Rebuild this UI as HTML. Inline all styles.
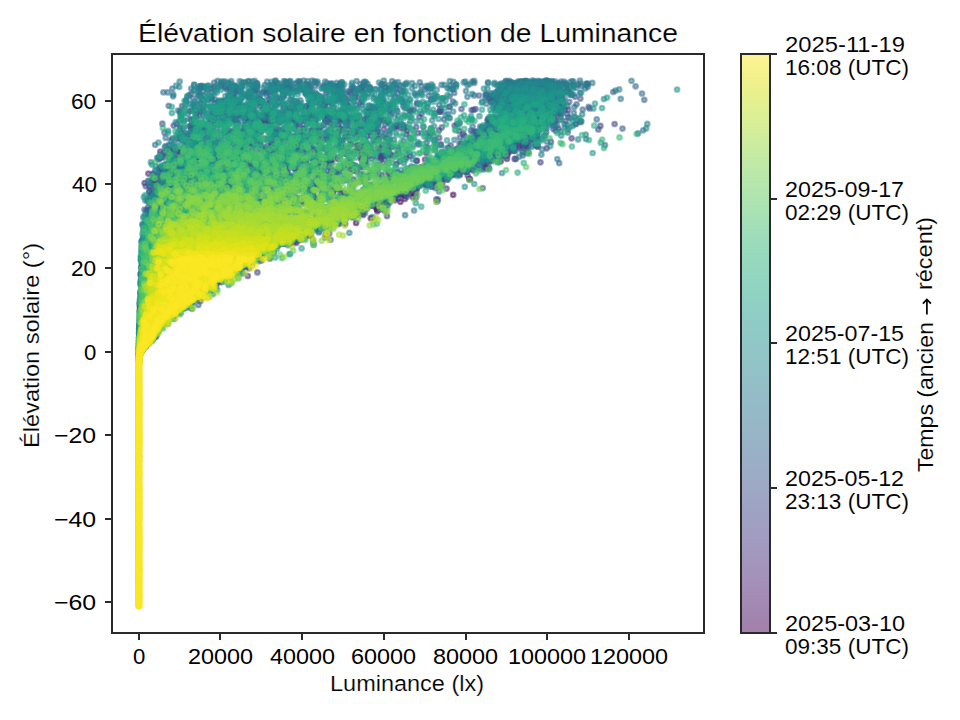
<!DOCTYPE html>
<html><head><meta charset="utf-8"><style>
html,body{margin:0;padding:0;background:#fff;width:960px;height:720px;overflow:hidden}
svg{display:block}
text{font-family:"Liberation Sans", sans-serif;fill:#000}
</style></head><body>
<svg width="960" height="720" viewBox="0 0 960 720">
<rect width="960" height="720" fill="#fff"/>
<defs><marker id="k0" markerUnits="userSpaceOnUse" markerWidth="1" markerHeight="1" overflow="visible"><circle r="2.33" fill="#450457" stroke="#450457" fill-opacity="0.5" stroke-opacity="0.5" stroke-width="2.083"/></marker><marker id="k1" markerUnits="userSpaceOnUse" markerWidth="1" markerHeight="1" overflow="visible"><circle r="2.33" fill="#460a5d" stroke="#460a5d" fill-opacity="0.5" stroke-opacity="0.5" stroke-width="2.083"/></marker><marker id="k2" markerUnits="userSpaceOnUse" markerWidth="1" markerHeight="1" overflow="visible"><circle r="2.33" fill="#471063" stroke="#471063" fill-opacity="0.5" stroke-opacity="0.5" stroke-width="2.083"/></marker><marker id="k3" markerUnits="userSpaceOnUse" markerWidth="1" markerHeight="1" overflow="visible"><circle r="2.33" fill="#481668" stroke="#481668" fill-opacity="0.5" stroke-opacity="0.5" stroke-width="2.083"/></marker><marker id="k4" markerUnits="userSpaceOnUse" markerWidth="1" markerHeight="1" overflow="visible"><circle r="2.33" fill="#481b6d" stroke="#481b6d" fill-opacity="0.5" stroke-opacity="0.5" stroke-width="2.083"/></marker><marker id="k5" markerUnits="userSpaceOnUse" markerWidth="1" markerHeight="1" overflow="visible"><circle r="2.33" fill="#482071" stroke="#482071" fill-opacity="0.5" stroke-opacity="0.5" stroke-width="2.083"/></marker><marker id="k6" markerUnits="userSpaceOnUse" markerWidth="1" markerHeight="1" overflow="visible"><circle r="2.33" fill="#482576" stroke="#482576" fill-opacity="0.5" stroke-opacity="0.5" stroke-width="2.083"/></marker><marker id="k7" markerUnits="userSpaceOnUse" markerWidth="1" markerHeight="1" overflow="visible"><circle r="2.33" fill="#472a7a" stroke="#472a7a" fill-opacity="0.5" stroke-opacity="0.5" stroke-width="2.083"/></marker><marker id="k8" markerUnits="userSpaceOnUse" markerWidth="1" markerHeight="1" overflow="visible"><circle r="2.33" fill="#472f7d" stroke="#472f7d" fill-opacity="0.5" stroke-opacity="0.5" stroke-width="2.083"/></marker><marker id="k9" markerUnits="userSpaceOnUse" markerWidth="1" markerHeight="1" overflow="visible"><circle r="2.33" fill="#463480" stroke="#463480" fill-opacity="0.5" stroke-opacity="0.5" stroke-width="2.083"/></marker><marker id="k10" markerUnits="userSpaceOnUse" markerWidth="1" markerHeight="1" overflow="visible"><circle r="2.33" fill="#443983" stroke="#443983" fill-opacity="0.5" stroke-opacity="0.5" stroke-width="2.083"/></marker><marker id="k11" markerUnits="userSpaceOnUse" markerWidth="1" markerHeight="1" overflow="visible"><circle r="2.33" fill="#433e85" stroke="#433e85" fill-opacity="0.5" stroke-opacity="0.5" stroke-width="2.083"/></marker><marker id="k12" markerUnits="userSpaceOnUse" markerWidth="1" markerHeight="1" overflow="visible"><circle r="2.33" fill="#414287" stroke="#414287" fill-opacity="0.5" stroke-opacity="0.5" stroke-width="2.083"/></marker><marker id="k13" markerUnits="userSpaceOnUse" markerWidth="1" markerHeight="1" overflow="visible"><circle r="2.33" fill="#3f4788" stroke="#3f4788" fill-opacity="0.5" stroke-opacity="0.5" stroke-width="2.083"/></marker><marker id="k14" markerUnits="userSpaceOnUse" markerWidth="1" markerHeight="1" overflow="visible"><circle r="2.33" fill="#3e4c8a" stroke="#3e4c8a" fill-opacity="0.5" stroke-opacity="0.5" stroke-width="2.083"/></marker><marker id="k15" markerUnits="userSpaceOnUse" markerWidth="1" markerHeight="1" overflow="visible"><circle r="2.33" fill="#3c508b" stroke="#3c508b" fill-opacity="0.5" stroke-opacity="0.5" stroke-width="2.083"/></marker><marker id="k16" markerUnits="userSpaceOnUse" markerWidth="1" markerHeight="1" overflow="visible"><circle r="2.33" fill="#3a548c" stroke="#3a548c" fill-opacity="0.5" stroke-opacity="0.5" stroke-width="2.083"/></marker><marker id="k17" markerUnits="userSpaceOnUse" markerWidth="1" markerHeight="1" overflow="visible"><circle r="2.33" fill="#38598c" stroke="#38598c" fill-opacity="0.5" stroke-opacity="0.5" stroke-width="2.083"/></marker><marker id="k18" markerUnits="userSpaceOnUse" markerWidth="1" markerHeight="1" overflow="visible"><circle r="2.33" fill="#365d8d" stroke="#365d8d" fill-opacity="0.5" stroke-opacity="0.5" stroke-width="2.083"/></marker><marker id="k19" markerUnits="userSpaceOnUse" markerWidth="1" markerHeight="1" overflow="visible"><circle r="2.33" fill="#34618d" stroke="#34618d" fill-opacity="0.5" stroke-opacity="0.5" stroke-width="2.083"/></marker><marker id="k20" markerUnits="userSpaceOnUse" markerWidth="1" markerHeight="1" overflow="visible"><circle r="2.33" fill="#32658e" stroke="#32658e" fill-opacity="0.5" stroke-opacity="0.5" stroke-width="2.083"/></marker><marker id="k21" markerUnits="userSpaceOnUse" markerWidth="1" markerHeight="1" overflow="visible"><circle r="2.33" fill="#30698e" stroke="#30698e" fill-opacity="0.5" stroke-opacity="0.5" stroke-width="2.083"/></marker><marker id="k22" markerUnits="userSpaceOnUse" markerWidth="1" markerHeight="1" overflow="visible"><circle r="2.33" fill="#2e6d8e" stroke="#2e6d8e" fill-opacity="0.5" stroke-opacity="0.5" stroke-width="2.083"/></marker><marker id="k23" markerUnits="userSpaceOnUse" markerWidth="1" markerHeight="1" overflow="visible"><circle r="2.33" fill="#2d718e" stroke="#2d718e" fill-opacity="0.5" stroke-opacity="0.5" stroke-width="2.083"/></marker><marker id="k24" markerUnits="userSpaceOnUse" markerWidth="1" markerHeight="1" overflow="visible"><circle r="2.33" fill="#2b748e" stroke="#2b748e" fill-opacity="0.5" stroke-opacity="0.5" stroke-width="2.083"/></marker><marker id="k25" markerUnits="userSpaceOnUse" markerWidth="1" markerHeight="1" overflow="visible"><circle r="2.33" fill="#2a788e" stroke="#2a788e" fill-opacity="0.5" stroke-opacity="0.5" stroke-width="2.083"/></marker><marker id="k26" markerUnits="userSpaceOnUse" markerWidth="1" markerHeight="1" overflow="visible"><circle r="2.33" fill="#287c8e" stroke="#287c8e" fill-opacity="0.5" stroke-opacity="0.5" stroke-width="2.083"/></marker><marker id="k27" markerUnits="userSpaceOnUse" markerWidth="1" markerHeight="1" overflow="visible"><circle r="2.33" fill="#27808e" stroke="#27808e" fill-opacity="0.5" stroke-opacity="0.5" stroke-width="2.083"/></marker><marker id="k28" markerUnits="userSpaceOnUse" markerWidth="1" markerHeight="1" overflow="visible"><circle r="2.33" fill="#25838e" stroke="#25838e" fill-opacity="0.5" stroke-opacity="0.5" stroke-width="2.083"/></marker><marker id="k29" markerUnits="userSpaceOnUse" markerWidth="1" markerHeight="1" overflow="visible"><circle r="2.33" fill="#24878e" stroke="#24878e" fill-opacity="0.5" stroke-opacity="0.5" stroke-width="2.083"/></marker><marker id="k30" markerUnits="userSpaceOnUse" markerWidth="1" markerHeight="1" overflow="visible"><circle r="2.33" fill="#228b8d" stroke="#228b8d" fill-opacity="0.5" stroke-opacity="0.5" stroke-width="2.083"/></marker><marker id="k31" markerUnits="userSpaceOnUse" markerWidth="1" markerHeight="1" overflow="visible"><circle r="2.33" fill="#218f8d" stroke="#218f8d" fill-opacity="0.5" stroke-opacity="0.5" stroke-width="2.083"/></marker><marker id="k32" markerUnits="userSpaceOnUse" markerWidth="1" markerHeight="1" overflow="visible"><circle r="2.33" fill="#20928c" stroke="#20928c" fill-opacity="0.5" stroke-opacity="0.5" stroke-width="2.083"/></marker><marker id="k33" markerUnits="userSpaceOnUse" markerWidth="1" markerHeight="1" overflow="visible"><circle r="2.33" fill="#1f968b" stroke="#1f968b" fill-opacity="0.5" stroke-opacity="0.5" stroke-width="2.083"/></marker><marker id="k34" markerUnits="userSpaceOnUse" markerWidth="1" markerHeight="1" overflow="visible"><circle r="2.33" fill="#1f9a8a" stroke="#1f9a8a" fill-opacity="0.5" stroke-opacity="0.5" stroke-width="2.083"/></marker><marker id="k35" markerUnits="userSpaceOnUse" markerWidth="1" markerHeight="1" overflow="visible"><circle r="2.33" fill="#1f9e89" stroke="#1f9e89" fill-opacity="0.5" stroke-opacity="0.5" stroke-width="2.083"/></marker><marker id="k36" markerUnits="userSpaceOnUse" markerWidth="1" markerHeight="1" overflow="visible"><circle r="2.33" fill="#1fa187" stroke="#1fa187" fill-opacity="0.5" stroke-opacity="0.5" stroke-width="2.083"/></marker><marker id="k37" markerUnits="userSpaceOnUse" markerWidth="1" markerHeight="1" overflow="visible"><circle r="2.33" fill="#21a585" stroke="#21a585" fill-opacity="0.5" stroke-opacity="0.5" stroke-width="2.083"/></marker><marker id="k38" markerUnits="userSpaceOnUse" markerWidth="1" markerHeight="1" overflow="visible"><circle r="2.33" fill="#23a983" stroke="#23a983" fill-opacity="0.5" stroke-opacity="0.5" stroke-width="2.083"/></marker><marker id="k39" markerUnits="userSpaceOnUse" markerWidth="1" markerHeight="1" overflow="visible"><circle r="2.33" fill="#26ad81" stroke="#26ad81" fill-opacity="0.5" stroke-opacity="0.5" stroke-width="2.083"/></marker><marker id="k40" markerUnits="userSpaceOnUse" markerWidth="1" markerHeight="1" overflow="visible"><circle r="2.33" fill="#2ab07f" stroke="#2ab07f" fill-opacity="0.5" stroke-opacity="0.5" stroke-width="2.083"/></marker><marker id="k41" markerUnits="userSpaceOnUse" markerWidth="1" markerHeight="1" overflow="visible"><circle r="2.33" fill="#2fb47c" stroke="#2fb47c" fill-opacity="0.5" stroke-opacity="0.5" stroke-width="2.083"/></marker><marker id="k42" markerUnits="userSpaceOnUse" markerWidth="1" markerHeight="1" overflow="visible"><circle r="2.33" fill="#35b779" stroke="#35b779" fill-opacity="0.5" stroke-opacity="0.5" stroke-width="2.083"/></marker><marker id="k43" markerUnits="userSpaceOnUse" markerWidth="1" markerHeight="1" overflow="visible"><circle r="2.33" fill="#3bbb75" stroke="#3bbb75" fill-opacity="0.5" stroke-opacity="0.5" stroke-width="2.083"/></marker><marker id="k44" markerUnits="userSpaceOnUse" markerWidth="1" markerHeight="1" overflow="visible"><circle r="2.33" fill="#42be71" stroke="#42be71" fill-opacity="0.5" stroke-opacity="0.5" stroke-width="2.083"/></marker><marker id="k45" markerUnits="userSpaceOnUse" markerWidth="1" markerHeight="1" overflow="visible"><circle r="2.33" fill="#4ac16d" stroke="#4ac16d" fill-opacity="0.5" stroke-opacity="0.5" stroke-width="2.083"/></marker><marker id="k46" markerUnits="userSpaceOnUse" markerWidth="1" markerHeight="1" overflow="visible"><circle r="2.33" fill="#52c569" stroke="#52c569" fill-opacity="0.5" stroke-opacity="0.5" stroke-width="2.083"/></marker><marker id="k47" markerUnits="userSpaceOnUse" markerWidth="1" markerHeight="1" overflow="visible"><circle r="2.33" fill="#5ac864" stroke="#5ac864" fill-opacity="0.5" stroke-opacity="0.5" stroke-width="2.083"/></marker><marker id="k48" markerUnits="userSpaceOnUse" markerWidth="1" markerHeight="1" overflow="visible"><circle r="2.33" fill="#63cb5f" stroke="#63cb5f" fill-opacity="0.5" stroke-opacity="0.5" stroke-width="2.083"/></marker><marker id="k49" markerUnits="userSpaceOnUse" markerWidth="1" markerHeight="1" overflow="visible"><circle r="2.33" fill="#6ccd5a" stroke="#6ccd5a" fill-opacity="0.5" stroke-opacity="0.5" stroke-width="2.083"/></marker><marker id="k50" markerUnits="userSpaceOnUse" markerWidth="1" markerHeight="1" overflow="visible"><circle r="2.33" fill="#75d054" stroke="#75d054" fill-opacity="0.5" stroke-opacity="0.5" stroke-width="2.083"/></marker><marker id="k51" markerUnits="userSpaceOnUse" markerWidth="1" markerHeight="1" overflow="visible"><circle r="2.33" fill="#7fd34e" stroke="#7fd34e" fill-opacity="0.5" stroke-opacity="0.5" stroke-width="2.083"/></marker><marker id="k52" markerUnits="userSpaceOnUse" markerWidth="1" markerHeight="1" overflow="visible"><circle r="2.33" fill="#89d548" stroke="#89d548" fill-opacity="0.5" stroke-opacity="0.5" stroke-width="2.083"/></marker><marker id="k53" markerUnits="userSpaceOnUse" markerWidth="1" markerHeight="1" overflow="visible"><circle r="2.33" fill="#93d741" stroke="#93d741" fill-opacity="0.5" stroke-opacity="0.5" stroke-width="2.083"/></marker><marker id="k54" markerUnits="userSpaceOnUse" markerWidth="1" markerHeight="1" overflow="visible"><circle r="2.33" fill="#9dd93b" stroke="#9dd93b" fill-opacity="0.5" stroke-opacity="0.5" stroke-width="2.083"/></marker><marker id="k55" markerUnits="userSpaceOnUse" markerWidth="1" markerHeight="1" overflow="visible"><circle r="2.33" fill="#a8db34" stroke="#a8db34" fill-opacity="0.5" stroke-opacity="0.5" stroke-width="2.083"/></marker><marker id="k56" markerUnits="userSpaceOnUse" markerWidth="1" markerHeight="1" overflow="visible"><circle r="2.33" fill="#b2dd2d" stroke="#b2dd2d" fill-opacity="0.5" stroke-opacity="0.5" stroke-width="2.083"/></marker><marker id="k57" markerUnits="userSpaceOnUse" markerWidth="1" markerHeight="1" overflow="visible"><circle r="2.33" fill="#bddf26" stroke="#bddf26" fill-opacity="0.5" stroke-opacity="0.5" stroke-width="2.083"/></marker><marker id="k58" markerUnits="userSpaceOnUse" markerWidth="1" markerHeight="1" overflow="visible"><circle r="2.33" fill="#c8e020" stroke="#c8e020" fill-opacity="0.5" stroke-opacity="0.5" stroke-width="2.083"/></marker><marker id="k59" markerUnits="userSpaceOnUse" markerWidth="1" markerHeight="1" overflow="visible"><circle r="2.33" fill="#d2e21b" stroke="#d2e21b" fill-opacity="0.5" stroke-opacity="0.5" stroke-width="2.083"/></marker><marker id="k60" markerUnits="userSpaceOnUse" markerWidth="1" markerHeight="1" overflow="visible"><circle r="2.33" fill="#dde318" stroke="#dde318" fill-opacity="0.5" stroke-opacity="0.5" stroke-width="2.083"/></marker><marker id="k61" markerUnits="userSpaceOnUse" markerWidth="1" markerHeight="1" overflow="visible"><circle r="2.33" fill="#e7e419" stroke="#e7e419" fill-opacity="0.5" stroke-opacity="0.5" stroke-width="2.083"/></marker><marker id="k62" markerUnits="userSpaceOnUse" markerWidth="1" markerHeight="1" overflow="visible"><circle r="2.33" fill="#f1e51d" stroke="#f1e51d" fill-opacity="0.5" stroke-opacity="0.5" stroke-width="2.083"/></marker><marker id="k63" markerUnits="userSpaceOnUse" markerWidth="1" markerHeight="1" overflow="visible"><circle r="2.33" fill="#fbe723" stroke="#fbe723" fill-opacity="0.5" stroke-opacity="0.5" stroke-width="2.083"/></marker></defs><g fill="none" stroke="none"><path d="M345.4 219l51-24-22 11.3-24.1 9.9-41.4 3.9-114.1 79 120-71.1-5.5-33-19.4-1.6 32.4-0.1 130.9 1.5-49.3 0.6 8.9 1.5-30.4 7.9-5.1 6.4-21 3.6-0.2 8.1-1.8-28.9-7-0.7-39.7-0.6 24.5 0.5 81.9 1.3-19.4 3.7-25.9 6.6-5.8 6.7-163.1 85.3 171-78.6-60.8-20.2-6.1-1.2-19.2-3.8-22 3.7 120.9 6.6-23.3 6.8" marker-start="url(#k0)" marker-mid="url(#k0)" marker-end="url(#k0)"/>
<path d="M160.3 197.6l-6.3-5.4 116.3-2.7 28.1 0.5 44.3 2.2-29.9 2.9 0.9 3.8-4.1 6.2-3.3 7.3 3.4 18.9 43.2-14.2 23.8-8.2 9.3-3.7 14.4-3.4-5.6-1.6-52.4-4.3 9.8-4.5 58.3-4.6 21.7-0.1-127.3 0 21.3 0.1-15.5 0.6-49.7 1-29.8 1.4 173.8 5-113.1 10.6-70.7 76.7 166.5-83.6-135.5-5.5-97.2-8 1.3 0 157.4 0.8-55.5 0.4 53.2 2.8-28.5 1.9 79.2 16.7-3.1 4.1-71.3-9.8 28.6-3.5-21.5-1.6 101.3-2.9-164.8-6.8 190.6-2.9-51.3 1-231.5 157.8 0-10.4 0.1-3.4" marker-start="url(#k1)" marker-mid="url(#k1)" marker-end="url(#k1)"/>
<path d="M280.9 202l-131.5-15.7 7.2-3.9 2.8-0.7-8.3 0.8 9.2 0.5 92.1 78.9 125.9-59.6-214.7-18.5 64.3-0.8 207.1-2.6-257.5 0.5 20.7 0.5 78.8 2 68.2 40.4-83.9 36.7-111.6-63.6 252.8-3.5-67.8-13.6 107.5 3.9-14.5 1-201 2.4 86.6 4.2-5.6 1.6 15.7 34.8-183.8 97.1 0.7-17 264.5-108.8-151.9-1.9-91.5-9.9 70.6-6.8 237.3-1.5-178.3-1.1-93.8-1.1 85.3 1 5.2 10.6-23.4 10.3 26 4-20.7 55.6-130.5 198 15.3-119" marker-start="url(#k2)" marker-mid="url(#k2)" marker-end="url(#k2)"/>
<path d="M243.2 266.7l94.4-67.4 49-19.7 4.2-1.7 11.5-2.8-3.5 0-16.8 0.1-32.8 20.1-1.5 3.9 15.3 15.7-45.4 13-60.7 29.1-9.2 9.4 115.7-76.3 56.1-4.8 38.5-11.9-187 0.1-18.1 26.4 85.9 24-139.3 72.7 87.6-84.7 92.5-2.4-93.6-28.7 155.8-1.3-53.2-5.6 2.3-2-91.8 7.8-55.6 2.7 73.6 29.9 1.9 15.9-18.1 11.4-10.9 3-44.3 21.6-104.6 87.8 148.6-108.4 100.6-47.1 10.1-4.1 9.7-1.9 4.5-1.9 36.9-14.9 14.8-2.1 0.7-0.9 5.9-0.4-19.1 4.6-81.7 12.4-40.6 36.9-190.6 128" marker-start="url(#k3)" marker-mid="url(#k3)" marker-end="url(#k3)"/>
<path d="M206.1 290.3l56.9-35.9 48.1-18.3 175-67.6-30.6 3.9 14.5 7-72.8 14.2-147.2 68.9 43.7-60.2 7.1-2.4-116.7-10.8 113.5-1.9 126.1-5.4-169.5-6 7.5-8.9-63.3 0 84.8 2.3 26.7 1.6 50.6 3.2-32.1 1.2-12.5 1.3 51.9 1.4-14.3 1.6-1.2 6.8-14.3 1.9-5.1 4.1-24.9 4.3 8 2.2 5 7.2-128.2 94.7 128-73.5-173.4-26.5 4.2-6.9 6.4-2.2-2.2-4.1-1.4-5.6 4.9-13.2 329.4-0.8-261.1-1.3 83.2-0.5 117.2-0.9-261.1 0.4 2.3 5.7-7.4 1.2-8.5 1.2 3.6 1.3 4.7 1.5-8.4 1.5-1 3.3-7.6 1.7 18.7 1.9 124.1 19.8 28.1 9.7 103.2-30.5 6.7-18.4-28.1 6.7 62.6 2.8-27.8 6.6 4.8 1.9-287.5 8.2 113.8 60.6-67.7 46.4-56.4 61.9 0.6-34.9" marker-start="url(#k4)" marker-mid="url(#k4)" marker-end="url(#k4)"/>
<path d="M303.2 199.9l85.3-15.6-194.5-2 95.8-3.7 77.1-1.7-14.8-11.5-155.4 11.3 111.2 7.3-150.6 148-14.6-91.3 0.4-3.1 230.2-34.2-202.2-16.6 122.1-8-92.9-3.6 155.2-9.6-105.4-4.4 78.9-0.7-47.1-0.2-48.8 2.7-9.1 3.7 23.9 3.9-99.5 3 17.8 9.1 110.2 15.7 66.1 21.4-81 7.2 71.2-55 18.4-3.1-10.3-1.3 37.2-2.5 122.8-3.8-2.4-2.5 8.7 0.2-20.4 1.7-90.3 3.4-34 2.3-140.3 1.3-36.4 1.4 26.8 117.9 87.6-101.2-106.8-18.5-24.4-9.7 275.7-0.4 46 0.2-233.2 7.6-79.6 5.8 46.1 1.6 87.3 23.4 73.6 2.6-109.8 5.2-59.6 80.8" marker-start="url(#k5)" marker-mid="url(#k5)" marker-end="url(#k5)"/>
<path d="M216.6 186.5l104.4-8.7-67.4-1.9 83-3.8 2.5-1.7-27.7-1.7 14.2-4.4-28.9-1.3 69-1.2-35.1-1.1-32.5-1 107.8-1.7-22.6-2.3-1.3-0.2 9.4 0.1-30.5 2.7-78.5 12.7 17 1.8-40.2 1.9-61.4 8.1 120.2 2.2-164.9 17.3 234.4 2.9 4.2-8 7.6-2.6-25-7.3 88.5-20.2-175.2-1.5 60.5-2.9 154.1-7 4.5-1.4-5.2 0.6 4.7 0.5-20.9 4.2 6.4 1.2-3 1.2-60.6 4.3 3.5 13-29.8 11.5-61.5 5.1-168.8 120.8 124.8-73.8-143.4-61.8 7.4-4.4 14.9-4-15.4-1.9 124.7-8.3 0.3-1.4 52.1-2.5-122.1-1.1 15.2-1 88.1-1.7-124.6-2.4-13.9 0.2 17.1 4.5 16.5 1 104.1 6.8 17.2 9 33.9 2-21.2 4.3-104.9 2.3 144.3 14.8-48.4 2.6-58.6 20-139 54.7 0.1 30.8 150.3-63.9 11.5-3.2 35-15.7 41.2-36 46.3-27.1 26.9-8.4 2.2 0.3-11.6 1.6 41.7 10.5 0.8 3.4-43.5 9.8-300.9 107.1-0.7 20.6 0.2 6.9" marker-start="url(#k6)" marker-mid="url(#k6)" marker-end="url(#k6)"/>
<path d="M382.4 200.8l-146.9-13.3-56-18 15.2-5.5-35.8-4.7 0.3-1.4 6.4-2.5 16.8-3-13-2.8 290.3-0.4-289.7 1.6-9.7 0.7 8.8 2.6 6.1 3.6 43 2.8 36.1 1.6-80.1 1.6 15.1 1.8 98.4 5.7-132.6 8.7 0.9 9.7 106.6 6.9 183.9-7.9 29.3-27.8 31.7-5.8 2-3.3-4.3-4 14.2 0.3-257 3.6-79.1 1 319.1 2.3-15 5.8-237.7 9.2 134.8 40.7-25.9 2.9-174.8 94.9 103.6-64.6 15.5-40.3 30.7-13.8-63-21.3 48.1-5.8-3.5-1.7-57.9-3.3 41.5-4.2 59.2-1.2-106.5-2.1 11.1-0.9 100.8-2.5-48.6 2.6 72.7 1.9-90.2 1.1 99.1 2.5-46.4 6.2-4.3 3.6-76.1 1.9-1.1 10.9 2.2 4.8-108.6 24.3-12.1 2.9-8.6 57.8 0.3 17 18.1 43.6 61.8-48.4-77.4-53.1 159.6-27.1 104.7-5.6-59.3-24.6 16.3-2.1-87.9-3.9 86.9-1.9 45.7-5 16-3-63.2-2.5 15.1-1.1 159.5-3.3-227-1.7 213.1 3.3-350.3 3 96.8 2.6-35.3 6.2 25 1.8 16.3 3.8-21.3 6.3-86 17.1 46.7 94.7" marker-start="url(#k7)" marker-mid="url(#k7)" marker-end="url(#k7)"/>
<path d="M325.5 234.5l-159.4-45.1 61.6-2.7-4-2.6-27.6-9.9 215.6-6.7 103.7-22.7-5.4 2.4 36.7 1.1-33.1 2.3-18.7 1.4-1.8 4.6-3.6 3.5-44.9 17.2 2.5 2.4-131.6 24.6-7.1 15.1-166.6 22.4 1.1 3.3 35.7 66.2 21.8-10.4 39.2-31-55.9-81.9-3-2.7 221.3-10.2 3-2.4-80.5-8.8-5.6-2 42.9-2-21-12.4-42.7-1.1 178.8-2.6 1.3-0.7 48.7-0.6-297.3-0.3 152.7 2.7-23.2 0.9 32.8 1-23.7 1.2 19.4 1.2-30.8 1.4 21.8 1.4-17.3 1.6-126.4 5.1 95.4 3.9-72.5 6.4 65.4 2.3-164.4 12.3 22.2 5.4 83.6 11.3-106.6 3.4 128.4-8.8-8.4-5.6 12.6-2.7 16.5-2.7-22.2-5.2-25.1-5-26.1-2.4 51.3-4.6-64.5-2.2 107.9-9.8 199.1-1.7-261.8-1.6 81.4-2.9-74.8-1.3 67.9-2.3-129.2-1 8.1-0.9 38.6-1.4-13.2-0.6 95-0.9 101.3 4.3-83.6 1 31.1 5.2-61.3 6.8-21.3 3.9 38.3 4.2 27.1 6.9 4.7 2.4-45.4 5.1 0.7 10.7 9.8 2.8-100.3 11.7-59.1 0.2 96.3-8.9 138.1-2.9-185.1-16.3-39.6-2.5 57.5-7.2 0.8-4.5 81.2-2.1 184-2-186.3-2-56.1-3.7 17.8-1.7-27.1-1.6 8.9-2.9 14.5-2.5-26.2-1.1 58.8-1 22.8-0.9-106.4-0.8-24.9-0.7 26.1-0.5-5.6-0.8 33-0.2 74 0-141.6 3.5 20.9 0.9 6 1.1 98.2 3.8-43.2 1.5 17.4 1.6 9.3 1.6-37.1 3.6-71.3 1.9 29.1 2-0.5 2.1 69.4 6.7-4.7 7.3-27.8 2.6 4.8 5.3 47.6 2.7-69.3 2.8 153.4 8.6-150.8 77.9-108.6 58.5-0.4 20.2" marker-start="url(#k8)" marker-mid="url(#k8)" marker-end="url(#k8)"/>
<path d="M307.6 235.7l73.3-37.8 42.6-16.9 74.1-19.4 37.4-16.1-1.7-6.3-6.4-0.7-138.1 1.2-12.3 0.9 149.9 4.5-7.3 1.3-27 6.6-75.2 7.9 45.9 9.1-154.4 64.6-41.4 16.6-21.3 13.6-68.5 48.2 40.9-31.1 30.7-13.7 8.6-10.3 38.5-16.9-32.1-16.4 189.8-52.8 14.6-2.4 13.3-9.3 9.7-8 12.4-3.5 27.3-9.3-50.8-0.8 56.6-2.5-13.8 2.3 2.2 6.8-116.3 23.7 18.9 15.7-287.4 141.3 327.4-150.2-43.2-7.6 49.3-4.8-12.2-19.3 13.6-8.4 57.7-1.3 11.6 1.9-74.1 2.6 48.6 3.6-55.1 3 32.8 11-81.3 11.3-79.4 33.2-42.7 41.8-99.5 57.6 112.9-65-90-52.8 10.6-2.8 285.9-30.4 23.8-11.8-249.6-4.9 238.7 2.2-239.5 0.8-114.3 3 267 20.9-52.6 40.4-76.9 35.1-122.9 71.9" marker-start="url(#k9)" marker-mid="url(#k9)" marker-end="url(#k9)"/>
<path d="M153.9 211.1l35.8-3.2 54.6-21.2-52.5-23.9 51.1-4.7 102.4-4.4-67.2-2.1 27.1-3.9-14.1-1.8 11-3.3 14.9-3 254.6-1.3-226.1-1.3-67.9-1.1-39.3-1 48.5-3.6 51.5 0.3 20 1-11.2 0.7 30.2 1.7-128.2 9.3-23.3 3.5-47.9 3.9 123 4.3 63.1 2.2-192.8 14.8 101.1 51.1 36.8-38.7 119-37.2 71.1-16.4-14.6-1.2 0.6-0.7 8.4-0.2-218.4 6.1-81.5 1.2 153.6 79.6-187.7-49 8.6-2.6 37-5 88.4-15.1-38-1.8-49.5-3.4 139.2-3-12.5-2.5 97.5-1.2-135.8-4.7 106 0-29.7 0.2-4.9 0.3-62.3 0.5 102.9 5.1 53.1 9.1-194.4 3.8 106.4 4.1 12.7 4.4-2.3 2.3-28.2 12.7-39.3 13.9 14.3 3-20.4 3-59.4 3 34.6 6.1-127.5 136.6 40.4-37.5-41.8-75.3 173-16.2 53-9.5 94.6-31.6-87.2-7.6-30.4-13.2 28.5-7.2-12.6-11.4 10 2.3-41.9 16.8-31.3 2.1 191.9 2.1-81 16.8 38.2 2.7-199.3 32.2 53 25.9" marker-start="url(#k10)" marker-mid="url(#k10)" marker-end="url(#k10)"/>
<path d="M255.4 259.7l22.1-13.7 27.1-10.2 37.9-16.7 82.5-34.5-93.1-22.2 45.3-5-101.9-2.4 9.7-2.3 24.1-2.3 42.2-6.3-29.4-3.8 55.2-1.7-152.1-1.7 270.2-3-20.1-2.5 21.9-0.8 40.1 1.2-50.3 1.3-192.5 2.9-54.9 1.5-43 3.5 74.8 3.8 216 13.5-6.7 10.3-255.6 14.1-28.6 5.9-35 6.1 33 12.6-21.9 108.6 263.4-132.6 91.6-36.4 5.4-7.9-73.6-7.8 99.4-2.4-44-4.7-176 0.6 144.9 10 43.1 3.3-7.7 1.8 17 3.9-42.3 8.7-132 53.9 25.4 9.8-190.6 81.8-38.7 34-15.5-43.4-0.8-3.4-0.4-3.5 94.1-111 227.7-22.8 54.1-8.3-174.8-8.3-139.7-4.7-28.7-0.9 18.4-0.8 115.4-1.2 245.1-0.9-62.9 0.1 0.5 1.6-261.1 9.1 18.8 7 73.4 6.2-24.5 2.2-23.4 2.3 15.1 2.4-68.4 2.5 32.8 2.5-81.7 19.1 24.5 5.9 2.9 25-55.6 54.6 16.1-37.5 86.6-47.7-24-5.8 28.9-5.6 64.6-5.4-77.6-14.7-9.1-2.2 88.1-11.4-34.7-3 217.9-1.4 12.1-5.7-18.8-1-145.5-0.4 39.5 0.1-115.5 0.5 8.1 0.5 44.4 2.2-78.6 1 74.7 1.1-42.5 2.5 111.6 1.4-57.9 1.5 3.7 1.7-32.4 1.7-17.3 3.7-32.5 6.3 32 2.2-19.7 23.2 66.4 2.8-75.3 11.9 2.7 9.2 45 6.4-23 3.2" marker-start="url(#k11)" marker-mid="url(#k11)" marker-end="url(#k11)"/>
<path d="M261.7 201.5l36.6-3.2-32.2-12.5-2.9-6 67.7-3-46.3-2.9-29.1-2.9 41.7-11 26.1-2.6-35.3-7.5 91.1-2.4-72.1-2.3 11.5-10.2 34.2-1.7 12.1-3.3 235.6-4.1-342.7-3.8 36.8-1.6 71.9-0.4-93 0.6-20.8 1.1-59.2 2.6 2.2 1.1 80.2 4 78.3 1.5-111 1.6-31.2 1.8 65.9 3.7-110.6 26.3 1.3 2.7 2.3 2.9 59.1 14.7-90.3 144.4 47.5-115.6 0.4-25.7 2.8-15.1 320.8-28.7-21.8-8.4-298-6.9 53.9-1.5-54.6-1.3 18-2.4 54.2-2.7-71.4-0.7 100.7-0.9 32.9-0.3-73.6-0.2-41.1 0.1 50.6 1.1-11.9 0.6 19 0.8-7.6 0.9-47.7 9.3 66.8 7.5 37.6 11.3-52.8 2.5 4.9 2.6-11.6 2.6 54.6 8.1-50.1 2.9 31 8.7 35.7 12.2 72.3 3.1-26.2 9.6-207.8 119.2 74.4-122.5-33.1-9.5 65.8-26.8-44.2-2.7 35-2.7 61.6-2.6-81.7-5.1-42.3-2.5 25.5-4.6-47.4-4.4 12.8-2.1 17.5-1.9-7.9-5.4 45.3-3 85.7-1.4-19.7-1.3 25.9-3.8-0.9-0.7-74.5-0.9 84.8-0.1-4.9 0.9 115 4.3-2.7 1.3-2.5 1.3-31.1 1.5-19.5 1.5 35.1 1.7-6.7 1.7 30.8 1.9-24 4-5.2 2.1-15.7 4.5-27.6 9.8-10.1 2.6-77.9 2.7 237.8 2.7-189.2 2.8-75.4 11.6 17.4 61.6-124.7-49.6 16.4-21.2 79.1-2.8 258.5-18.5-251.6-2.3 146.7-10.8-74.9-3.6 5.7-6.2-38.2-1.3 69.4-1.1-15.6-1-35.2-2.4 90.5-0.5-151.1-0.7 104.3 0.2-38 0.4-56 1.9-1.4 0.9 12 1-24.9 2.4 131.1 4.4-76.5 1.6 88.1 1.8 20.7 1.9 95.8 4-182.3 9 42 2.4 15.3 5.1-77.2 16.6 5.1 11.9-81.6 6.2 7 3.2-109.2 32.8" marker-start="url(#k12)" marker-mid="url(#k12)" marker-end="url(#k12)"/>
<path d="M165.1 323l42.6-33.9 31.6-104.6 231.7-18.1 24.7-11.1-97.7-2.7 36.9-2.5 13.4-2.6-12.1-2.4-9.7-2.4-137.3-8.8-40.2-9 16.9-4.1-1.6-1.2-17.3-1 0.1-0.9 14.2-2-39-0.4 21.5-0.4-11 0 72 0.4 13.5 0.3 49.1 0.6-93.1 0.6 233.1 11.2 11.9 9.8-9.8 11.9 18.7 2.6-163.2 2.6 18.1 8.3-65.4 2.8-22.4 2.9 65.7 44.2-207.2 10.1 54.3 65.2-67.8 20.2 75.4-118.9 19.2-3.1 7.3-6.3-29-12 2.6-5.8-31.7-8.3 62.8-2.7 53.2-10-86.4-2.3-26.4-4.4-9.1-2.1 35-5.7 19.6-6.2 48.3-1.3 8-1.1-63-2 13.2-2 23.8-0.4 50.8-0.2 12.2 0.2 12.7 0.4-75.8 0.5-23.4 0.7 54.5 13-68.8 1.9 34.8 2-40.6 2.1-18.6 4.4 37 2.3 1.1 2.4-35.3 2.5 40.4 2.5-18.1 7.9 18.3 2.8 0.3 2.8-10.9 2.9 2 5.8 62.1 6-0.7 6.2-118.7 19.2-16.5 3.3-20.9 75.1 34.2 34.1-36 22.7 0.5-13.1 1.8-51.1 32.9-74.9 0-12.9 28.8-6.2 24.1-3.1-12-6-43.9-5.9 40.6-2.9-21-2.8 30.2-13.3 92.5-9.5 284.6-6.3-200.3-3.7-13.3-6.2-59.4-1.3-1.6-2.2-55.9-0.9-55.2-2.7 38.9-0.1 82.9 0.1-25.5 0.3 112.7 0.9-89.7 0.7 222.1 2.7-224.9 2.4 236.5 1.4 49 3.1-266 5.4-87.3 2 11.5 2.1-24.8 4.4-52.1 7.2-24.3 7.8 24.4 5.5 20 8.6-2.6 6-35.5 6.1-18.1 9.4 11 3.2-31.6 151.8-0.4 12.6 118.6-83.7-109.7-61.7 36-10-28.4-3.3 43.7-16 22.8-18.2 88.6-11.2-41.2-2.7-41.4-5.1 31.2-4.9-11.1-2.4 4.7-14 308-5.8-307.5-2.2 53.2-2.4-109-0.9-8.1-0.3-9.3-0.1 50.7 2-34.7 0.8 18.4 4.4 51.2 2.9 19 7.1-41.3 2 58.2 4.3 235 2.2-327.2 7.2 4.8 2.6 22.4 2.6-51.1 2.7-22.3 5.5 64.2 8.6-49.1 3-2.5 3 12.5 6.1-19.9 6.3-2.4 6.3 4.5 3.3-17.3 9.8 6.1 3.3-12.9 3.3 42.9 3.4" marker-start="url(#k13)" marker-mid="url(#k13)" marker-end="url(#k13)"/>
<path d="M267 254.2l7.6-7-18.1-44.2 181.4-3.3-212.8-13-63.1-15.6 58.3-11.8-25.4-2.8 173.9-10.8 95.6-9.9-284.1-2.2 116.4-8.3 32.6-10.5-88.4-1.1 15.3-0.9 215.4-2.8-61 0.4-37.8 1.6-33.2 0.8-52.8 2 29.2 8.8 44.9 1.8 33.3 1.9-63.4 2 40.1 6.6-131.5 4.8-27.8 5 44.3 5.3 35.9 5.5 79.8 30.3-146.4 36.4 59.9-24.4 38.1-6.6 118.6-12.8-155.3-6.2-0.4-3 27-3.1-8.8-5.9-89.1-5.7 38.1-10.9 6.4-2.6-10.4-2.4 87.9-7.1-49.6-2.2 45-4.1-4-3.8 110.6-10.8-29.8-0.8-38.8-1.2 90.9-0.6 14.1 0 89.4 0.7-196.9 2.9-59.5 1.1 3.1 7 18.5 1.8-43.3 5.8 24.3 2.1-122.4 4.5 60.5 4.8-63.5 2.5 145.5 7.9-109.1 8.4 42.5 2.8-66.5 3 1.9 3 69.9 3 39.9 3.1-35.1 3 54.7 3.2-30.4 3.1-60.6 9.7 4.9 6.5-79.8 6.7-12.2 3.3 133.7-11 28.3-3.3 103.7-6.5-136.9-6.4 25.3-3.2-50-6.2 22.1-6.1 179.2-17.3 25.8-21.8 23-4 50.1-11.7-44.1-3.6 78 0.7-33.4 0.6 12.1 0.7-127 1.7 119.8 2.3-9.2 4.2-7.4 5.3-63.4 13-64.6 24.2-184.1 15.1 133.1 12.7-213.2 33.3 5 6.8 139.4-11.3 72-13.5 47.7-13.2 15.6-9.6 20.2-6.4 28.6-12.2-100-2.9-12.8-2.9 187.8-36.2-185.6-7.6 27.2-1.2-87.6-4.7-8-0.2-72.4 0 70 0.2 114.5 2.8-72.8 2-66.6 2.5-9.5 1.4 34.2 8.8 41.1 4.2-11.9 2.2-12.7 2.3-13.8 2.4 20.5 2.5 27.2 2.5 14.6 5.2-99.8 5.5 6.4 2.8-47.6 2.9 31.7 8.8-88.1 15.5 32.9 3.2 216.5 13.1-126 44.1" marker-start="url(#k14)" marker-mid="url(#k14)" marker-end="url(#k14)"/>
<path d="M329.3 233.4l107-34-113.5-6.6 15.2-3.3-22.7-3.2 49.1-6.4 26.1-6.4-29.5-6.1 38.7-6.1-33.8-5.9 32.3-8.4-24-17.6 42.2-2.2-38.5-2.2-82-2 19-3.8 32.2-1.8-135.5-1.7 62.4-1.5 285-2.7-48.1-5.7-134.5 1.7-108.4 4.1-43.7 1.3 105.9 4.7-25.2 1.8 38.1 1.9 52.3 4-81.3 4.4 0.1 2.3-109 2.4 99.2 2.4-27.3 2.5-62.2 10.8 243.1 20.7-11.3 6.2-61.7 6.4-154.4 6.5-66.9 30.1-24.9 136.1 0.6-21.9 0.6-19.5 12.1-92.4 5-23.7 56.8-19.6 74.5-3.2-9.2-3.1 5.7-3.2-14.7-3-17-3.1-69.6-6 60.2-5.8-50.1-2.8 277-8.1 25.3-5.2-232.4-11.5 316.5-2.1-213.1-5.5-22.5-1.7 216.6-6.6-3.4-3.8-364.4 0.5 357.9 1.7-36.5 0.8 20.2 1-30.6 1.1-251.1 1.2 90.4 1.3-70.3 1.5 23.3 3.2 17.6 1.8-42.8 1.9 84.9 1.9 28.9 2.1-23.6 2.2-57.2 2.2 62.9 7.2 20.7 7.8 141.1 2.7-268.8 2.8 93.9 2.8 11.1 2.9-104.1 8.9-31.1 6.2 39.3 3.1-0.5 3.1-25.8 3.2-51.4 3.2 56.8 13.1-5.2 10-84.4 22.6 61.5-37.1-36.7-13-0.7-6.4-1.9-6.2 48.7-12 1.2-2.9 95.6-2.8 10.8-2.8-10.9-5.4 51.5-7.6 63.8-4.7-38.4-2.2-78.2-4.2 16.2-2 27.3-1.9-24.1-1.8-18-1.6 79.1-5.6-98.1-2 196.4-1.5-171.7-0.9-117.5-0.4 12.2 0.1 48.9 1.3-32.9 1.6-31.5 0.9-8.1 3.7 18.2 3 278.1 18.6-193.2 30.5-59.6 3 19.1 19.1-67.4 3.2 173.8 16.6-231.6 147.4 5.8-7.2-5.5-48.8 74.4-13.6-67.2-75.6 13.1-16.7-8.9-3.3 83.5-13-16.1-3.1 288.2-24 18.4-13.3-30.4-7.2-280.4-6.5 19-3.9-21.9-7.8-30.8-2.3 110.5-1.7 85.7-1.3-67.3-0.8 48.9 0.9 43.5 3.1 24 1.1 46.3 2.6-33.5 1.5-59.3 1.5-89.6 1.7 34 1.8-132 3.9 7 11.3 34.9 2.5-5.9 2.5 76.4 2.7 245.4 2.6-352.9 5.6-20.2 11.6 1.1 9.2-18.9 3.2 76.2 12.8 61.5 23.3-27.9 17 32.2 13.8-161.4 54.9 0.4 3.4-1.3 10 0 3.3" marker-start="url(#k15)" marker-mid="url(#k15)" marker-end="url(#k15)"/>
<path d="M161.6 325.3l32.6-115.6-30.1-20.1-18.3-3.3 9.7-9.8 26.4-15.6-24.7-3 62.1-3 25.5-3-79.2-5.7 313.8-5.6 9.8-10.3-260-11.3-25.9-3.8-3.6-3.5 105.2-1.6-44.3-4 37.9-1.1 264.5-3.8-56.1 1.5 48 6.2 3.7 1.5-1.4 3.3-61.3 3.7-209.7 4.1-123.8 2.2 47.3 2.2 19.3 4.8-47.5 2.5-4.6 5.2 3.3 11.1-16 2.9 16 5.9-15.4 6.1 11 6.3 61.7 12.8 139.7 3.3 29.8 9.9-81.9 40.9 21.7-21.8 13-6.8 80.1-30 5.2-3.2 5.6-30.5 25.6-8.2 24.8-7.7 12.1-4.7-10.5-15.5-4.5-4.1 65.5-1.1-72.9-2.5 1.8-0.5 59.6 24-9.9 2.4 3.9 4.9-50.2 2.6-36.1 2.6 2.5 14.1-3.4 18.3-38.8 12.9 6.6 3.2-23.3 6.6-34 13.5-227.2 143.8-0.1-76.2 174.7-44.9 26.1-6.9-150.3-10.2-11.9-3.4-5.1-3.4 261.5-3.4-59.8-3.4-164-19.8-14.3-3.3 132-6.4 155-6.2-6-3.1 2.9-3-147-8.9 14.8-2.9 32-8.2 107.2-2.7 43.9-7.5-89.9-6.8-33.3-2.1 24.4-3.9-18-9.1-63.3-2.9-28.5 1-14.8 3.3 241.9 2.9-4.6 7-268.2 2.1 2 2.1-30.9 9.3-3.3 2.5 117.2 7.9-85.4 17.3-41.7 18.8-54.6 3.3 60.6 13.1 47.4 3.3 40 3.4-34.8 13.6-155.1 97.8 81.5-30.2 205.4-95.7-153.9-3.3 184.5-6.5-33-6.4 37.7-3.1 25-6.2 10.7-6.1 28.7-17 26-17 13.6-4.2 13.2-15.7-304.4-0.2 5.4 0.3-21.4 0.4 30.1 0.6-59.1 0.7 114.2 3-52.3 1.3 13.8 1.4 61.7 3.1-55.7 5.5 224.3 8.6 18.6 7.4-53.9 5.2-202.3 8.3 9 5.8-3.4 3 23 3 43.5 3-57.3 6.2 42.7 6.4 5 3.2-43.1 3.2 41.8 3.3-23.5 3.3 79.8 3.3-12 3.3-146.2 10.1 122.6 3.3-58.2 24-92.3 48.2-10.9 3.4-3.6 3.4" marker-start="url(#k16)" marker-mid="url(#k16)" marker-end="url(#k16)"/>
<path d="M319.2 213.7l89.5-23.7-22.3-6.6-209.4-19.3 103.4-9.3 200.5-14.6 22.1-10.7 57.2-9.7-72.3-21.7-238.8-0.4-16.1-0.4 270.8 5.2-285.4 7.5 112.5 3.8 73.9 2-23.8 4.4-3.3 2.3-65.6 7.3 66.2 10.8-193 14.6 245.2 9.3-240.2 137.6 5.1-3.3-11.6-102.7-3.2-13.4 48.4-3.3-10.6-9.7 220.7-12.6-217.8-11.9 69.2-5.7 197.7-2.8-305-8 19-2.5-25.4-2.5 38-2.4-25.2-2.3 7.1-2.2 94.6-11.2-35.5-2.9-16-2.4 109.3-1.8 227.5 5.8-14.7 1.5-13 1.6 9.8 5.5-14.6 6.4 32.1 4.7-59.4 2.5-215.2 2.5 75.9 2.6 7.2 2.7 106.6 2.7 25.8 5.7-189.1 8.8-141.2 9.1 48.6 3.2-25.4 12.8-1.7 3.2 24.2 3.3 74.9 37.2-151.6 3.5 26.7 84.3 5.8-3.3 93.8-61.3 13.4-41.3 98.1-3.4 20.8-13.4-118.9-6.6 15.5-9.7 14.6-3.2-81.6-3.2 11.2-3.1-58.1-3.1-15.9-3.1 59.2-6-31.5-5.8 264.4-2.9 17.9-5.5-20.3-2.6 10.9-2.6 16.1-2.6-10.2-4.8 4.5-2.3 21.8-10.2 20.8-1.7 18.2-3.2 16.3-1.4-90.2-6.3 13.2 0.1 69 2.1-66.5 1.9 38.8 10.5 19.4 10.7-67.9 7.4-4.8 34.8-12.5 6.4-72.3 23-117.8 51.4-44.8 30.9-50.9 33.5 156.1-89.4 55.7-23.9 44.6-16.7 7.7-3.3 18.6-3.2 8-3.3 43.2-9.5-29.6-6.1 51.4-6.1-26.7-2.9 13.8-8.5-221.3-10.6-30.9-2.5 20.9-2.4 5.6-2.3-31.7-2.2 99.5-4.2-23.8-2 39.2-8.1 48.9-1.2-90.6-1.2 231-3.9 3.4 2.1-85.4 1.9 60 5.4-240.9 7.2 13.5 2-55.7 6.7-70.2 2.4 284.2 13.1 32.6 5.7-42.6 2.9-18.7 5.9-3 6.1-17.1 6.2-23.7 9.6-237.3 47.1 45.6 65.2" marker-start="url(#k17)" marker-mid="url(#k17)" marker-end="url(#k17)"/>
<path d="M146.4 344.7l150.5-105.8-129.9-27.6 114.4-6.8 168.2-30.2 2.9-19.1 36-3.1-11.6-20.2 27.7-2.7-24.4-2.6 56.5-7.5-1.4-6.7 24.9-5.9-6.2-3.4-47.9-2.9 3-2.4 61.3-3.9-187.8 7.8-95.8 6.8 225 6.2-23 4.6-15.8 12.7-0.6 14.3-30.4 6 80.8 3.1-85.7 3.1-53 25.9-28.5 10.1-113.4 78.9-102.4 30.2 1.4 6.5-0.9-17.1 1.8-16.8-0.6-3.4 31.8-41.3 12.3-24.1 60.8-13.7-18.3-6.7 83.8-6.7-8-3.3 18.4-3.2 5.5-3.3-50.3-12.8 69.3-3.1-124.5-3.1 28.2-9 68.3-2.9-71.4-5.6 6.9-2.8 11.5-5.3-46.6-2.6 95.6-2.5-3.1-4.7 18.2-2.3-34.1-2.1-73.7-2.1-19.5-1.9-33.9-1.9 114.9-1.8 43.3-1.6 10.5-2.9 18.1-2.5-92.7-3.6 73.5-0.3-78.3-0.2 139.8 0.5-46.3 0.4-153.7 1.4 27 5.7 21.1 5-14.9 1.8 13.3 4.1-15.1 2.1-3.6 7 10.9 7.7 67.1 2.7 55.7 2.8 34.4 5.6-39.8 27.7 106.6 3.2-11.4 6.5-163.1 6.7 10.1 6.7-137 20.4 26.2 3.4 8.8 84.8 202.3-102.5 58.1-23.4-105.2-12.9-56.5-6.3-19.9-6.1-25.7-3 72.5-3 6.5-2.9 2.7-2.8 200.3-25.2 59.5-4.1-39.6-5.2-113.9-3 14.4-2.4-29.3-3.7-70.2-0.3 219.4-0.2-188.6 4.2-23 1.1 43.8 2.7 51.2 1.6-105 3.4 214.4 1.9-183.8 4 148.7 9.2 27.6 2.5-48.8 19.3 9.3 9-218.2 12.5 80.8 6.5-104.4 3.2-9.6 6.6 18.6 10-26 3.4 58.3 34.3-122.8 81.3-29.2 15.7 61-45.9 92.8-92.6 103.7-3.4-172.5-9.9 10.6-9.7 28-9.5-0.6-3.1-10.6-3 212-22.8 23.7-5 39.7-9.3-22.1-4-25.4-6.9 52.3-5.8-46.3-1.3-107.7-0.9-15.9 0 179.4 0.9 15.1 0.6-19.1 3.8-301.5 5.9 250.2 1.7 4.3 1.9-319.2 4.1 89.5 4.4-78.9 9.9-25.3 2.6-15.5 5.5 88.2 5.7 43.9 18.1-4.3 3.2 24.1 6.4-133.4 23.1 35.9 3.4 37.9 61.8-4.5 10.3-9.3 3.4-3.4 3.4-23.9 10.2-17.3 23.2" marker-start="url(#k18)" marker-mid="url(#k18)" marker-end="url(#k18)"/>
<path d="M142 271.3l284.2-89.2-107.7-3.3-33.3-3.3 31.5-3.3 194.6-22.3-10-6.1 14.7-3 20.7-2.9-178.5-13.8 152-9.9-235.3-2.3-41.3-10 113.5-1.6-37.3-8.8 47.6 0.6-52.6 0.7 189.7 3.1-281.4 11.6 81.1 2.1 21.1 4.4 40.9 2.4-98.2 2.4 97.3 7.7-83 2.7 214.1 11.4-170.6 9.1-69.1 3.1-33.6 6.2 11.8 6.5 215.1 13.1-20.6 3.3-131.5 20.3-20.2 20.6-31.8 51.4 15.8-61.9 27.1-3.4 127.3-13.7-167.8-3.4 36.9-3.4-62-3.4 57.9-6.6-22.8-3.4 7.6-6.5 41.8-6.5-65.3-27.5-23.2-5.6 26.6-8 67.3-9.6 18.3-2.2-15.2-2.1 55.6-2-112.1-1.9 12.5-1.8 235.8-6 14.1-5-108.2 0.5-118.8 1.3-15 3.1 107.8 11.6-79.4 2.1 46.7 4.4-112 4.8 61 2.5-38.7 2.6 367 5.4-254.9 2.8-86 11.6 14.8 6 43 9.4 81.8 9.7-255.9 6.5 8.4 3.4 6.3 3.3 220 10.1-26.1 10.2-16.7 6.8-215.2 141.9 200.5-131.5 55.8-27.4 38.6-13.5-36.5-3.3 85.7-25.7 22.4-35.9-5.6-4.5 1.4-9.5 55.8-4.3-38.4-1.2 17.3-2.7 14.4-0.7-275.7-0.9 222.5 0 49.7 0.4-34.4 0.5 18.6 22.6 2.3 2.3-11.4 24.4 4.4 2.9-86 18.7-23.8 23.1-20.4 6.7-16.6 6.8-60.5 27.5-30.2 13.8-18.3 14 45.1-38-161.9-6.8 236.8-13.7 6.6-3.4 56.9-16.8 75.9-49-144.5-5.3-170.5-2.6 40.9-2.4 8.9-6.9 239.5-11.2 36-7.3-44.6-0.5 8.7-0.5-4.5 0.1-1.4 0.3 12 1.1-0.5 1.6-26.9 2.2 16.2 1.3 18.2 3 123.8 1.7-151.4 7.7 35.1 6.9-40.3 5 53.2 5.2-52.2 11.2 16.3 3-20 12.1-31.3 3.2 32.4 3.1-192 3.2 36 3.3-13.1 3.2 13.8 3.3-23.5 3.3-15.6 16.7 81.4 10.3-12.4 3.4-42.3 24.1 0.7 3.5" marker-start="url(#k19)" marker-mid="url(#k19)" marker-end="url(#k19)"/>
<path d="M160.4 224.9l96-13.8 39.3-6.8-27.5-6.9-31.5-3.4-45.9-13.5 25-3.4 9.2-6.6 42.3-3.3 24.4-3.3-69.9-6.4 279.2-12.5-16.5-6.1 29.3-19.5 3.3-2.6-243.2-9.3 7.7-2.2 15.7-2-88.9-3.7 26.4-1.8 111.1-4.3-33.9-2.3-45.8-0.9 40.3-0.8 278.7-1.1-371.3-0.3-11.1-0.1 50.8 0.7 22 0.6-81.8 0.8 43.5 0.8 261.2 3.5 15.2 1.5-74.6 8.9 10.6 2.1-9.2 2.2 7.3 4.7-71.3 10.2-38.6 11.2 18.6 3 47.2 3-121.3 3 9.5 3.1-5.2 6.2 29.8 3.2-72.4 3.2 315.1 3.2-238.4 3.3-54.6 3.2-35.8 3.3 105.1 13.4-176.5 13.6 17.7 3.4 5.1 3.5-22.6 13.8-15.7 127.8 45.9-130.7-4-10.4-3.5-17.1 40.7-3.4 192.8-3.3-244.1-3.4 9.6-10 1.1-3.3-3.6-3.2-16.3-6.5 302.2-12.5-247.9-23 6.8-5.2 1.9-7.2-29.8-2.2 129.2-2.2-9.5-2-5.2-1.9 118.8-5.2 25.7-2.8-28.7-3.2 26.6-1.4-24.9-0.5-42-0.4-15.4-0.1-82.4-0.1-6 0.2 0.1 0.3 18.4 1 56.7 0.7-116.7 1.9-28.1 1.2-22.7 2.7-1.9 1.6 5.9 1.7-7.1 1.8 39.3 3.9 30.2 2.1 56.8 4.5 38.4 7.3 6.7 5.3 195.8 5.5-29.9 2.9-33.8 5.8 22.9 3-10 3 0 3.1-21.5 6.2 10.4 6.4-326.9 13.1 19.6 3.3-22.4 3.3 274.9 6.8-267.8 3.4-6.8 6.8-6.4 10.2-11.1 3.5 29.5 20.7-30.9 35.2-2-6.9 76.5-65.4-22.2-23.5-24.5-6.6 30.8-6.4-17.7-3.2 32.1-3.2 18.1-3.1 62.6-9.2 17.5-5.8-61.7-2.9 287.5-10.9-158.7-9.8-62-2.2-8.2-2.2 175.6-9.1-220.5-2.8 94.7-2.3 35.2-1-42.8-0.8 36.1-0.6-27.2-0.5-27.3-0.3-52.2-0.2-7.9-0.1 63.4 0.2-107.6 1.3 68 0.7-65.5 0.9 22 1 8.6 1.2 62.4 1.3-19.8 1.4-28.2 3.3 30.7 7.8 25.2 2.2-14.6 2.3-41.5 2.4 238.4 5-19.3 2.6-132.3 2.6 13.1 2.8-50.1 11.5-9.6 2.9-35.5 6.2 41.9 3.1-39 3.1-53.1 6.4-23.1 3.2-26.3 3.3 19.4 6.6 143.1 6.6 19.4 3.4-202.9 34.2 78.5 51.5-100.6 46.2 0 3.1 173.8-72.2-98.1-48.3 41.9-3.4 19.9-6.8-10.6-3.4-7.3-10-64.4-3.3 29.3-16.3-13.6-3.1-26.8-3.1 75.9-3.1-18.1-9.1 13.7-5.8-18.3-5.6 7.4-2.7-36.1-2.6 49.9-2.6 30.9-7.2 266.2-2.2-152.8-4.3-71.3-1.9 13.3-1.9-30.8-1.7 3.3-1.6 16.1-2.8 1.1-2.4-44.8-1.7 63.2-0.7-16.2-0.5-101.5-0.5 55 0 25.3 0.1 54.1 1.3-74.2 3.8-26.1 1.3-40.8 3 54.5 1.7 29.8 1.8-58.7 1.9-15.3 2 343.9 6.6-290.7 2.4-69.6 5 65.1 2.6 101.1 2.7-50.7 2.7-113.3 8.6 18.9 15.1-39.2 6.4-25 3.2 49.3 3.2-61.1 6.5 33.1 6.7-23.2 6.7 305.4 6.7-263.8 6.8-75.7 31 1 3.5 27.2 87" marker-start="url(#k20)" marker-mid="url(#k20)" marker-end="url(#k20)"/>
<path d="M215.8 285.2l-73-16.8 0.4-37.8 10.3-10.3-10-3.5 44.4-27.5 38-6.8-38.9-6.7-0.6-26 6.7-6.3 1.1-3-8.5-3 46-5.9-28.3-5.7 31.8-8.2-54.9-5 34.4-4.8 8.3-2.3-22.2-2.1 116.4-2.1 30.7-10 27.3-2.4-32.8-0.9-32.2-0.8 26.8-0.7-135-0.8 121-0.2-78.4-0.1-9.7 0.2 18 0.2-52.5 0.5 103.5 2.2-76.8 1 28.5 1.2-5.7 1.3 392.1 1.4-409.1 1.6 9.2 1.6 12.7 1.8 87.9 4-92 6.6-32.3 4.8 30.7 5.2-18.9 2.7 6.3 2.7 18.1 2.8-68.2 5.7-17.6 12.1 21.1 6.3 55.6 3.2 239.9 3.2-253.7 9.7 31.3 3.4-58.3 3.3 21.7 13.4 26.5 3.4-111 159.3 7.4-147.5 22.5-6.9 0.7-6.8 71.3-3.4-56-3.4-4.4-6.7 120.9-29.3-48.4-6.1 74.9-3-59.5-3-79.8-5.8 348.4-5.7-269.7-7.9 18.1-2.5-50.2-2.4 273.1-8.9 50.5-2-87.6-3.6-282.9-1.6-27.8-1.5 74.2-1.4-65.2-2.3 224.3-1-164.9-0.8 311.2-1.2-42.2-0.5 11.5 0 32.5 1.3-8 2.7-13.6 2.4-19.9 6.5 58.6 10.6-24.3 2.3-49.3 13.1 17.1 2.8 62.4 2.8-41.9 2.9-1.9 12.1-193.6 12.7-18.7 9.8-126.4 13.3-6.1 3.4 14.8 3.4-6.8 3.4-11.5 3.4-15.6 3.4-4.4 3.4 21.9 6.9 7.3 3.5 141 13.8-48.6 18.9 20.9-3.4-112.1-31.1-21.5-3.4 19.2-3.5 56.9-3.4 35.1-6.8 1-3.5-71.5-10.1 52.8-3.4 16.3-9.9-13.1-3.3 50.1-3.3-38.3-9.6 203.9-12.3 16.7-3-6.2-3 4-2.8 39.6-8.4 13.2-2.6-196.3-7.6 26-2.3 16-2.3 27.2-2.2-78.6-9.3 25.1-1.5 176.4-2.6 95.5-3-98.5-0.6 18.8-0.9-213.8-0.2-34.2-0.1 258.4 0.4-344.4 0.4 3.2 1.3 284 3.1 30.5 9.7-217.4 2 6.3 4.4-3.8 2.3 5.4 2.3 62 2.5-95.9 2.6 11.2 2.6-72 2.7 41.8 2.7-88.1 2.8 28.5 11.7-26.2 3.1 3.3 3 15.7 3.2 84.9 3.1-38.1 9.6-69.7 23.3 16.2 6.8-27.8 123.5 119.8-76.7 81.8-34.6 4.7-17.1 41-3.4 29.9-26.4 4.3-3.2-122.7-12.5 26.3-3.1 185.9-8.8 10.2-2.9-25.4-2.7 15.6-5.4 4.6-2.6 3.3-9.6 9.4-6.3-68.6-1.9-125.5-6.3-9.6-2.4 67.6-1.8 130.9-0.7-165.1-1.1-54.1 0 41.7 0.3 59.7 0.5-41.2 0.5 21 0.8-87.2 0.8 46.9 2.2 232.1 2.8-55.1 6.9-63.7 4.2 65.9 9.3-10.1 2.6-12.5 2.6 7.3 8.2-10.2 2.9-13.8 5.9-111.2 3-68.3 12.4-1.5 6.4 8.6 3.2 16.8 3.3 92.7 3.3 25.2 3.3-52 13.4-124.2 6.8-57.1 20.6 122.5 6.9-45.4 6.9" marker-start="url(#k21)" marker-mid="url(#k21)" marker-end="url(#k21)"/>
<path d="M371.9 205.6l-0.4-3.5 32.6-13.7 25.2-6.7 60.8-26.5 0.3-3.3-25.1-3.1 23.7-9.4 12.6-22.9 43.6-2.6 0-2.5-46.5-9.3 1.8-2.1 23.8-12.7 42.3-2.5-3.1-0.9 24.2-0.3-74.9 0.1 29.5 1.3-33.6 1.6-143.8 2.2 24.2 1.3 177.3 1.4-15.9 1.6-6.9 11.7 30.7 2.3-39.8 4.9 14.7 2.5 19.2 2.6-46.7 17-5.7 6.1-44.8 6.2 37.2 3.1-19.7 6.4 2.4 3.3-186.3 9.8 0.3 3.4-22.2 3.3 53.9 6.8-21.2 6.7 6 3.5-15.5 6.8 58.9 13.8-226.1 141.6 147.2-111.5 80.5-34.5-53.6-3.5-55.8-3.4-46.9-10.3 80.5-10.2 154.3-3.4-245.4-6.7 116.1-3.3-133-6.6 33.9-6.5 32.7-3.2-39.1-3.2 14.8-18.4-21.7-2.9 14.9-2.8-10.9-10.8-11.8-5 8.3-2.4 17.2-2.3-3-2.2-15.3-2.1 30.7-5.7-65.7-1.6 57.3-4.3-20.6-1.1 60.3-1.8-70.7-0.7 85-1 38.1-0.2-60.1 0 73.7 0.3 247 1-17.9 1.6-288.7 1-60.2 1.1 314.3 2.8-12.1 3.2-21.6 7.9-42.4 4.5-126.8 2.4-40.1 2.4 314.4 7.9-360.6 11.3 7.5 3-10.9 3 20.3 3-59.1 3.1 43.9 3.1-27.1 9.6 248.2 9.8-162 3.3-18.2 6.7 9.7 3.4-0.3 3.3-128 27.4-11.9 6.9-7.2 61.6 0.3 3.3-0.7 19.7 48.5 6.4-8.5 5.8 150-73.3-185.4-10.3 290.1-41.4 16.4-16.8 25-3.4-11.6-3.3 14.8-6.5-220.6-12.8 17.5-3.2 58.6-6.1-53.2-3 124.3-5.9-9.2-2.8-116.7-5.6 262.1-5.3-319.6-9.7-37.2-2.2 29.3-2.1 280-2 16-3.7 15.9-1.6 88.4-1.6-91.7-2.7 34.9-1.1-56.4-1 36.8-0.9-6.9-1.6 14.1 2.6 17.9 2.1 2.7 1.3-11.6 3-230 5.4 51.7 2-15.1 2.1-13.5 4.6 38.8 2.4-78.1 2.4-1.2 5.2 62.7 2.7-132.8 2.7-24.3 2.8 429.7 5.8-456.8 6 26.6 3-29.9 12.6 82.6 3.2-26.3 3.2-32 3.3 60.9 3.3-76.2 6.7 148 27.1-173.4 10.3-11.2 3.5-6.2 3.4 141.5 24.2-34.8 17.1-116.7 74.5 67.6-41.3 32.4-20 2.8-3.4 23.7-44.5-57.7-7 112.9-17.2 40.7-20.4-26-3.4 52.3-3.4-44.9-3.3 9.5-3.3 134-6.6-196.5-3.2-16.2-3.2 21.9-3.2 69.3-3.2 176.7-6.2-234.6-3 201-8.9 67-2.9-39-2.8-19.7-5.4-171.9-5.2-48.8-2.5-73-2.4 47.4-4.5-1.3-2.1 72.2-2 27.5-3.7-13.3-1.7-71.7-1.6 67.7-1.4-26.9-1.3 3.7-1.1-18.2-1-4.1-0.9-18.7-1.3 49.7-0.4 26.8-0.2-149.4 0 36.4 1.9 6.9 0.9-3.3 1 34.6 2.4 52.5 4.7-22.1 3.7-50.9 6.4 299.1 2.3-26.8 7.4-243.9 10.8-24.8 2.9 45.5 2.9-44.7 3 60.7 3-80.7 3 15 3.1 337.3 3.2-325.4 3.1-23.2 9.7 183.1 3.2-232 20.1-23.6 10.2 28.2 3.4-40.3 6.9-2.2 3.4 21 13.8-35.1 10.4-3.9 3.4" marker-start="url(#k22)" marker-mid="url(#k22)" marker-end="url(#k22)"/>
<path d="M172.1 315.9l266.2-134.8-167.4-10.1-34-6.6 25.2-3.3 49.2-6.5 200.6-9.6 17.1-3.1-22.5-3.1 0.3-43.7 74.5-9-57.9-1 26.6-2.6-7.8-0.2 50.1 0.6-12.1 0.6-63.5 5 5.5 1.4-25 1.6 33.7 1.6-32.9 5.8 48.6 4.3-206.6 7.2-99.9 5.1 3.3 2.7 229.2 8.4 63.6 8.9-33.7 3.1 22.5 3.1-79.8 12.7-50.7 19.8-56.6 27.2 67.2 13.8-189 64.9 17.9-6.5 25.1-20.3 47.3-20.6 112.1-51.6 18.7-3.4 13.6-3.4 7.9-26.2-174.8-9.4 13.5-6.1 62.2-5.9 221.6-5.7-10.4-2.7-30.7-2.7 33.7-2.7-13.1-7.4-9.9-4.6-8.8-9.5-160.9-6.6 131.4-2.1 40-0.4-4.2-0.4-13.8 0.3-26.7 0.4-8.4 2.1 47.3 3.4 2.1 12.5 6.2 2.2-16.3 7.2 2.1 2.6-0.3 2.6-5.1 2.7-47.6 8.4-168.9 5.9-10.5 3 205.6 15.6-25.5 3.2 16.9 3.3-68.1 19.9-28.8 10.2-54.6 24-197.5 6.9 83.3 51.4 25.5-37.1 16.9-13.8 16-3.5-9.8-3.4 10.3-3.5-6.1-3.4-46.5-3.5 1.2-3.4-27.7-10.3 5.9-6.8 2.9-6.7-2.9-3.4 24.2-3.3-36.2-6.6-52.6-6.6 32.7-6.4-38.3-3.2 31.8-3.1-8.6-3.1 69.2-14.9-68-2.8 270.3-2.7-193.4-2.7 33.3-5.2 61.5-2.5 4.7-2.4-23.5-2.4-84-6.4 339.2-9.8-137.7-1.1 6.2-1.1 18.1-1.6 13.8-0.6-22.8-0.7 7.1 0-18.9 0.2-33.7 0.4-13 0.6-120.7 2.5-71.6 1.2 65.9 1.2 25.7 4.7-21.8 3.7 16.1 4.1-38.1 2.2 24.2 2.3-39.8 2.4 77.6 2.5-42.9 5.2 70.5 2.6-7.8 2.8 2.3 5.7-109.5 2.9-16.6 3-54.6 6 24.5 3.1-15 3.1 17.4 3.2 5.4 6.4-35.4 13.1-7.4 3.4 11.8 3.3-2.9 6.7 8.5 6.8-5.5 6.9-0.1 3.4-7.3 27.6-4.3 6.9-10 113.8 16.1-20.7 119.3-82 98.8-55.1-169.8-13.6 264.7-13.3 6.8-9.7 18.6-6.4 9.9-3.1 25.8-6.2-52.1-6 46.8-2.9-40-8.5 41.3-2.7-18.1-2.7-13.3-2.5 15-7.3-8.7-6.4 61.4-5.5-337.6-1.6 94.1-2.7 193.8-1.2-9-2.7 16.7-1.3 35.1 0-43.2 0.6-9.9 0.5-147.6 1.5 214 1-4.4 1.2-32.1 5.9-1.2 1.8 17.7 3.9-33.8 2.1-20.6 9.4 24.6 2.5-307.6 16.7-20.8 2.9-25.3 9.2 298.1 3.1 30.6 3.2-47 9.6-16.2 3.3-32.4 3.3 15.7 6.6 25.6 3.4-286.3 17 24.9 6.8-3.6 3.5 16.8 13.7 88.1 27.6-22.1 10.3" marker-start="url(#k23)" marker-mid="url(#k23)" marker-end="url(#k23)"/>
<path d="M178.4 215.3l23.3-20.7 62.3-6.8 36-13.6 9.2-3.3-21.6-6.7-43.8-3.3 26.1-3.3 234.3-9.7-232.6-6.3 11.4-6.1-35.9-3.1 7-3-7.2-2.9 1.4-2.9-14.5-2.8 35.5-10.7 50.5-7.3-108.8-4.4 41-2-3.7-2-42.2-1.8 77.7-1.7-53.9-1.6-11.4-2.8 123.3-4.5 50.4-0.8-92.3 0.3 285.9 2.4-365.8 2.1-21.3 2.7 0.5 6.9 174.5 2-161.5 2.1 56.2 4.6-6.1 4.8 128.1 5.2-33.5 5.4-98.6 5.7 18.1 2.9-31.6 3-38 6 39.8 3.1-57.7 6.3-15.3 9.6 27 13.3-0.8 3.3-18 10.2 3.5 17.1 228.8 10.3-191.2 6.9-81.2 87.5-1.5 15.7 0.1-4.9 85.8-35.5-84.8-6.7 211.6-78.8-182.2-6.9-2.5-3.4-20.2-3.4 38.5-6.8 29.4-23.1-24.3-18.7 309.3-17.1-286-2.7 69.2-5.1 201.4-9.1-249.1-5.9 40-4.8-3.3-1.3 4.2-3.2 21.6-0.7 221.3-0.8-310.8 4.1 47.3 1.3-65.5 1.4 16.5 1.5 290 3.5-5.7 1.9-9.7 6.3 4.2 2.3 27.1 7.4 22.4 2.6-2.9 5.4-5.4 2.9-42.8 11.7 6.4 6.1-35.3 9.5-26.7 16.4-257.6 13.4 33.3 3.4 0.8 6.8-23.3 3.4 51.2 10.3-52.3 6.9 9.2 3.5 45.9 58.2-94.6 32.8 39 4.7-38.5-22.6 76.1-92.1-2.1-3.4 196-6.9 13.6-3.4-18.5-6.7 102-29.5-135.2-3.2-16.8-9.2 197.5-5.9-12.9-5.7-6.3-2.8-312.9-17.5 36.8-2.2-86.6-2 321.9-3.8 29.7-3.4 1.5-2.8 3.9-3.2-19.4-0.7 13.1-0.6-17.9-0.5 19-0.3-307.2-0.1 80.7 0.2 265.6 0.4-24.8 3 6.6 2.4 1 1.4-18 3.2-37.7 1.8 9.9 1.9 7.4 6.3 23 4.7 15.4 2.4-20.7 13.4 4.1 5.8-6.6 3-94.7 6-110.6 6.2-39.5 3.2 220.2 3.2-278 71 76 17.2-157.8 122.8 207.3-162.2 79.9-30.6 38.9-3.3 26.6-13.1 8-12.6-3.7-12.1 14.3-13.9 19.8-2.6-2.5-4.9-2.5-4.6 32.2-2.2-55.6-5.9-249.2-1.7 255.5-3.1 17.3-2.6-4.6-2.7-11.4-1.5 12.9 0.2 16.7 0.9-3 0.6 2.9 1.8-269.1 1.2 231.9 4.1 0 1.7 7.6 1.8 5.8 1.9-13.1 4.1 34.2 4.5-10 2.4 6.4 7.6 5.8 11.1-43.5 5.8-20.7 6.1 13.2 3.1 35.8 12.7-189.3 3.2-20.5 3.3 1.7 6.6 136.8 3.3 7.2 3.4-202.4 10.1 160.7 3.4-84.4 37.9-18.6 6.9-59.9 27.4" marker-start="url(#k24)" marker-mid="url(#k24)" marker-end="url(#k24)"/>
<path d="M251.1 261.3l-27.5 16.8-8.5 3.3-1.5 3.3-73.6 43.3 24.5-126.3 1.5-3.4 273-6.9-228.1-3.4 3.7-6.8-11.4-3.4 80.1-10.1-64.4-3.3 281.5-13.1 6.1-6.4-227.7-12.4 43.3-5.9-39.7-5.8 34.5-2.7-117.9-2.8 75.3-2.6 251-2.6-1.8-5-12.3-2.3 0.7-2.3-218.8-11.4-14-1.5 6.8-4.6-18.7-1.4 8.4-0.9 36.5 0 2.8 1 51.1 0.7 1.7 1.8 99.9 1.1-20.1 2.7 5.7 1.5 12.8 1.6 19.4 3.7-18 2-74 4.3-0.4 2.3-12.3 2.4 15.5 2.4-6.3 2.6-66.5 2.6 48.3 5.4 117.7 5.7 10.4 5.8 138.4 3-127.7 6.2-3 3.1-38 3.2-254.5 6.4 32.5 3.2-77.9 19.9 17.6 3.4 243 3.4-252.7 6.8-23.9 10.3 236 3.5-241.3 10.3 3.9 3.5 146.7 20.7-108.6 66.8 65.2-78-39.4-24.2 26.6-3.4-29.1-3.4 213.1-13.7-28.7-3.4 87.5-29.7-1.7-6.4-226.4-9.2 11-3-10.7-2.9 54.1-2.9-7.5-2.9 26.7-2.8-23-2.7 251-7.8-321.9-4.8 54.5-2.3-7.9-8.1-9.1-1.7 9.4-1.6-50.2-1.5-33-1.4 99-1.2-76.3-3.4 328.3-0.5-248.2-0.5 327.9 0.2-341.1 0.4 27.1 0.5 228.5 1.4-273.4 2.1-2.3 4.2 56.5 1.6-14.2 3.7-64.6 2 372.7 2.1-326 2.1-56.4 4.7 143.7 2.5-90.2 5.1 87.4 5.4-2.6 2.8 45.3 11.8 11.8 3-54.6 3.1 8.6 3.1-13.3 3.2-8.7 3.2-124.1 6.4 33.2 6.6-86.9 13.3-23.7 3.4 24.5 6.8 28.9 6.9 26.3 3.4-105 158.9 45.2-48 9-6.4 90.2-56.7 36.4-17.3 53.8-24.1 58.3-40.7 115.3-19.3-18.1-3.2-18-3 26.2-6.1-30.8-2.9 19.5-5.8-22.1-2.8 5.2-2.7 16.7-2.7 22.5-2.6-1.5-2.5-24.2-2.5 21.1-4.6 15.7-4.3-6.1-1.9-211.8-3.7 21.3-4.5 25.8-1.2 198.5-1.1-21.8-0.9-43.9-0.8 50.8-1.1-26.1-0.3-12.5-0.2 14.2 0.2 1 0.8 2 1.5-13.5 4.7-19.1 3.1 21.9 1.8 7.7 5.9-26.1 6.9 55.1 13-31.7 2.8 19.4 2.8-42.3 5.9-50.4 9.1 42.6 6.3-48.6 6.4 23.4 3.3-15.2 9.8-16.8 3.4-32 10.1-3.6 3.3-10.5 3.5-221.3 6.8-7.1 3.4 177.4 17.3-61.9 24.1-21.6 6.9-26.4 17-3.5 3.4-16 10.1-81.2 68.8 119.3-164.8-66.3-10.1 276-10 24.8-3.2 4.1-15.9-307.5-3.1 52.6-3.1 264.7-19.9 41.9-2.6-3.6-5-10.4-2.3-8.7-2.3-137.2-2.2-44.7-2.1 198.9-2-22.4-5.2-12.7-1.5 17.9-1.4-25.8-2.3-185.1-2.4 31.4-0.5 117.6-0.3-90.4-0.2 162.6 0-1.9 0.5 1.3 0.5-19.4 0.6 23.7 0.8-18.6 4.7-192.7 1.5-41.4 1.6-96.7 3.7 120.3 1.9-122.3 4.3 24.1 4.7 11.2 2.4 33.2 2.6 16.7 2.6-57.9 2.6 289.6 5.6-14.8 2.8 18.4 5.9 66.8 9.1-111.6 3.1-262 16.1 31.3 6.6 0 10-51.8 10.2-15 3.4 13.2 3.4 2.5 13.8 163.2 3.5-194.6 20.7" marker-start="url(#k25)" marker-mid="url(#k25)" marker-end="url(#k25)"/>
<path d="M282.9 243.5l-90.4 60-53.1 33.8 150.7-83.4 113.9-65.4 8.8-3.4 15.5-3.4 48-33.1-35.4-3.2 24.8-3.2 15.4-3.1 34.9-15-283.7-5.6 287.3-10.6 19.2-4.8 12.2-2.3-7.5-2.2 3.1-2.1 26.9-2-10.7-1.8-4.2-3.4 17.7-1.5-25.5-1.4-18.5-1.3-17.3-1.1 3.3-0.9 28.9-0.8 26.3-0.7-26.8-0.5-8.7-0.3 42-0.2-48.1 0.2 20.2 0.8 5.8 1.4-6.3 2-22.7 1.3-5.9 6.2 14.2 6-41.9 2.2 21.8 4.6 23.6 5-19.3 5.2-2.9 5.6 128.8 2.8-130 8.9-73.9 41.9-69.4 27.3-47.7 24.2-84.3 41-4.3 6.7 110-74.9-183.9-3.4-14.6-3.5 4.1-6.8 8.6-6.8 50.8-6.7 256.8-6.7-258.4-3.3 90.6-9.8-63.9-3.2 9.7-9.5 50.3-3.1-86.4-3-17.6-3 69.7-3 24.3-8.6 208-8 0.6-2.5 51.1-2.5-16.8-2.4-247-8.5-42.5-3.7 61.7-1.6 109.2-6.2-190.5-1.5 284.4-0.8-274.8 0.2-51.5 0.5 335.3 1.4 72 2-345.6 1.3 16 1.3-58.1 1.5 17.3 3.4 198.9 1.9-156.8 4-39.1 2.2-19 7.1 39.9 5.1-32.1 16.9 311.4 6-314.6 9.4-1 3.1 8.4 6.5-38.1 3.3 40.4 6.6-42.1 3.3-6.1 3.3-13.9 3.4 36.8 3.4-16.8 3.4-6.5 3.4 5.5 6.8 26.9 13.8-7.3 3.4-3.4 3.5-11.1 100.5-37.6 30.7 0-5.8 0-5.9-0.1-3 0.9-12.2 2.6-45.4-1.6-3.3 1.3-6.8-1.2-3.4 1.1-3.4-1-3.4 0.1-3.4 0.4-6.9 2-6.9 2.6-6.9 14.2-3.4 28.8-3.5 1.4-13.8-21.3-6.9 7.6-6.9 104.6-10.2 26.3-6.8-64.5-6.7 25.8-6.6 10-3.3 18.8-3.3 50.9-3.2 22.2-3.3-5-3.1 23.6-6.3-41.9-3.1-89.6-3 109.7-3.1-54.5-11.5-59.6-2.7 79.7-2.7 121.5-10-60.2-6.6 39.9-2-20.3-1.8-158-9.7-10.9-0.8 2.5-1.2 35.8-0.3-29.2-0.2 52.9 0.4-18 0.5-2.9 0.6 40.2 0.8 37.8 2 37.9 1.2-114 2.8-17.5 1.7-40 1.7-57.8 1.9 11.5 13.3 6.5 2.5 75.9 5.2 10.7 2.8 79.5 2.7 43.9 2.9 2.1 2.9 9 2.9 155.4 3-244.3 15.6 31.7 3.2 186.2 3.2-75.5 16.6-33.5 6.7-244.5 17.1-34.6 10.3 39 3.4-17.4 10.4-33.9 41.2 1.2 3.4 1.1 6.7-1.8 10 0.8 26 33.5 7.3 63.5-45.6 5.9-3.4 12.3-6.8-102.2-20.5 109.1-17.3-60.6-20.7 66.6-6.8-16.7-3.5-30.8-6.8 118.3-6.8 13.8-6.7 6.9-3.3-78-3.3 186.8-6.6 0.6-15.9-213-12.1-15.3-2.9 289.5-5.7-11-2.7-2.5-5.3-17.5-2.5-178.8-9.4-40.2-4.1 6.7-1.9 19.9-1.7 27-3.2-42.3-1.4 36.1-1.3 0.7-1.1-56-1 280.4-2-29.1-0.5 1.1 0.1 13.9 0.3-2.3 1.1-3.5 0.7-20.2 2 15.7 2.6 17.6 1.5-232.8 3.3 121.5 3.9 5.2 2 3.5 2.2-98.4 4.6 23.6 2.4-45.4 5.1 33.4 2.7-94.3 2.7 273.5 8.5-9.1 9-16.7 9.3-18.1 6.4 8.9 3.3-24.7 3.2-34.9 13.3-1.1 3.4-19.1 3.3-15.1 13.7-248.8 6.8" marker-start="url(#k26)" marker-mid="url(#k26)" marker-end="url(#k26)"/>
<path d="M304 236.3l-17.9 6.9-70.8 37.2-39.9 32.3-15.5-102.7-4.9-6.9 21.4-3.4-23.9-3.5 40.2-3.4 214.4-3.4-217.1-17 21.1-3.3 3.1-3.4-21.8-3.3 364.9-3.3-372.8-3.2 357.7-6.5-321.3-6.3-22.8-3.2 96.7-3.1-99.6-20.3-7.2-2.7 38.9-5.1-21.9-2.5 46-2.4-56.8-2.3 17.6-4.3 28.2-5.6-41-1.7-19.8-2.9 49.5-4.2 15-0.7 5.3-0.9 26.1-0.2-35.3 0.1 45.5 0.3 29.2 0.5-72.9 0.6-42.2 3.9 56.9 1.4 113.9 1.5 183.1 9.2-294.1 2.1 19.4 2.3-45 4.8 16.1 5.1-38.3 2.6-27.4 5.5 47 11.7-37 6.1 81.8 3.1-35.4 3.1-46.9 6.4 18.4 3.2 57.2 3.3-91.3 3.3-12.9 16.7 16.9 3.4-16 3.4-9.9 6.8-3.3 6.9 201.2 17.2-203.6 3.5 199.2 13.8-206.9 37.5-1.8 3.4 33.2 45.2 124.4-81 73.7-34.5 75.8-24-131.1-3.4 19-3.3-30.2-3.4 166.6-6.6-98.6-6.6 94.7-3.2 27.8-3.2 22.2-9.5 15.1-3.1-6.9-3 8.1-3.1 32.8-5.8-25.2-2.9-9.4-2.8-79.6-8-71.5-7.4 176.8-2.3-36.4-4.3 30.8-2 6.6-1.9-26.2-3.5-149.6-2.9 42.7-1.3 119.3-3.6 0.9-0.5-96.7-0.6-85.1 0.4 205.4 0.4-10.9 1.4-0.6 0.9 60.6 5.1-283.2 7.1 216.3 2-31 2.2 11.6 7-0.2 2.5 14.5 2.6-4.1 11 18.2 11.8-331.8 3.1 292.4 12.6-41.5 3.2-262.5 9.9-27.9 3.3 33 6.7-3.6 13.6-26.6 3.4-35.5 10.3 21.9 6.9 102.9 34.5-66.3 37.2-24.6 22.9-51.3-1.4 0.6-3.2 1-3.3-1-3.2 1.6-9.9 177-54.4-154.5-24.2 3.7-3.4 0.6-6.9 333.1-20.3-335.4-3.4 27.1-3.3 62.2-3.3-49.5-3.3 239.1-3.3-241.2-6.5 89.5-3.2-49.3-6.2 7.9-3.1-11-6.1 112.4-8.7-118.5-5.6 346.9-2.6-357.4-7.7-29.4-2.4 302.8-2.3 12.8-4.3 7.9-3.9 28.7-3.4-326.7-7.2 177.2-1.2 120.6-0.6 9.6 0.4 17.6 1-17.9 2.7 8.1 2.5 8.8 4.8-1.4 1.8-201.1 4 40.8 2.2-14.5 12.1 8.1 2.6-69 2.7 243.4 2.8-208.4 8.6-62.6 3-10.2 3-2.7 3.1 39.5 3.1-25.9 3.1-68 6.4 78.6 3.2-87.1 9.9 15.5 16.8-46.8 23.9 6.1 3.5 72.1 3.4-61.3 7-50.9 119.9 0.2-2.9 0.3-5.9-0.2-3.1 0.1-6.1 0.7-3.1 189-93.1 11.1-7-100.6-20.6-23.5-3.5 8.5-6.8-43-3.4 88.3-6.8 16-3.4-105.8-6.6 47.6-3.3 13.5-3.3 277.8-3.3-351.9-6.5 7.5-3.2 7.9-6.2 12.2-3.1 390.9-3.1-390.4-3-15.1-2.9 4.1-8.6 28.6-2.8 35-2.7-37.4-5.1 320.3-7.2 22.2-2.2-212.2-11-19.2-1.4 71.9-2.4-9.3-1-95.4-2.1-17.3-0.3-18.8-0.3-27 0 5.6 2.1 5.3 3.2 11.3 4.3-48.2 1.7 67.6 3.8-5.6 4.2-43 2.2 137.7 12.5 4.7 2.7 49.2 2.8-87.1 11.6 14.5 3-66.7 3.1-62.6 9.4-2.1 3.2-30 6.4 47.2 3.3-5.5 6.6-25.4 3.4 21.5 3.3-24.4 3.4" marker-start="url(#k27)" marker-mid="url(#k27)" marker-end="url(#k27)"/>
<path d="M410.4 184.6l-205.4 3.4-19.6 3.4-14.7 6.9 32.6 3.4-25.4 10.4-26.9 10.3 11.7 6.9-13.1 17.3-3.7 3.4-7 104.2 22.2-129.2 3.3-3.5 213.3-34.4 23.3-13.5-122.9-6.7-98.9-3.3 34.6-3.3 38.2-3.3-51.8-6.5 24.1-6.3-9.9-9.3 313.1-8.8-14.9-8.5-219.3-5.3-29.9-5 47.3-4.7-58.8-4.3-7.8-3.9 16.8-1.8 29.4-3.2 19.9-2.7 226.1-1.1-15.4-2.6 20.1-0.5-3.9-0.4-0.3-0.3-241.7 2.2 44 0.8 1.7 1.1 206.2 3.9-126 1.6-124.2 9.6-64 2.3-54.9 7.2 384 2.5-318.3 2.7-5.8 5.5 15.5 11.5 23.6 6.1-28.2 9.4 220.2 3.2 0.1 6.5-293.1 6.6 260.7 13.4-65.3 23.9-6.7 6.9-68 27.6-14 6.9-140.8 107.8-1.8-38.8 2.1-19.2 0.1-9.9 2.1-16.7 3.2-13.6 2.9-3.4-5.4-27.6 18.9-6.9-6-3.4-2.2-3.5 7.1-3.4 25.3-3.5-24.3-3.4 33-6.9 46.7-3.4 7.7-13.5-8.8-3.4 16.6-3.3 15.2-3.3 44.3-3.3-8-3.3 2.4-9.6 225.5-6.3-279.8-3.1 68.8-6 106.7-5.9-56.3-11.1-54.3-5.2-28.1-2.4 94.4-2.4-46.7-8.7-0.7-1.9 42.7-3.4 51.7-1.6-25-1.4 44.3-1.3-41-1.1 29.4-1 25.1-0.9 18.4-0.7-24.3-0.9 86.7 0.1-155 0.4-63.3 0.6-25.8 0.7 45.4 0.9-147.8 10 110.4 1.9-41.7 4.2 96.8 4.5-97.5 4.9 18 2.6 47.3 5.3-24.2 2.8 44.9 5.7-87.4 8.9-59 6.1 42.8 3.2-6.6 6.3 18.3 3.2-34.8 3.3 211.2 13.2-251.5 3.4 33 3.3-49.3 6.8 54.3 3.4-41.7 6.9-34.4 144.9-12.6-8.9-0.2-6 178.9-92.5-109.3-10.3 170.2-34.4-226.3-10.2 34.7-3.4-5.7-3.3 5.3-3.3 91.1-3.4-50.8-6.5 24.6-3.3 98.6-18.8 26.3-5.9-31.2-5.8-20.7-2.8-74.8-2.8 88-2.6 167.3-10.1-263.6-10.5 91.4-3.5 96.9-2.9-130.6-1.3-29.1-1.2 73.1-1.8-116.9-0.7 68.4-0.6 46-0.6 37.2 0-27 0.3-66.4 0.4 73.5 5.6 8.2 8.4 64.2 2.1-25.7 2.1-35.9 4.5-13 2.4 55.8 2.5-14.3 5.2-16.8 2.7 34 2.7-25.3 2.8 5.7 8.8 17.1 12.3-113.3 6.3 174.3 9.8-245.1 9.9 1.7 3.4 2.9 13.5-24.4 20.6 25.2 13.8 82.8 3.4 88.1-34.4 21.2-23.7 4.4-6.6 65.8-3.2-39.4-6.5 23.7-3.2 8.7-9.4 1.5-6 35.8-3-44.2-2.9 12.4-2.8 56.2-5.6-34.1-7.8-22.3-2.5 2.1-2.4 46.7-2.3-40.5-2.2 16.6-2.1 6.5-7.4 33.5-3 0.7-3.4-44.3-1.6-0.1-0.5 12.6-0.4-34.2-0.2 9.4-0.1 7.7 0.3 5.3 2.5 8.4 3.5-22.2 1.4-31.1 3.3 22.7 1.8 13.7 10.5 13.2 7.4-42.2 2.7 85.5 11.1-53.1 2.9 28 6-28.8 3-34.1 6.2-4.9 6.4" marker-start="url(#k28)" marker-mid="url(#k28)" marker-end="url(#k28)"/>
<path d="M478.9 155l-1.3 3.2-4.1 3.3-92.9 37.1-43.3 20.7-43 17.3-44.1 27.3-111.3 91 14.5-17.1 38.4-37.2 17.6-13.1 47.9-33.6 36.1-17.2 22.5-10.3 101.3-41.3 7.6-16.8 48.1-3.3 10.5-6.6-3.2-6.4-3.5-3.2 101.4-9.4-56.2-3 22-8.9-25.9-5.6 5-5.5-14.9-2.6 40.3-5-18-4.7-10.3-2.2-12-2.1 4.4-7.4-11.8-1.5 32.4-1.5 12.6-1.3 27.7-1.1-45.8-1.9 3.5-0.7 11.7-1.2-15.7 0.3 1 2.5 29.3 1-5.6 1.1-2.9 4.3 12.1 1.7-27.6 1.7 25.7 1.9-42.3 2.1 20.8 2.1-18.5 2.2 19.9 4.7-1.6 2.4 12.6 2.6-8.6 2.6-34.9 2.7 9.9 5.5-282.5 5.8 285.2 2.9-16.6 3-36.3 9.3 30.8 3.1-26 6.4-25 3.3-44.2 19.9-188.2 6.8 192.8 3.4-21.6 10.2-34 17.3-96.5 41.3-47.2 30.2-15.9 13.1 86.4-77.3-16-17.2 146.2-17.2-151.5-6.8 187.1-10.1 36.5-3.3-16.6-16.3 3.6-9.5 72.2-12.1-22.5-8.5 16.5-5.4 16.6-2.7-8.7-2.5-1.8-2.5-16.1-2.4 2.1-4.5 15.7-2.1 19.9-2-10.9-1.9-10-3.5 4.9-2.9-20.5-1.3-23.4-5 31.1-0.1-10.5 0.1-27.2 0.6 2.9 1.3-291.7 0.8 36.3 1 37.2 1.2-8.9 1.2 38.1 1.5 108.3 4.9 112.3 1.9-119.2 2-36.8 6.6 6.7 2.4-15.3 2.5-16.5 5.1-34.7 2.7 38.8 8.4 181.5 5.8-313 3 293.3 3.1-27 3.1-273.5 6.2-23.7 3.2-19.7 9.7-2.2 3.3 37.2 6.7 4.5 10 61.1 10.2 45.2 10.3-41.4 3.5 33.9 27.6-52.1 20.6-30.4 23.7-10 10.6-1.3-6.6 50.4-27-73.8-34.4 166.5-13.8-182.8-24 0.9-6.7 5.9-3.4 308.1-3.3-16.9-13.1 20.1-6.4-18.8-6.2 8.2-3.1 5.7-9 158.5-2.9-157.7-2.9 21.8-2.8-308.6-2.7 287.2-2.7 41.6-5.2-6.7-4.8 12.2-2.3-174.1-6.3 32.1-3.7 140.9-1.7-16.7-4.3 19.5-2.1 9.8-0.9-15.4-1.3-127.1-0.6 131.4-0.1-7.3 0.6-22.5 0.6 39.4 0.7 13.1 0.8-26.2 1-45.4 1.1 63.4 2.7-21.7 1.5-3.4 5.4 2.7 2 5.7 2.1 6 4.4-15.4 2.4-19.9 13 11.8 8.5-62.3 9 24.4 12.5-210.1 9.7 81.9 3.3 98 10-27.7 3.4-4.8 3.3-32.3 13.7 43.7-16.1 39.3-19.9 1.1-12.8-106.9-12.2 10.7-3 201-5.7-140.5-5.6-37.6-2.7 14.8-2.6 129.8-2.5-147.7-4.8-69.2-2.3 15.8-4.4 265.8-2-241.2-5.3 68.8-1.6 18.1-2.7-18-2.2-25.6-2.8 25.5-0.1 24.5 0.1 94.9 0.6 3.2 0.5 18 0.7-27.9 10.5-1.3 1.9-29.6 2 27.2 2.1-35.5 2.2 21.6 9.6 48.2 2.6-48.5 8.2" marker-start="url(#k29)" marker-mid="url(#k29)" marker-end="url(#k29)"/>
<path d="M501.7 149.4l-64.4 6.4-222.1 16.4 41.5 6.7-49.3 3.3 43.6 6.8-26 3.4 121 24.1-196.7 37.9 84.5 17-74.9 58.2-20.1 27 2.9-77.4 11.6-40.8 156.1-6.9-149.7-6.9-10.5-3.5 5-3.4 173.5-10.4-182.5-6.9-1.4-3.4 321-10.2-275.2-3.4 21.5-10.1 243.2-3.3-266.6-3.3 29.1-3.3-52-16 15.8-3.1 51.9-6.2-34.2-3 83.2-16.9-100.8-2.6 48.9-5 8.1-4.6-30.3-2.3 35.6-6 300.2-1.8-293.9-3.2 86.4-1.4-115-1.3 20.4-3.8-65-0.5 18.2-0.5 60.8 0.3 270.3 6.8-270.2 3.2-33.8 5.6-21 2 32.2 2.2 269.3 4.7-0.2 2.4 22.4 5.1 23.7 5.4-40.4 2.8 53.4 5.7-171.3 2.9-33.7 3-51.8 6.1-60.2 3.1 236.5 12.8-46.3 3.2-190.4 3.3-55.8 3.3 51.8 10 71.7 3.4 37.6 17-193.8 136.4-16.2 12.8 0.1-2.9 334.7-188.4 11.3-9.6 6.7-6.1 18.1-3.1-319.8-5.9 314.8-2.9-243-2.9-49.5-2.8 90-5.4 27.3-2.6 194.8-5-4.7-2.3 12.4-2.3 21-4.3-21.6-2.1 8-3.6-22.6-1.7-8.8-1.6 29.8-1.4-30.4-2.4 18.4-1.9-254.7-1.3 8.4-0.4-72-0.3 43.3-0.1-17.2 0.6-18.3 4.1 35.4 2.6-25.4 3.2 30.4 1.7-65.6 5.9 332.3 4.5-17.6 2.3-271.3 2.5-3.4 5-11.6 5.4 29.2 2.8 70.1 2.8-65.1 2.9 45.2 8.9 198.6 3.1 17.6 6.2-58 16.2-16.6 6.6-51.2 23.7-7.8 3.4-7.8 3.4-27.9 17.3-198.7 124.5 151.8-109.1-117.6-24.2 211.1-17.2-106-13.5 180.8-16.7-96.6-16-26.7-6.2-66.4-3 234.9-3 22.1-2.9 3.1-2.9 1-2.9 15-2.8 28.4-2.7-61.4-2.7 35.3-14.4-2.5-2.1-10.9-5.7-9.3-1.7 20.9-4.2-19.8-2.2 30.6-2.2-10.4-0.4-3.2-0.3-117.6 0.2-104.6 0.8 189.3 0.7-1.5 0.8 34 3.3-25.1 4.5-26.9 1.8 2.9 5.9 19.5 2.1 73 2.3-67.9 2.3 29.7 2.4-11.7 7.8-27.5 2.7 7.2 2.7 10.6 11.6-53.7 3.1-3.5 3 5 6.3-3 6.3 1.4 3.2-68.6 6.6-19.3 9.9-55.5 27.2-110.1 72.1-13.5 6.7-23.1 19.8-49.9 17.6 0.2-3.2 0.5-3.2-0.2-3.1 1-6.5 0-3.2 1.4-23.2-0.3-3.4 58.3-61.7 58.7-3.5-42.6-6.9 177-6.8-194.6-26.9 46.2-3.3-0.6-3.2-45.1-6.4-27.4-3.2 14.4-9.3 45.6-3.1 64.2-3-43-2.9-28.9-2.9 1.6-2.8 140.4-8.2-66.5-5.1 40.3-2.5 41.1-2.4-7.9-2.3 53.8-4.3-91.3-2 47.8-1.9-2.7-3.4-97.6-5.4 19.4-1-29.7-0.9-33-0.7 93.3-0.6-32.3-0.8-20.4 0.2-17.4 0.9 69.5 1.4-51.3 2.1 7.1 1.2 99.4 1.4-112.8 1.5 40 1.6 14 1.7-44.7 5.9 38.2 2.2 29.8 2.2" marker-start="url(#k30)" marker-mid="url(#k30)" marker-end="url(#k30)"/>
<path d="M434 116.1l-145.3 5.2-51 8.2-61.2 5.8 70.5 3-19.2 6.1-37 3.1 46.7 3.1 0.4 3.2 83.1 3.2 152.8 3.2-163.7 6.5-47.7 9.9-11.2 3.4 32 3.3-30.9 3.4-16.4 6.8 20.1 3.4-8.1 3.5 11.1 6.8 29 38-138.9 17.2 11.1 65.4-20.7 9.1-0.6 17.5-0.1 2.8 1.7-27.7 0.3-6.2 146-79.6-132.7-3.4 1.9-3.5-9.6-3.4 11.4-3.5-10.9-6.9 17.2-3.4 20.2-6.9-17-3.5-7.8-3.4 2.8-3.5-7.9-3.4 53.4-10.2 5.3-3.4-38-3.4-12.7-6.6 16.5-3.4 29.6-6.5-2.5-6.5-9.2-3.2 54.4-3.2-5.4-26.8 202.7-8-2.8-2.5-1.1-7.1-56.8-4.3 35-2-44.4-1.9-3.4-5 6.3-1.4-108.3-2.4 120.4-1.1-22.7-0.8-45.5-0.8 66.5-1-87.5-0.3-54.8 0.2-30.7 0.3 157.6 2-145.5 3.3-2.3 2.8 79.6 3.3-113.9 5.9 15.7 2.1 70.1 7-55.7 7.7 0.9 8.2-0.9 2.9 109 5.9-40.4 9.1-102.1 9.5-9.6 6.5-16.5 9.8 0.8 3.4-16.1 3.3 18.5 3.4-11 6.8 17.9 3.4-5.7 17.1-24.1 3.5 12.4 6.9-7.7 3.4-0.2 3.5-5.1 3.4 0.5 3.5-1.7 3.4-1.1 3.5 1.5 3.4 12.2 3.5 117.7 3.4-126.9 6.9-5.1 3.4 0.2 3.4 3.4 3.4-3.8 3.4-0.3 26.6-1.1 3.3 0.9 3.2-1.1 12.8-0.3 15.5 89.2-49.3-83.3-68.4 14.2-3.4 4.2-3.5 9.5-3.4-4.3-3.4 249-20.4-43-10 30.9-3.3-39-3.3 25.9-3.3 19.9-3.2-26-3.2 22.7-3.2-1.9-3.1 12.1-6.2-46.5-3-45-3 63.7-8.6-138.1-2.8-34-5.4 2.9-2.6 102.5-5-54.1-2.3-58.4-4.5 332.9-2.1-28.2-2 10.4-5.3 8.1-1.6-20.3-2.7 14.8-1.1-138.7-2.6-115-1 249.3-0.4-15.6 0-8.7 0.2 22 0.8 6.3 4.7-17.7 2.8-8.5 5.2 12.4 1.9 46.4 6.4-134.2 2.4-129.6 4.9 65.1 7.8-34.9 8.4 89.1 8.9-118.1 3.1-22.2 3-77.2 15.9 7.3 3.3 266.6 16.6-117.6 27.4-182.5 13.8-18.9 108.4 66.9-54.8 19.5-6.7 37.5-27.4 57-24.1-143.2-17.2 13.5-3.4-10.6-3.5 27.3-6.8 206.7-3.3-217.4-3.4 38.6-6.7 49.1-3.3-78.9-3.3 242.3-12.9 8.4-3.2 0.8-3.1 9-3.1 64.6-23.3-34.5-2.6 31.1-2.6-16.2-2.5 25.5-7.1-20.3-2.2 14.4-4-10.9-1.9-28-1.8 16.7-1.7-7.6-1.5 15.3-1.4 1.7-3.5-261.1-1.6 211.4-1-277.2-0.4 25.2 0 340.8 0.2-38.1 0.4-1.3 1.9-35.8 0.9 8 1.1-13.1 1.2-218.1 1.3-73 1.5 312.4 9.1 0 6.7 8.7 2.4-13.7 2.4-36.7 2.6-303.9 10.8-9.6 11.7 11.8 3.1 301.1 3.1-312.6 9.4 21.2 3.2-28.2 3.3 11.3 3.2-6.5 3.3 3.2 3.3 221.7 3.3-231.1 6.7 7.3 3.4-2.1 3.4-1.9 3.4-4.1 3.4 188.7 3.4-195.5 102.2-1.6 6.4 35.6 3.3-37.3 12.6 0 9.2-0.6 19.7 0-2.8 20-103.3-11.3-3.4 89.3-20.7-2.4-3.5-16.6-6.9-52.9-3.4 34.3-3.5 64.1-10.2-19.2-3.4 49.2-6.8 40.7-16.7-97.6-3.2-48.3-6.5 3.9-3.2-19.2-12.4 28.8-3.1 12.5-2.9-15.7-8.7-0.6-5.4-22.3-2.7 47.6-2.6 39.5-2.5-50.3-2.4 339.5-2.4-218.9-4.4 10.3-4.1-12.2-1.9-79.4-3.4 63.6-3 245.9-1.3-168.2-1.1-55.9-1.9 5.4-0.7-20.5-1.3 34.9-0.1 10.9 0-40.1 0.2 349.4 0.3-344.8 0.5 48.2 0.6-94 0.8 7.9 0.9-80.2 1.1 32.2 1.2 71.6 2.8" marker-start="url(#k31)" marker-mid="url(#k31)" marker-end="url(#k31)"/>
<path d="M217.5 104.4l54.6 2.1-79.6 4.3-20.6 2.3 44.1 2.4 72.9 2.5-93.6 16.2 18.2 2.9-22.2 8.9-15.2 3.1-2.9 6.3-2.7 6.3-16.7 16.4 10.6 3.4-5.6 3.3 16.4 3.4-17.3 3.4 18.1 3.4-11.4 10.3-9.9 3.4 2.1 6.9-6.4 6.9-4 13.8 3.9 3.5 4 3.4 12 3.5-21.9 27.3-4.1 23.4-0.2 16.3-0.8 18.8-0.4 15 0 5.8 0.9-15.5 113.6-78.2-104.1-17.2 1.8-3.5-7.4-3.4 5-3.5 14.2-3.4 228-34.4 5.4-3.4 16.4-6.7 22-6.7-7.7-9.9 26.1-9.6-14.9-3.2-234-21-4.2-2.9 21.4-5.4 4-5.2 18.1-2.6 1.4-4.7 9.6-2.3 259.7-6.2-232.8-1.9 53.4-1.8-100.4-1.6 57.4-3 38.5-1.3-46.8-2.1-33.2-0.9 57.4-1.3 233.6-0.7-31.2-0.1 22.6 0-7.8 0.2-7.8 0.3 4.9 0.5 20.4 2.3 6.8 1.1-29.2 1.2-86.4 2.7-90.9 1.6-29.5 1.7-12 1.8-1.9 1.9 25 6.4-19.1 2.3-77.4 4.8-31.5 10.5-14.3 5.7 62.4 2.9-14 15.1-20.6 3.1 255.9 3.2-314.8 3.2 292.5 6.5-75.1 16.6-56.4 6.7 21.7 30.9-161.8 3.5-32.5 102.8 0.8-6.2 1-66.3 9.3-3.4-0.8-6.9-7.9-3.5 2.2-3.4 64.8-31.1-12.7-3.4-13.6-3.4 6.5-10.2 13.7-3.4 15-3.3 35.6-3.4 41.6-6.6 22-6.6-13.7-3.2-34-3.2 28.5-3.2 22.9-3.2-116.2-6.2 346-3-329.4-6-6.4-8.6 157.2-8.1 28.5-2.6-122.5-2.5 6.3-2.4-5.4-2.4-55.7-4.4 17.6-2.1-0.4-5.6 95.3-1.6-107.4-1.6 87.7-3.8 48.1-1-7.8-0.9-27.1-0.7 76.8-1-210.8 0.1 115.1 1.1-99.9 3.9-3.7 2.8 28 3.2 18.4 3.7-47.6 6.4 51.6 2.2 27.5 2.4 221.2 2.5-233.9 7.7-64.3 5.6-21 2.8 6.4 8.8 304.1 3-336.8 9.3 17.4 6.4-21.6 3.2 27.6 6.5 12 3.3-35.6 6.7 37.3 10.1 10.5 3.4-35.6 10.2 43.6 10.4-63.7 41.4-6.4 17 77.3 3.4-60.4-34.8 150.6-3.4-13.2-3.5 25.5-58 17.1-6.6 138.9-9.7-208.9-3.2 57.2-3.2-84.6-12.2 84.3-3 43.7-8.6-67.3-2.7 29.3-7.9 103.7-2.5-103.4-2.5-3.2-2.3 54.6-2.2-65.9-6.3 83.2-1.8 129.5-3.4-133.6-1.6-18.7-2.6-41.1-2.2 45.5-0.9 16.5-1.7-103.5-0.2 8.2 1.4-31.3 2.7 58.2 1.2 2.8 1.3-87.6 3 14.2 1.7 13.3 1.8 6.6 6 28.8 2.2-34.3 2.3 216.3 2.3-218.5 5-48.6 5.2 19.5 2.7 10.8 5.6-10.1 2.9 261.3 3-19.9 2.9-15.4 6.1 5.5 6.2 7.1 3.2-176.8 12.9-105.2 16.7-17.9 20.4-9.7 3.5 4.1 3.4 13.1 3.5 120.7 6.9-14.5 10.4-159 116.8 118.5-93.2-65.7-44.8 3.1-3.5 44.6-10.2-20.9-6.8-54.6-6.8 42.8-3.4-6.2-3.3 1.3-6.6 16-3.3 17.3-3.3 49.2-6.4-17.7-6.3-39.4-6.2 6.2-6.1 54.4-5.9-52.3-11.1-34.9-2.6 7.6-7.5-28.1-2.3 49.8-2.2 14.9-2.2-45.1-2.1 51.5-1.9-9.4-1.9-11.8-1.7-27.7-1.7 36.1-1.5-11.3-2.7 114.6-1.1 22-1-58.6-0.9-20.1-1.7-45.1-0.3 42.4 0.4" marker-start="url(#k32)" marker-mid="url(#k32)" marker-end="url(#k32)"/>
<path d="M371.7 93.5l32.5 2.7-68.5 1.1 27.9 1.3-18.2 1.5-52.1 6.9-47.3 6.2 58.1 2.3 69.2 9.9-26.7 8.1-58.4 2.8-63.2 11.8-14.9 9.3-19.7 3.1-5.6 3.2 44.7 9.8-10.2 6.6-25.6 3.3 56.3 3.3 29.1 3.4-10.7 6.8-86.7 24-29.8 119.8-8.6-61.8-1.1-10.2-1.1-10.3 170.3-37.9 52.9-17.1 25.8-6.8 47.7-16.8-5.6-3.3-31.1-6.6-0.8-9.6 13.3-6.2 13.6-3.1 8.1-3-33.5-11.7-80.5-2.8 32.6-2.8 76.9-2.7 111.4-5.2-290.2-2.4 92.3-2.4 164.1-2.4-1.3-2.2-11.8-2.2 12.8-4 8-1.8-23.7-1.8 8.8-1.6 25.9-1.5-12.2-4.8 36.8-0.9-14-0.7 23.6-1 19.9-0.3-38.6-0.2 23.2 0.1-11.1 0.1-14.9 1.4 7 2.7 4.1 1.2-19.1 1.3 28.2 1.4-126.9 8.8 98.4 4.3-31.5 2.3 72.4 4.7-38.7 13.2-329.6 23.9 235.1 3.1-215.8 9.6-42.9 3.3 52.6 3.3 92.1 10 71.9 3.3-70.8 17-166.5 10.4 16.2 3.4 85.3 31.1-7.4 3.4-0.6 3.5-68.4 46.8 29.5-102.2-1.9-3.4 81.2-13.5 133.5-3.4 17.1-22.7 35.5-6.3-2.9-3-31.2-3.1 64.8-3-26-2.9 29.2-2.9-21-5.7-292.8-2.7 96.3-12.7-51.7-2.3 25.2-4.4 245-5.9-239.8-1.7-1.8-3.2 297.2-6.3-11.6-1-53.1-0.3 16.3 3.1 25.6 2.1-148 2.8 8.1 1.5 16.5 1.6 86.1 3.7-3.4 2-128.1 2-71.3 2.2-18.3 7 241.5 2.5-244.6 2.6 128.1 10.9 32.9 2.8-11.5 2.9-66.5 3 109.8 9.1-1.7 3.1 12.2 3.2-28.9 3.2 7.6 3.2-96.7 33.3-232.4 146.3 0.1-3 0.1-3.1 0.7-6.1 14.5-89.6-11.7-20.7 8.6-3.5 7.1-3.4 158.5-10.3-110.5-13.6 95-6.7-33.1-3.3-19.8-6.6 36.1-3.3 32.3-3.3 26.8-3.2-42.1-3.2-84.5-3.2 24.6-3.1 36.1-3.1 111.3-3.1 9.2-3-67.6-3-28.2-2.9 40-2.9-35.6-2.9-27.2-2.7 230.5-2.8 30.6-2.7-195.4-5.1-153.8-4.9 130.7-4.5 30.1-2.2-88.6-2-20.5-3.8 32-1.7 69.5-1.6 88.5-1.6 87.3-1.3-266.5-1.3 97.6-1.1-69.6-1 37.1-0.9 82.7-0.7-104.2-1.3 123.8-0.1-13.1 0.5-100.6 1 13.9 1.7 192.5 2.1 8.4 1.3 11.9 1.4-190.2 1.6 215.9 5.2-287.2 2 233.7 4.2-2.4 2.3 15.2 9.8-194 5.3 11.5 2.7 29.3 5.7 16.6 2.9-107.2 2.9 317 6.1-279.5 6.2 7.7 3.1 32.2 3.2-63.5 9.7-45.7 6.6 141.7 13.4-59.7 3.3-44.6 3.4 1.9 6.9-26.2 20.6-105.8 109.9 3.4-3.1 58.3-42-6.5-6.7-44.9-41-17.1-6.9 16.1-17.2-11.3-3.5 4.2-6.8 18.7-10.3 25.8-3.4 10.4-6.7-36.3-19.8 62.1-6.4 42.9-3.2 9.4-3.1-1-3.1 69.4-3.1 177-6-170.7-2.9-82.3-5.7 111.1-5.6 118.6-12.6 11-2.3-261.4-2.2-28-4.2-13.2-1.9 6.4-1.9-33.8-3.3 30.6-1.5 74.7-1.4 95.5-3.4-150.7-0.8" marker-start="url(#k33)" marker-mid="url(#k33)" marker-end="url(#k33)"/>
<path d="M332.8 96.6l30.3-1 84.3-0.4-25.1 0.1 14 0.8-53.6 0.6 59.6 1.6-31.9 1-126.4 5.4 318 3.4-94.8 3.8-188.4 2-0.3 4.4 15.4 2.4-20.8 4.8-45.1 5.2 5.2 2.7-43.8 5.5 106.7 2.9 1.8 2.9-33.1 2.9 11.4 9.1-62.3 6.2 194.4 6.4 3.9 3.2-15.3 3.3-252.4 3.3-13.4 3.3 191.5 10-15.2 6.7-7.9 20.6-129.1 72-70.9 42.1 28.2-100.5 7.3-20.6 27.2-3.4 46.6-6.8 7.5-3.4 45.2-10.1 3-3.3-2.1-19.5-12.5-3.2-7.3-3.1-36.1-15.1-32.4-2.9-6.8-2.8 330.6-15.7-239.6-4.7-14.8-2.2 56.4-2.2-3.5-2 49-1.9-6.2-3.6 16.7-4.5-133.2-1.2-28.7-1.1 6.2-1-31.5-2.6 83.1-0.2-61.3-0.2 134 0-177.1 0.2 124.6 0.8 295.1 0.6-332.8 0.7 287.3 3-24.8 2.7 3.3 1.5 12.5 1.6-36.9 3.6 15.9 2-186.7 6.4-95.7 4.7 17.4 2.5-11.6 7.8 0.5 2.7 263.3 2.8-207.5 2.9-107.6 8.8 32.4 3 119.9 3.1-7.6 6.2-67.8 22.7-18.9 6.7 1.8 6.8 152.4 3.4-231.2 10.2-37.9 44.9 115.4-7-37-31.1-4.4-3.4-10.5-10.3 177.5-6.8-91.4-10-14.4-6.7-46.4-19.3 8.3-3.1 43.5-3.1-53.7-3.1-31.2-5.9 312-8.7-5.2-2.7-230-15.3-28-4.5 266.1-6.1 8-3.5-6.9-5.7-2.8-2.1 28-1.6-31.9-0.5 40-0.7-27.8-0.2-7.5 0-14 0.5 30.7 1-6.2 0.8-14.6 0.8 7.7 1.1 4.8 1.1 70.1 1.3-345.2 4.5 26.6 1.7 63.8 3.8-59 4.2 234.3 2.2 8.5 4.7-6.4 2.5 19.4 16.1-47.7 2.9-24.9 2.9-6.8 6-15.8 6.2-231.9 3.1-33.8 6.4-11.3 16.3 21.4 3.3 14 20.3-56.3 58.6 0.8 3.5 0.8 3.4-3.1 3.4-2 3.4-1.5 73.5 146-114.8-121.8-17.3 65.9-17.1-3.1-3.4-21.4-3.4 15.6-3.4 51.9-3.3 128.4-3.4-193-3.3 221.9-3.3-189.8-3.3-21.2-3.2 62.1-6.5-6.6-3.1 18.6-3.2-55.5-3.1 147.3-9.1-65.2-3-16.2-2.9 11.3-8.5 22.9-5.3-66.8-5.1 11.1-4.8-52.2-2.3 89.2-2.2 40.9-2.1-81.8-2-38.6-1.9 111.1-3.6 190.9-1.6-153.8-2.8-8.3-2.3-0.5-1 160.5-2.1-11.6-0.4-207.2-0.5 13.8 0.1 110.2 0.1-63.8 0.3-70.9 3.7 83.6 5.2-35 1.6-62.1 3.6 51.6 1.9 28 4.2 130.6 4.5 38.9 4.9-300.9 24.8-29.6 3.1 53.8 3-59.4 3.1 7.3 15.9-60.5 13.2 196.1 6.7-203.1 3.4 182.9 3.4-180.7 44.7 1.2 3.5-10.8 3.4 0 60.8 4-40.3 15.4-44.7 199.6-37.5 28.2-10 65.9-16.1 14.3-3.2-213.2-3.1-70-3.1 95.9-11.9 11.5-5.6 8.4-2.8-26.3-2.7-11.9-7.7 24.4-2.4 10.8-4.7 23.9-6.3 23.4-1.9 7.3-1.8" marker-start="url(#k34)" marker-mid="url(#k34)" marker-end="url(#k34)"/>
<path d="M363.1 109.4l-59.3-3-49-1.4 126.9-1.2-8-4.6-62.5-0.4 16.9 0 25.1 0.5 10.8 0.4-31.5 0.6-6 0.7 26.7 0.9 162.3 2.1-110.9 4.1 77.4 1.6-108.6 3.6-21.9 3.9-80.8 2.2 99.4 4.5 159.5 7.3 7.4 2.6-51.1 5.3 18.2 5.6-163.5 5.8-178.7 15.3 248.2 6.3-17.5 6.4 1.3 3.3-28.2 3.3 0.2 3.3-220.6 6.7 30.2 20.3 0.7 10.3 54.1 48.3-52.3 37.1-17.6 16.2-12.8-60.3-2.8-3.4 23.6-20.7-9.1-6.9-11.8-6.9 3.3-3.4 1.3-6.9 16.3-3.4 14.8-3.4 17.7-23.6-9.3-3.3 47-9.7 26.1-6.4 31.1-9.3 12.7-9-73.8-2.9-15.2-5.6 31.3-5.5 59.6-2.6-29.3-5.1 120.7-2.4-23.2-2.3 132.6-4.5-104.3-12.5 36.5-2.6-23.7-1.1 121.1-0.9-141.9-2.8 41.6-0.1 104.9 0-23.9 0.4 19.1 0.5 22.4 0.6-22.3 0.7 14.8 0.8-242.4 3.4-74.2 2.9 157.2 1.6-164.9 1.7 308.7 1.8-12.3 1.9 51.5 2-377.6 4.3 368.7 4.7-272.6 10.2 303.2 5.4-320.4 2.8 197.2 5.8-34.6 6 14.8 18.8-154.8 9.7-39.2 3.3-40.2 3.4-31 3.3-20.1 3.4 1.9 6.7 6.6 6.8-14.4 6.9-15.2 3.4-3.9 3.4 12.1 6.9-15.9 20.8 131.6 3.4-133.1 20.7 2.9 3.4 28.4 33.3 20.9-16.6 21.1-16.9 48.9-27.5-112.9-3.4 13.8-41.2 58-3.4 148.3-6.8-84.4-6.7-22.6-3.3 148.4-6.5-109.9-6.5-63.6-3.2-29.7-3.2 22.5-3.1-46.5-3.1-0.9-3 309.9-9-3.7-2.9-22.4-2.8 14.3-5.6 21.6-2.7 9.6-5.1-33.5-2.5-285-4.8-0.1-4.4 327.3-4.1-32.6-6.9 52.8-1.5-24.5-2.5-16.3-1.1-20.6-1.8-297.2-2 75.5 0.1-25.2 0.8-8.3 0.5 24.2 0.8-28.8 0.8 31 1-25.6 3.7 277.2 4.8-11.2 3.7 1.9 2-2.6 2.2 9.5 2.1 10.8 4.7-332 7.5 14.5 5.3-6 2.8 5.6 2.8 21.6 2.8-6.2 2.9-20.5 3-18.1 3 6.4 3-2.4 3.1 35.9 3.1 54.7 3.2 133.7 9.6 6.2 6.5-202.3 9.9 3 10.2-37.9 3.4 134.8 27.4-143 88.1 104-71 40.1-20.7-18.8-27.3 5.2-16.7-13.2-3.3-24.4-3.3 186.9-9.6-12.2-9.4 40.4-6.1-149.8-5.9-137.1-13.9 60.5-2.6 4.2-5.1 13.5-4.7-2.3-4.4-47.6-4.1 43.2-1.8-48.7-1.8 69.9-1.7 25.5-3-79.7-5.4 27.4-0.7 24.6-1.2 46.3-0.1-91.6 0 36.2 0.4 24.6 0.5-3.5 0.6 28 1.5 54.3 1-18.8 2.4 35.9 1.3 87.2 6.6-94.6 6-7.6 2.2 62 4.6-4.9 7.5 2.3 2.6 7.1 2.7-9.1 5.5-6 5.8-17 2.9 54.8 9.1-156.8 3.1-54.9 6.3-32 3.2-10.7 3.3-2.1 3.2-14.3 13.2-23.2 6.7-11.4 6.8 32 3.4-26.5 3.4-5.5 6.9-8.2 3.4 10.3 3.5 62.5 58.2 84.3-41.2 1.7-10.3-49.7-6.9 51.2-17.1 17-6.8-1.9-3.4-21.9-3.3 13.2-3.4 81.7-3.3-145.1-6.6 95.9-6.5-49.2-3.2 18.3-12.5-72-12 23.4-5.7-57-5.5-8-2.7 1.7-5.1 12.4-2.5" marker-start="url(#k35)" marker-mid="url(#k35)" marker-end="url(#k35)"/>
<path d="M184.2 126.9l21-6.5-24.4-3.8 49.7-9 122.2-1-148.1-1 50.3-0.8-0.6-1.6-23.1-0.3 82.5-0.1 79.6 0.2-16.8 0.3 87.9 1-44.4 0.7-153.3 0.8 248 7.8-143 5.4 13.7 2 9.3 2-3.4 4.5-94.7 2.3 64.1 2.4 21.9 2.5-50.1 5.2-28.7 2.7 83.6 11.3 6.7 2.9 11.4 3-19 9.2-118.3 9.5 36.8 6.4-78.2 6.6 21.3 3.3-26.2 3.3 23 6.7-22.7 3.4-20.6 10.2-33.5 105.3 130.4-88.4-141.3-23.9 27.9-10.1 88.7-6.7-24.9-6.5-23.4-3.3-6.2-3.2-25.2-3.2-6.9-9.5-25.4-3.1 13.4-3 93.1-6 194.5-5.8-262.8-10.9 39.3-2.6 251-7.4 6.3-2.3-272.6-2.2 33.9-4.2 48.2-2 47.2-1.9-7.9-3.4-34.4-4.3 0.5-1.1 31.9-1.1 185.4-1.8 21.2-0.6 15-0.6-30.2-0.4-1.6-0.3-105.5 0.4 109.6 0.5-151.5 1.3 156.6 1.8-18.3 1.1 17.4 1.2-202.1 1.3 30.8 1.5 33.2 1.6-44.6 1.7 174.6 1.8-164.3 1.9-61.7 4 207.2 2.2-19.4 9.5-146.6 10.5-59.7 5.7 58.4 2.8 130.3 3-47.8 6 37.2 6.1-163.7 3.2-102.7 29.3-28.9 3.4-20.1 3.3 22.3 10.2-30 10.3-2.8 31.1 6 3.5-5.7 20.6-1.8 27-0.5 26-0.1 3.2 0 3.1-0.1 3.1 3.9-66.2 4.4-3.5 16.1-68.6 6.3-3.4 63.9-3.4-33.8-9.9 37.8-9.8 209.7-24.6-6.3-3 44.7-2.8 11-2.8-212.5-2.8-2.8-2.7 70.5-12.6-23.7-2.3 38.4-2.2 2-2.1 177.8-4-210.9-5.3 80.5-2.9 4.4-1.3-101.4-1.2 237.7-2.8-222.9-0.7-43.4-0.5 103.8-0.8 16.3 0-70.7 1.5 211.9 2.5-51.8 1.1 15.8 1.3-16 2.8 18.8 3.2-46.8 1.8 11.9 5.9 27.2 4.4-31.8 2.3 38.7 7.5-41.8 8 29 2.7-24.5 2.9-2.7 2.9-176.5 2.9-49.5 3 179.4 3-15.9 3-210.2 6.2-31.8 3.2 44.2 3.2 152.6 9.7-170.2 13.2 13.7 6.8-63.2 23.9-0.3 10.4 3 6.9-10.6 37.8-0.9 3.4 0.8 3.4-1 16.8-0.8 6.7-0.9 3.2-0.7 34.3 0.1-6.1 83.5-127.5-18.4-3.4-3.6-3.4 26.8-6.8 47.3-13.3 27.8-16.3-10.3-12.4 37-9-27.5-19.2-31.5-2.6-44-2.4 39.1-4.6 86.7-8.3 6.8-6.8 22.8-1.4-51.2-1.3-99.6-1.2 12.6-1-3.4-0.9-28.9-0.8 5.4-1.2 16.7-0.4-48.5-0.4 37 0-9.6 0.2-1.4 0.3-38.7 0.4 25 1.3 54.3 1.8-67.4 3.7 134.4 1.4-27.2 1.6-110 1.7 98.9 1.7-56.9 3.9-15.9 2 62.8 4.4-101.7 2.4 51.3 2.3 9 7.6 111.2 2.7 154 5.5-257.2 2.8 19.3 5.8-13.8 3-20 6-0.6 9.4 35.7 3.2-11.1 3.2 10 3.2-52.1 3.3 10.4 6.6 25.4 6.6 15.1 10.1-44.8 6.8-70.7 127.4 0.7-48.9 0.7-3.4 3.1-17.1-2.3-20.7 0.9-3.4-0.3-3.5 0.4-17.2 182.9-27.2 10.1-3.3 2.1-6.7 36.9-9.8 39.1-15.8 16.7-3 4.9-6 30.7-8.7" marker-start="url(#k36)" marker-mid="url(#k36)" marker-end="url(#k36)"/>
<path d="M204.5 150.8l6.1-2.8 175.6-7.8 127.5-7.3 23.7-2.3 4.2-8.3-11.5-1.8 4.7-6.3 11.4-2.4-122.3-2 103.2-1.9 0.4-0.4-228.1-0.2-33.7 0.8 51.8 2.1 9.3 0.9-107.9 1.1 147 1.2-104.5 1.4-54.1 1.4 92.3 3.2-71.8 1.8 31.5 1.9-20 4 28.1 2.1 228.1 7-1.4 4.9-7.8 2.6-2.4 5.4-13.3 5.6-21.1 2.9 4.3 8.8-1.4 6.2-218.5 3.1-58.8 3.1-22.9 46.4 31.9 82.4 75.7-55.5 64.1-27.5 121.1-52.4 19.7-9.1-171.8-5.8 60.6-2.8 53.2-2.8-4.6-2.8 100.3-5.3-137.9-7.4-77.5-2.4-52.1-2.2 50.1-4.3 7.8-2-36.8-1.9 132.6-3.6 75.5-4.5-81.3-1.3-94.5-1.1-23.5-3.4-20.7-1.1 254.2-0.1-284.1 0.4 53.4 0.5-37.7 1.3-46.3 0.8 32.2 1 12.9 1 70.6 5.6 200.4 1.6 33.2 9.8-219.3 4.5-11.3 2.4-67.1 18.5 211 5.8 22.1 5.9-27.1 6.1-232.1 3.1 38.3 3.2 41.9 3.1-39.6 9.7 107.2 13.2-186.5 6.7-1 3.4 171.2 6.8-194.5 34.4 29.6 54.8-36.9 44.3 21.3-120.6 153.4-6.8-113.6-6.9 18.1-3.3-54-3.4 218.2-6.7-212.1-3.4 103.2-13.1-62.3-6.5 223-9.4-244.8-12.1 90.2-2.9 96.9-8.5 16.6-5.4 8.4-2.6 134.6-2.6-124.9-2.5-95.7-6.9 49.4-2.2 93.6-4.1-49.2-1.9 50.1-1.8-38.1-1.7 3.1-1.6-20.4-1.5-107.5-3.8-22.6-1.1 56.7-1.6 50.5-0.7-51.9-0.5-16.2-0.6 113 0.4-112.4 1 1.7 2.5-43 2.3 115.2 1.3-171.2 3 1 5.3 53.7 1.9-76.5 8.7-10.9 2.4 41.9 4.9-24.8 2.6 69 2.6-46.5 2.7-15.2 2.8 18.2 2.8 50 17.8 3.7 6.2-45.8 3.2 64.3 3.2 30.4 6.5-14.2 6.5-18.7 3.3-60.2 6.7 28 27.2-113.9 41.5-8.5 27.3 0.9 3.4-2 10-0.3 9.9 32.3-10.9 115.7-99.2-31.1-13.4 8.9-9.9 57.2-12.8 16.3-3.2-90.2-6.1-2.7-6.1-59.6-2.9-17-3-10.2-5.6 16.4-8.2 13.9-5.1 352.1-2.5-367.5-2.4 371.4-4.6-335.9-2.1 44.5-4.1-59.1-5.4 17.7-3 40.2-2.7 43.9-1.1-46.2-1-14-0.9 70.6-1.4-47.4-0.5 61.3-0.4 233.2-0.2-333.9-0.1 1.2 0.2 131.8 2-80.3 0.8 107.1 1-6 1.1-17.7 1.2 15.2 1.3-86.2 1.4-12.4 3.2-24.3 1.7 37.6 1.9 80.9 4-2.8 2.1-66.6 2.2-13.8 4.7-67.4 7.5 74.6 2.6 84.1 5.4-107.8 2.8-15.3 14.7-8.4 6.2 38.9 9.5 24.2 6.4-10.2 3.3-22.6 6.6-114 20.2-14.9 17.1-0.9 17.3 9.8 3.4-7.5 10.4-4.3 6.9-1.1 3.5-0.5 3.4 1 3.4-3 67.9 1.8-25.5 72.6-50.4-51.6-38 53.4-30.6 9.9-3.4 196.3-3.3-146.4-3.3-62-13 41.6-9.5" marker-start="url(#k37)" marker-mid="url(#k37)" marker-end="url(#k37)"/>
<path d="M223.7 177.8l-16.4-12.1 31.7-14 129.6-7.8-13-4.8-114-4.5 126-6.2-162.6-3.7 193.4-6.1 62.5-1.3-53.2-1.1-68.2-1 95-0.9-2.9-1.4-99.3-0.5-89.7-0.3 61.9-0.2 51.3-0.1-160.9 0.5-10.7 1 333.7 9-229.8 7.2-35.2 4.1-59.8 2.2 37 4.7-21.2 4.9 42 7.9-50.3 2.7 64.8 2.8-36 11.6-17.9 3.1 235.2 3-227.6 6.2 201.3 3.2-172.1 6.4-4.5 3.2 31.5 3.3-9.5 3.3 20.9 6.6-115.7 13.4-26.3 13.7 8.5 3.4 159.9 3.5-159.9 3.4-3.9 10.4-0.3 6.9-1.8 6.9-5.3 17.3 1.9 3.4-1.1 3.4 43.1 13.6-45.4 16.8-0.7 6.5 17.1 3.3-17.7 3.3-0.1 3.2 0.1 3.2-0.2 3.2 0 3.2-0.1 3.1 0 6.2 121.6-108.3 100.6-44.2 32.7-13.1 22.3-12.6 24.3-12.2 28-11.5-19.2-2.8 54.3-5.3 2.5-2.6-26.9-2.5 110-4.8-72.7-2.3 17.4-8.4 1.5-3.6-40.5-3.3 39.1-4 9.5-1.1-21.7-1 12.4-0.9 5.9-1.9-9.1-0.5-39.4-0.1 30.3 0.2-2.2 0.3-14.1 0.4 40.4 2.1-55.1 1 10 2.2 23.2 4.3-0.8 5.2-16.5 2 15.9 4.1 9.9 2.2-6.7 2.2-38.1 2.4 12.3 2.4 72 2.5-94.5 2.6-32.2 13.6 28.6 5.8-42.2 6-27.2 3.1-33.8 9.3-30.7 29.5-180.9 114.4 14.9-16.6 142.7-95.8 28.1-19.9 1.1-3.2 39.4-12.7 20.9-3.1 33.7-14.8 52.2-5.7-36-2.7-15.3-2.7 15.9-2.6 15.6-2.6 17.7-2.5-10.2-4.8 35.1-4.5-13.3-2.1 22.1-4-330.8-8.3-11-1.3 13.2-2.4 147.3-3.2-53-0.5 260.2-0.6-3.9 1-34.4 0.5 17.6 0.7-22.7 0.9 15.6 3.2-1.6 1.3 11.7 1.4-22.1 1.5 3.3 5.2-3.8 1.9-6.8 4.2-2.9 2.1-7 2.3 20.6 7.2-45.3 5.2 16 2.7-21.7 2.7 6.9 2.8-11.4 5.7 60 5.9-118.4 15.4-17 9.6-85.5 36.8-99.6 62-33.3 27.1 16.1-11.9-33.7-44.5 3.9-3.5-8.7-3.4 0.4-3.5-0.6-3.4 2.1-10.3 5.5-3.5 29.4-23.7-15.8-3.3 78.8-13.1-13.3-9.6 31.7-3.2 13-3.1-21-3.1-21.5-9 28.1-2.9-17-2.9 55.7-2.8-2.3-5.6-88.9-10.3 26.9-4.8-45.6-2.2 41.1-2.2 7-2.2 2.8-2-59.4-1.9 82.7-1.9-0.9-1.7 240.4-3.2 31.8-2.8-11.9-1.2-3.9-1.1-47-1-218.7-3.2-28.8 0 338.7 4-37.3 1 18.6 1.2-19.8 1.3-16.6 1.4-223.7 10.7 56.5 4.2 52.2 4.6 96 7.4 2.6 5.3-203.5 2.7 77.6 2.8-21.3 2.8 53.6 2.9 38.3 5.9-103.4 6-46.1 6.2-105.5 29.2-35.5 3.3 25.1 3.4-17.8 6.8 129.1 13.6-3 6.9-63.6 34.6-72.3 42.2 112-68.4" marker-start="url(#k38)" marker-mid="url(#k38)" marker-end="url(#k38)"/>
<path d="M271.9 206.7l1.2-3.2-1-3.3-41.1-6.4 194.7-3.2-91.6-6.2-3.9-3.1-99.2-3-47.6-3 15.2-3 57.4-2.9-61.8-2.9 41.8-2.8-43.2-5.5 92.7-7.8-61.5-2.5 33.9-11.3-48.6-3.9 39.7-3.6-49.8-1.6 4.5-4.3 109-2.3-39.7-1.8 116-1.3-14.7-0.5-30.8-0.5-21.8-0.1-25.9 0.2 116 0.8 54.2 2.1-8.5 0.9 11.1 1.1-22.5 2.5-22.9 1.4 41.1 3.1-131.6 7.5-20.1 2.1 16.6 4.4-1.8 4.7-32.9 5-61.6 2.6-0.7 2.7 73.7 2.7 81.5 2.7-13.6 8.6-3.1 3-20.2 9.1-21.9 3.1 1.1 3.1-53 3.2-9.5 3.2 3.3 3.2 1.6 9.8-114.7 23.5 155.1-12.2-68.1-9.9 43.4-19.4 153.9-29.6 9.2-2.7-254.8-5.3 144.2-5 27.5-2.3-77.1-2.4 206.6-4.4 8.1-7.8-0.9-4.9 39.6-1.4 6.6-5.4 2.1-0.7-10.4-1 10.1-0.6-47.3 0 27.9 0.5-6.6 3.5-8 1.1 4.4 1.2-22.4 1.2-241.1 3 34.2 1.6-70.8 1.7 209.9 7.8 92.3 2.2 11.9 2.2-172.9 14.9 11.9 5.5-18.1 2.8 81 2.9 9.7 2.9-12.5 5.9-35.7 9.2-191.7 29.1 56.4 34-45.7 27.7-56.4 44.4-3.1 3.4 20.3-16 37.3-30.9 107.3-68.1 64.4-25.5 18.2-12 0-5.8 23.1-2.8 93.3-2.7-95.9-2.7 1.2-2.7 28.2-2.5-11.2-2.6 23-2.4-6.8-2.4-28.2-2.3 57.2-2.2-28.1-2.2-247.5-6 341.8-1.8-382-1.7 34.8-3.1 12.9-1.4 371.1-1.3-410.2-1.2 45.4-1.1 272.1-1.7-27-0.7 29.3-1.4 1.3-0.2 19.7-0.1-3 0.1-29.2 1.5 17.7 0.7-151.7 1.8-68.5 1.1 23.2 1.1 193.2 1.3 26.4 1.4 7.2 1.5-14 1.7 5.3 1.7-12.4 1.8-1.5 1.9-18 2-207.2 2-79.6 6.8 74.6 4.8-47.1 7.7 200.3 5.5-7.9 2.8 17.2 8.7-59.2 3 5.3 9.1-38 3.2 12.1 9.5-61.5 29.9-25.3 10.2-54 34.5-11.6 3.4-6.4 3.5-52.9 44.4-18.1 3.9 0.4-3.3 0.1-3.4 23.9-3.3-23.9-3.4 1.2-6.8 0.2-6.8-0.6-10.3-0.5-3.4 22.8-58.4-17.1-3.4 18.3-3.3-6.8-6.7 4.8-3.3 37-3.3 34.4-28.5-3-3.1-24.8-5.9 0.1-5.7 228-2.8 30.1-2.7-209.6-2.7 246.1-7.7-50.2-2.5-182.9-11.1-34.2-1.9 57.2-1.9-9.8-1.8 80.2-1.7-31.2-1.6 79.6-2.9-37.4-1.3-19.7-1.2 161.8-1-18.3-1 37.9-3.1-33.4 0.1 23 0.2-10.7 1.4-284.7 2.4-33 4.9 0.2 3.2 53.8 7.3 229.6 6.5-257.6 2.3 268 2.4-260.3 2.4 93.3 18.8-19 18 27.2 3.1-54.2 3.2-53.5 6.4 11.7 3.2-59.4 3.2-2.8 6.6 1.9 3.3 32.1 3.4-58.9 54.8-2.6-13.4-1.4-3.4 25.8-24" marker-start="url(#k39)" marker-mid="url(#k39)" marker-end="url(#k39)"/>
<path d="M155.3 230.1l-4.4-3.4 7.6-10-4.1-3.3 183.2-9.7 55.4-18.7 41.5-22.8 1.1-2.6 28.7-5.1-23.5-2.4 22-6.9 51.1-9.8-11.9-1.7-12.2-3-264-1.4 8.8-3.5 81.6-0.9-8.2-0.8 204.8-1.3-10.3-0.9 36.1 0-16.8 0-324.4 1 21.6 0.6-18 0.7 8.4 0.8 50 1 247.7 2.2 6 2.7-20.2 3.1-20.3 5.4 25.7 1.9-26.3 2.1-2.9 2.2 13.8 2.2 7.2 2.3-270.1 2.3 11.4 2.5 60.2 5.1 207 2.6-260 5.4 6.1 2.8-57 5.7 179.9 24.5-25.1 16.3-78.2 33.8-109 0.2 2.8-17 18.9-3.4-0.1-10-14.5-3.3 47.6-3.3-14.7-3.2 93.5-6.5-43.1-9.5-50-9.2-13.3-3-13-2.9 15-8.6-13.1-2.8 32.9-2.7-6.7-2.7 3.3-7.6 26.2-7-0.1-4.4 16.3-2-44.6-5.6 144.7-1.7-105.1-1.5-28.6-6.3 54.7-0.9 90.8-0.8-34.2-0.7-8.1-0.5-53.4-0.5 102.2-0.3-130.7 0.9 6.7 1.3 49.7 1.7 18.6 2.2-35.4 1.3-68.5 2.9 291.2 1.6-2.8 1.7-227.8 3.7-7.5 2-14.9 2 92.5 6.7-58 4.8-37.8 2.5 28.3 7.8-83.3 5.5 28.5 5.8 28.2 5.8 1.8 6.1 72.3 6.2-60.6 6.3 50.6 9.7-11 3.2-23.2 3.3 61.1 10-137.4 79-25.3 13.6-26.1 13.5-1.4 9.9-0.5 13.1 0.2 3.2 1.7-33.1 0.3-10.1 1.3-3.4 126.8-98.9 15.8-3.2-53.6-6.5-34.3-3.2-25.6-3.1 39.3-3.1-32.6-3.1 94.9-9.1-1.2-2.9 166.3-8.6 10.4-8.1-13.6-2.6-178.8-7.4 80.5-4.6 161.9-2.2-135.3-7.9 10-1.8 50.5-6 107.6-1.3-270.4-3-14.9-1.5 9.7-1.4-0.5 0 76.3 1 4.4 0.6 119 3.5-103 2.5 44.7 2.9 27.5 1.6-13.5 1.7-155 7.6 242.8 4.4-309.5 4.6-17.2 12.8 5.1 11.2 262.8 2.9-228.5 3-35.8 6 54.2 3.1-1.1 15.8-17.8 6.5-58.6 43.9 3.7 3.5 1.3 3.4-0.3 64.7 114.3-112.4-47.2-3.3-50.8-3.2 69.9-6.5-30.3-3.1 6.1-3.2-18.9-3.1-32.5-6.1 48.6-3.1-20.2-2.9-26.9-8.7 95.3-2.8-61.2-2.7 34.4-2.7 3.7-2.7-21.3-9.9 33.5-2.4-7.3-2.2 41-4.3 79-3.9-53.7-1.8 231.6-3.4-282.7-4.4 26.7-2.3-125-2.7 112.7-2-59.9 0.2 39.8 1.4 37.1 0.7 110.8 5.3-14.5 6.1 4.8 3.7-41.3 12.9 36.2 7.5-33.8 2.6 35.9 5.4-112 8.5 25.9 8.8-12.7 3 0.3 3.1 38.4 6.2-0.7 3.2-12.7 3.2-104 13-26 10-39.2 3.3 3.7 3.4 1.1 20.5-9.7 51.7 2.3 36.3 35.4-37" marker-start="url(#k40)" marker-mid="url(#k40)" marker-end="url(#k40)"/>
<path d="M151.4 257.3l4.1-3.4 12-30.3-2.8-3.3 44.9-6.5-29.9-6.4 70.8-6.4-72-18.1 48.1-2.9 14.6-5.6-11.4-5.4-41.4-2.6 136-2.6-63.5-7.3-61.7-2.3 64.1-2.3-77.3-4.2 52.9-2 253.7-3.7 27.1-6.4-105.7-3.6 17.5-2.7 111.2-0.6-36.7-0.9 14-0.3 8.2-0.2-26.6 0.3-1.8 1.4 20.8 0.7-7.1 5.3-6.9 1.3 10.5 1.5-21.5 3.3-166.3 3.6-1 2-57.5 2-63.7 2.2-15 2.2 1.3 7 74.9 13-24.8 2.8 45.1 2.8 1.6 2.8-57.6 11.9-62.1 9.3 22.6 3.1 93.8 32.9-80 58.5-67.9 53 1.6-16.6 79.7-54.8 21.5-13.8-91.5-20.5 224.7-45.6-88.6-3.1 39.2-3-4.2-3-9.6-3 23.3-2.9-6.7-2.8 1.7-2.9 85.3-5.5 29.2-5.3-180.6-7.4-11.7-4.7 37.2-4.4 180.4-4 23-1.9-251.8-3.5 50.6-3.2 228.2-1.4-237.6-1.3 225.3-1.2-292.2-2.1 20.7-0.9 96.2-0.7 179.8-0.7 19.3-0.9-6.4-0.2 1.7-0.2-6.5 0.1-282.9 1 192.9 1.3 134.6 0.8-269.5 5.9 16.7 1.4 14 5.1 82.2 1.8 195.7 2-225.9 2 80.4 6.6 18.6 2.3-38.7 2.4-217.2 13-6.4 2.8 37.9 8.5 67.9 40.8-43.1 16.8-117.8 82.5-13.7-28.9 85.4-13.8-32.9-61 26.2-6.5 73.2-15.7 52.1-6.1 2.3-3-13.3-3 39.4-8.5 51.7-2.8 11.7-2.7-0.2-2.7-46.2-5.1-95-7.3 30-2.3 70-2.2-115.8-2.1 64.8-2-23.9-2-3.9-3.7-8-1.7 48.1-1.6-12.9-2.9-33.6-2.5-46.8-2.1-17.3-1.6-1.8-0.6 95.2-0.5 111.4-0.4-154-0.4 35.6 0 178.5 0.1 16.4 0.2-219 1.4 7 1.6-77.7 0.9-12.8 2.2-4.3 1.3 107.2 1.4-18.2 1.5 36.2 1.5 85.8 3.5-13 1.8 3.2 2-38.8 2-79 2.1-100.9 2.2 96.1 2.3 36.2 4.7 105.9 5-122.8 5.2-50.6 2.7 23.5 2.8 13.8 5.6 103.6 2.9-89.9 9 4 3-63.9 9.4-82.7 16.1 100.8 33.6-138.2 48.4-1.5 20.5-1.4 8.4 1.8-10.2-0.2-17.1 71.1-85.1-33.9-9.7 75-3.1-39.8-3.2 37.4-3.1 36.2-6.1-73-3-15.1-8.8 88-5.7-30.7-2.7 57.5-5.4-64.7-2.6-10.1-5-6.9-7 150-8.3 29.4-1.9 10.3-3.4-22.2-1.6 7.8-1.5 4.3-1.4-38.6-4.5 38.6-0.9 24.6-0.7-5.4-0.6 99.2-0.9-0.8-0.2-15.3-0.2 13.5 0.1-24.5 1.1 132.3 1.3-331 0.8 218.7 1-276 1-48.5 1.2 291.1 4.1-12.8 3.2-201.9 3.6 24.4 4 40 2.1-82.3 2.2 34.5 2.3-12.5 2.3-55.2 2.4 114 2.4-64.5 10.5 19.9 2.7-30 26.7-0.5 3.1-26.6 60.1-93 27.6-1.8 3.5 0.4 47.7" marker-start="url(#k41)" marker-mid="url(#k41)" marker-end="url(#k41)"/>
<path d="M223.9 281.4l30.6-20.6 28.8-20.3 133.6-59.1 15.7-2.8 5.7-2.7 37.7-2.6-27.7-2.6-8-2.5 0.2-4.9 16.4-2.3-2.8-4.4-1-2.1-10.9-2 42.5-3.8-4.7-3.5 12.3-1.6-4.6-1.4 23.3-1.4-16.7-1.3 55.3-1.2-46.7-2 12.9-0.8-6.3-2.2-2.5-0.4-15.2 1.2-8.7 0.6 14.2 0.7-26.1 0.9 29.8 0.9-3.2 1.1-17.6 1.1-1.1 2.7 14.3 1.4 1.2 1.6-24.4 3.4-12.6 1.9-8.2 1.9 16.1 4.1-18.9 9.2 16.6 2.4-53.3 5.1 10.8 8.1-3.2 2.8-141.7 5.7-37.4 2.9 43.2 3 16.3 3-62 3 140.8 22.2-62.9 3.2-129.6 78.5-12.5 10.3-16.4 17.1-10.4 13.5 66-121.5 13.5-6.5-27.8-3.2 46.8-3.1-56.8-3.1-8.4-6.2 34.4-3-25.7-6 254.5-8.6-164.3-5.5-43.9-7.9-19.9-4.9 65.6-2.4 47.9-6.7-37.6-2.1-62.8-2 2.8-1.9 53-3.6 2.2-1.7-45.7-4.4-25.7-4.4 72-2.1-47-1.2-5.3 0.1 103.4 0.3 245.9 0.3-362.5 0.5-25.9 1.3 3.6 0.8 38.3 1 4.8 1 11.1 1.2-10.8 2.6 19 3.1 71.2 1.6 43.9 5.6-96 6.2-38.8 11.9 120 5.2-53.3 13.9 1.7 5.9-2.4 3-45.6 3.1-48.5 3-28.9 32.2 89.9 13.5-66.9 41.2-31.1 21.3 113.2-75.3 12.9-3.3 4-3.3 15.8-9.7 45-18.8 23.8-6 24.9-17 16.4-5.3 9.7-7.5 0.1-2.3 9.6-2.3 2.5-2.3 2.5-2.1-9.6-2.1 19.1-5.7-5.1-3.4 20.5-1.6 4.9-1.4 7.1-1.4 0.7-1.2 12.7-3.9-37.5-0.7 24.2-0.6 4.9-1 19.2-0.2-13.7 0.1-18.3 0.1 12.8 0.6 11.8 3.6-28.4 2.2 9.5 5.6-24.5 1.7-3.7 1.7-15 5.8 14.6 2.1-26.4 4.4 16.2 2.3-25.3 2.4-27.6 12.8 0.3 8.3-28.1 8.8-27.4 3-85.3 51.7-20.2 17-44.9 31.1-5.9 3.5-48 54.4 0.1-3.3 0.4-6.6 0.2-6.7 4.5-37.7-3.3-13.8 1.2-10.3 4.9-10.3 2.1-3.4-1.2-3.5 2.4-3.4-6.5-3.4 2-3.3 34.2-26.5 47.3-3.3 19.6-12.6-35.8-3.1-5.9-9-4.7-2.9 241.5-8.6-169.7-5.4 52.7-5.3-107.1-2.5 24.5-2.5 55-9.3-39.4-2.1-47.2-7.8 57.7-1.7-87.9-4.6 125.9-3.7 8.3-1-23.7-2.4-58.4-0.6 65.9-0.8 321.1-0.2-261.1-0.1-95.8 0.8-2.3 1.1 94.1 0.7 24.7 0.8-132 1-38 1 17.7 1.2-5.5 2.6 164.8 1.5-166.8 1.5 45.2 5.3-40.4 1.9-3.6 2-28.4 2.1-3.1 2.1 28.4 6.9 13.6 2.5 75.9 2.5 20.8 2.5-66.5 5.3-23.6 17 15.4 3-47.5 3.1-8.9 15.6 7.8 3.2-51.4 13 136.3 16.8-129.1 3.4-16.9 6.8-4.4 85.5 2.4-16.9" marker-start="url(#k42)" marker-mid="url(#k42)" marker-end="url(#k42)"/>
<path d="M162.1 322.8l-17.5-48.2 3.8-3.4 3.4-3.4-5-3.5-1.5-6.7-2.6-3.4 5.1-3.4-5.6-6.7 7.3-3.3-0.1-6.6-1-3.2-4.5-3.3 6.1-3.2-3-3.2 4.5-3.1 0-3.2 3-3.1-4.5-9.1 8.2-2.9 46.2-3 31-2.9 10.4-2.8-63.8-2.8-4.7-2.7 22.1-2.7 51-2.7-65.6-5.1 89.2-9.5-0.7-6.3 38.6-3.9 15.7-3.5 39.3-1.6-93-4.3-72.7-1.2 26.5-1.1 107.4-2.7-57.9-0.7 219.8-1.3-180.6-0.3 285.8 0.8-238.8 0.5-77.9 3.1-64 1 2.7 1.2-17.5 2.6 1.9 1.5 125.3 3.2-92.9 7.5 135 2-61.6 2.2-20.3 2.2 15.8 2.3 71.9 2.4-19.5 2.4-64.3 13 52.5 5.6-27.9 2.9-20.3 2.9-46 5.9-89.9 44.9 13.5 61.7 90.3-52.1 2.4-10.1-68.4-26.1-19.7-6.3 4.8-3.1 11.1-6.1 76.4-5.9-77.2-5.8-41.7-2.8 97.4-2.8-53.6-5.4 36.5-5.2 58.2-5-29.8-2.4 74.3-4.6-72.9-2.1 134-4.2-6.2-3.8 22.9-3.5 10.9-1.6 4.8-1.5-2.5-2.7 130.5-3.3-284.1-0.9 99.2-0.8-140.9-1.2 54.5-0.7 5.8-0.3 25 0.4-29 0.9 27.5 1.3 74.8 0.8 11.4 1-62.3 1-26.2 1.2 104.6 4.1-77.1 1.5-52 1.7 137.9 3.5 67.1 3.9-136.2 2.1-39.3 4.4 68.9 2.3 0.3 2.3-26 2.5-60.6 2.5 10.6 2.5-16.5 2.6-49 2.7 4.6 2.7 0.2 2.7 71.1 2.8-128.5 8.7 10.7 3-38.4 3 12.3 6.1 1 12.7-31.7 6.4-9.7 64.5-3.5 60.4 2.4-27 1.7-27.5-0.2-3.5-2-3.4 1.5-13.8 137.7-40.6 11.8-3.3 46.6-22.4 28.3-15.1 10.8-16.7-202.3-2.6 104.3-2.6 44.1-2.5-0.8-4.8-63.9-6.7 33.7-2.1 78.1-2-45.9-3.8-80.9-1.8 217.2-1.7 3.6-1.5-210.5-1.5-35.9-1.4 151.9-1.3-81.5-2.3 17.8-1.9 77.5-1.4 176.6-0.5-60.1-0.8-6-0.2 13.9 0-25.4 0 7 0.1 9.5 0.3-4.2 0.4-0.8 1.1-17.1 1.6-157.3 4.4-2.4 6 144.3 3.6-49.4 8.1 27.9 2.2-6.2 2.3-22.7 2.3 10.4 4.9-80.1 2.6 24.9 2.6-28.6 2.6 14.6 8.3-72.4 8.6-24.4 3 48.4 31.5-99.7 57.7-60.6 3.4-5.3 60.1 0-3.4 8.8-61.6-1.4-3.4-0.6-6.9 82.2-6.9-85.2-3.4 16.7-10.2-9.6-29.8 11.2-3.3 5.4-3.2 43.3-6.3 144.4-6.1-110.8-3.1 136.9-3-127.3-3 19.6-2.9 50.1-2.9-85.5-8.4 17.8-2.7-14.3-2.7 69.7-2.6-38.5-2.5-13.6-2.5-65.9-7.1-11.8-8.5 0.2-3.7-11.7-3.4 1.6-1.6 22-1.5 5.7-1.4-8.7-1.2 261.7-1.2 35.9-1.1 12.7-1.8-5.3-0.8-1.3-1.6-158.9-0.1 141.7 1.5-276.9 1.6 23.8 2 8.7 1.2-6.9 2.6 53 1.4-80.1 1.6 6 1.6-36.6 1.8 9.9 1.8-21.7 1.9 311.8 2-258.6 4.2 11.4 4.5-18.7 4.7 173.3 18.5-59.7 8.7-29.1 9-139.9 28.6-4.2 3.3 5.7 3.4 11 16.8-9.5 6.8 14.3 55.2-23.4 10.3-0.8 21.7" marker-start="url(#k43)" marker-mid="url(#k43)" marker-end="url(#k43)"/>
<path d="M139.8 340.2l66.1-44.8-46.4-57.3 3.7-3.3 9.5-9.5 33.2-3.1 5-3.1 3.5-9.1 32.9-5.9-70.2-8.5-16.9-8.1 32.3-2.6 26.2-2.6-9.6-2.4 10-2.4 39.3-2.4-18.8-4.5-37.2-4.2 19.7-3.9 4.6-1.8-14-1.7 37.8-4.7-13.5-2.6-9.1-1.2 8.9-2 71.1-0.9-15.1-0.7 9.9-0.7-6.7-1.2 106.9 0-44.3 1.2 45.7 3.1-34.2 3.5-1.9 1.3-59.6 1.5 40 1.5-49.9 1.7 13.1 5.4 19.1 2-25.7 4.2 25.9 4.5-25 2.3-52.3 2.4 64.6 2.5-36.6 2.5-64.8 2.6 69.8 2.6 45.2 2.7 7.4 2.8-106.9 11.4-4.1 3 48.8 6-66.8 12.4 60.4 22.8-56.5-21.5 59.9-9.3 10.2-6.1 12-5.9 18.4-3 5.6-2.8 6.2-2.9-20.6-2.7-134.4-5.5 5.6-2.6 34.4-5.1 62-2.4-47.9-4.8 38.3-6.6 14.4-2-43.8-3.9-7.5-1.8 67.9-6.3 234-2.6-193.8-2.2-138.3-1.8 84.7-0.8 71-0.6-45.3-1.2 68.2-0.1-27.8-0.1 19 0.1-120.3 1.3 61.6 0.6 88.6 3.6-36.2 1.2-29.6 1.2-49.5 1.4 82.7 1.4-133.8 6.8-36.3 8-41.6 4.5 81.1 2.3 15.1 2.4 32.8 5-23.3 2.6-60.9 2.6 37.5 2.7-11 2.7-22.6 5.7 27.3 8.7 55.9 9.1 3.8 3.1-6.5 3.1-87.1 70.9 110.9-57.3-119.3-15.8-15.6-3.1-1-3 12.9-3 37.7-3-15.3-5.9 160.6-2.8-112-5.6-52.1-2.7 11.4-2.7 20.2-2.6-10.5-9.9-17-2.4 10.2-2.2 31.6-4.3 21.3-4-27-1.9-21.5-1.8-13.3-1.7 82.5-1.6 210.1-1.5-44.5-1.5 4-3.7-260.4-1 83.4-0.9 220.2-2.2-91.7-0.5-45.5-0.4-167.2-0.2 31.2 0.3 262.4 1.5-127.9 2.5 38.3 2.2-77.2 2.7-68.3 2.9 35.1 7.1-44.4 2 16 15.8 142.2 2.5-207.6 5.2 5.9 2.7-9.2 2.7 26.2 2.8-1.2 2.8 29.3 5.8-53.2 5.9 21.4 6.1 3.8 3.1-31.9 6.3 20.2 0.5 52.2-15.4 14.8-3 78.2-2.9-131-5.7-22.9-8.3-7.8-2.7 0.2-2.6 16.4-2.5 10.1-9.6-18.7-4.4-20.5-2.1 62-2 51.2-3.8-27.8-1.8 86.1-1.7-5.8-1.6 7.4-3-31.9-1.3-48.9-1.2-35.8-3.1-9.7-0.8-58.6-0.7 16.5-1.7 66-0.2-31.8 0.2-18.6 0.3 6.6 0.4 53.2 0.6-30 0.6 12.9 1.6 11.5 0.9 20.7 1.1 57.4 2.4-58.6 2.8 1.9 3.1-30.4 1.8-50 7.7 30.1 2.1-26.1 2.2 40.1 2.2 35.3 2.4-23 2.4 14.6 2.4-84.5 5.1-5.7 8 38.5 2.8 169.9 2.8-210.9 2.9-19.1 2.9 3.2 5.9-9.6 3 16.9 9.3 8.8 3.1-25.5 6.4 18 3.2-23.6 6.5" marker-start="url(#k44)" marker-mid="url(#k44)" marker-end="url(#k44)"/>
<path d="M138.9 354.1l0.8-10.2 136.4-98.6-1-28.1-54-5.9-5.7-2.9 91.2-5.6 3.9-5.5-39.2-2.6-59.4-5.1 72.8-2.5-37.1-2.4 20.1-2.4-34-2.3-20.5-2.2-46.3-2.2 2.8-2 4.2-4 31.1-5.3-14.9-1.5 4.1-1.5 58.2-1.5-47.8-4.6 2.1-0.9 264-2.1-19.4-0.5-260.5-0.3-7.1-0.3 16.8-0.1-17.3 0.9 21.3 0.5 15 3.2 12 1.1 1.1 8.3 51.1 1.7 90.6 1.8 1.7 1.9-48.5 6.1-37.4 2.2-56.7 2.3-26.5 7.1 146.8 7.7 24 2.7-13.6 2.7-23.6 14.3-3.4 3-19.3 6-154.5 32-2.9 68.4-15.9-24.9 3.3-20.5 143.3-39.7-64.2-18.6-31.5-5.9 25.8-2.9-25-5.7 16.5-2.8-21.4-2.7-5.8-2.7-14.6-2.6 99.8-2.6-28-2.5 76.8-11.7 23.8-2.2 30.4-2 105.2-3.9-194.6-1.9 172.3-1.7-150.5-1.7-50.3-1.6-53.3-2.8 161.3-2.5-40.5-1.1-66.8-2.7 64.2-0.7 208-0.6-173.1-0.5-13.3-0.6-29.6-0.1-85.7 0.1 35.7 0.2-16 1.9 50.9 0.7-3.9 0.8-21.5 3.2-71.2 2.6 230.8 1.5-3.6 3.1-165.1 1.7-5.4 7.7 12.4 2.1-2.8 4.4-75 14.8 37.6 2.7 40.5 2.7-39.2 2.8 43.9 2.8-36.1 5.7-19.4 8.9 42.6 15.6-111.8 26.1-6.1 16.9 4 13.7-2.9-11.3 21.4-43.1 132.4-9.4 88-23.6-30.7-2.7 5.4-2.8-117.5-5.3 139.9-9.9 37.9-6.8 6.1-2.1 8.4-2-0.8-2-13-3.7 32.1-3.4-140.5-4.4 138-1.3 7-1.2 1.1-1.1 14.7-1-17.1-1.6 3.1-0.7-3.6-0.6 19.1-0.4-4.3-0.4 3.8-0.2 1-0.2 28.5 0.3-7.8 0.4-8.1 0.9-32.8 1.4 0.6 1.8 16.6 1.1-25.5 2.4 5.5 1.3 6.7 1.5-26.9 3.1-12.9 1.7-234.3 1.8 222.1 1.9-10 1.9-12.4 8.6-13.1 14.8-15.8 8.1-59.6 26.6-159.2 123.4 10.8-62-2.1-6.8 75.6-6.8-81.3-3.4 4.4-3.3 7.6-6.8-6.1-3.3-3.9-3.3 19.4-25.7-4.1-3.1 0.5-3.1 53.1-3 34.7-6 104.8-2.9-122.2-8.5-58.5-2.8-2.4-2.7-8.6-2.7 224.1-5.1-218.8-2.5 98.5-4.8-58.3-4.6-11.9-2.2 68.1-2.1-15.4-2-45.9-2 5.6-3.7 299.5-1.7-265.7-1.6-71.6-3 33.7-1.4 3.4-1.3 66.9-2.2-24.2-1-37.4-0.9-24.5-1.4-6.1-0.5 28.7-0.8 15.3-0.2-36.7-0.2 12.8 0 44.9 0.1 56.8 0.2-53.1 0.4 11.5 0.4 18.5 0.5 2.7 0.7-45.5 0.7-33 1.8 24.4 1.1 38.7 1.1-70.9 4.1 24.7 1.5 46.9 1.6-72.3 3.5-31.4 1.9-0.8 1.9 14 2.1 31.3 2.1-14.1 4.4-20.8 4.6 8.1 2.5 4.6 2.5-21.3 2.5-9.5 2.6-2.6 2.7 3.5 2.7-3.7 5.5 0 2.9 30.8 2.8-33.5 5.9 1.6 3 1 3.1-8.6 3 4.6 3.1 9.8 3.1-15.3 9.6 1.9 9.7 19.6 10-24.3 54.7" marker-start="url(#k45)" marker-mid="url(#k45)" marker-end="url(#k45)"/>
<path d="M140 354.5l2.1-27.5-1.9-6.9-0.8-3.5 1.2-3.4 0-3.5 0.1-6.8 1.2-3.5 1.5-6.8-2.3-3.4 3.3-3.4 6.2-3.4-2.7-6.8-6.3-6.7 1.9-6.6 5-3.3 0-3.3 118.4-3.2-110.2-3.2 3.9-6.4 23.8-12.4 2.2-9 18.1-2.9 9.2-2.9-8.8-5.6-4.6-8.1 28.1-2.6-60-5 6.3-4.8 46.9-2.3 13.8-2.2-66.7-2.2 15.5-4.1 90-8.9-82.6-1.6 6.3-1.4 36.9-2.6 230.2-1.2-284.4-2 273.9-0.9-206.1-2.7 47.5-0.2-0.3-0.1-52 0.1 63.8 0.2 32 0.8-35.3 0.5 59.4 0.7-14.2 4.7 38.4 1.3-49.1 2.8 31 1.5-11.7 5.1-47.2 1.9-15.4 4 9 2-118.7 2.2 35.5 2.2-24.5 4.7-1.8 7.5-20.2 5.2 9.7 2.7 22.2 5.5-13.1 86.7-48.7 6.9 19 18.1 111.2-80.6 26.1-12.3 10.5-6 7.1-3 10-11.4 40.1-10.6 37.9-20.5-123.1-1.9 66.8-1.9-5-3.4-69.9-1.6 146.9-1.6 7.5-1.4 24.4-3.7-17.9-2 24.4-1.6-9.5-0.6-17.6-0.6 30.6-0.4 2.5-0.3-16.9-0.2-6.4-0.1 10.6 0-4.7 0.3 4.9 3.6-280.5 2-7.6 1.2 256.2 1.2-8.7 1.4 6.1 1.4-4.2 1.5-18.5 3.3-26.5 1.8 15.1 1.9 0 1.9-7.6 4.1 6.7 2.2-19.6 2.2 6.2 2.3-16.5 4.8-24.6 10.2 3.3 2.7-48 29.3-4.2 3.1-42.8 29.2-16.8 6.7-80.2 41.4-1.3-3.4 1.2-3.5 3.3-13.7 119.1-46.6 6.5-3.2 6.4-6.2-13.5-3.2 4.8-3-97.5-38.8-3.9-2.4 34.7-4.7-36.2-2.2-8.7-2.1 102.9-4.1-54.9-3.7 32.9-3.4-60.5-1.6 232.9-1.5-195.3-1.5-25.9-1.3 39-1.2-9.9-1.1 25-1.1-24.8-0.9 9.5-0.8 66.1-0.8 179.9-0.6-12.4-0.5-169.6-0.4 98.8-0.3-47.9-0.2-48.8-0.1-31.3 0 58.9 0.3 41 1.4-106.5 1.4 8.6 0.8 165.4 2 19.9 1.2-9.4 1.3-124.9 1.3 35.6 1.4-48.6 4.9 63.9 1.7-87.3 5.9-17.5 2 60.5 2.2-65.5 2.2 22 2.3-34.4 4.8-21.4 7.6-53.7 31.4 1.4 3.1-14.5 3.1-4.4 25.8 16.6-25.6 168.1-20.9-95.2-8.4-17.7-2.7-52.6-5.3 170.5-2.6 48.2-16.2-219.1-4 103.5-1.9 134.1-1.8 13.4-1.8 8.3-1.6-2.6-4.5 18.3-1.3 2.7-3.4 4.8-1.7-8-2.3 1-0.3 0.7-0.2-101.5 0-122.3 0 272.8 0.1-179.9 0.2 151.8 0.4-12.8 0.4-11.5 0.6-18.1 0.6 36.2 0.8-10.8 1.8-11.4 1.1-17.3 1.1 9.9 1.3-7.1 1.3 0.4 1.5-28.8 1.5 9.7 1.6-0.3 1.7-8.4 1.8-2.6 1.8 18.7 2-26 2-171.4 11.1 33.9 2.4 39.5 2.4-31.6 2.6 14.1 2.5 28.3 5.3 33.3 8.4-9.8 2.8-35.2 14.9-2.2 3.1" marker-start="url(#k46)" marker-mid="url(#k46)" marker-end="url(#k46)"/>
<path d="M138.9 358.3l0-3.4 0.7-10.3 55.9-44.8 29-23.6 10.6-3.3-63.4-32 19.1-9.1 157.1-17.1 6.8-7.9-93.1-2.5 111.3-9.6 0.4-4.5 39.4-2.1-204.8-2 31-2-55.6-1.9 17.9-1.8 33.4-3.3 19.8-1.6 1.3-1.5 170.9-3.9-20.5-1.1 46.1-1.9-7.7-0.8 5.9-1.8 11-0.4 10.3-0.3-15.6-0.2 5.4 0 7.1 0.1-18.5 0.6 6.8 0.5 11.2 0.5-26.4 0.7 10.6 0.7-5.6 0.9 7.9 1-17.5 1-153 1.2 136.6 2.6-9.8 1.4-231.8 3.1-10.3 1.7 73.5 1.8-21.3 3.8-29.9 4.1 16.8 2.1 27.6 19.4-54.5 2.7 2.9 2.7 8.3 2.8 22.5 2.8 18.8 49.7-28.3 20.1-62.8 26.3 6.8-47.3 7-3.3-10.9-19.2 9.7-3.1 6.6-3-1.3-3.1 11.2-14.7 20.8-2.8-8.1-2.8 35.4-2.7-14.6-7.9 93.2-2.5-32.2-2.5 1.3-2.4 39.5-2.4-71.3-2.3 21-2.2-15.7-2.2 126.5-4.1 2.2-1.9 4.2-1.9-20.1-1.8-5.8-3.3 0.5-1.6 102-2.8-13.7-2.5-6.7-1.1 58.5-1-169.1-0.9-16.7-1.4 77.9-0.6 2.3-0.5-3.7-0.4-4.5-0.3-50.6-0.2 10.6 0.1-58.8 0.3 62.9 0.3 187.4 1.1-222.6 5.4 43.2 1.3-47.3 1.3 76 1.4-41.2 1.6-83.3 5 44.3 1.9 59 1.9-50.9 2-5.7 2.1-5.7 2.1-14.2 4.5-12.8 4.7-36.5 2.5 52.6 5.1-71.4 2.6-11.6 2.7 14.6 2.7-16.8 2.8-32 36.1-9.4 3.2-4.5 16.3-3.9 6.7-2.7 3.4-1.4 3.4 0 3.3 5.7 6.8-0.8 3.5-7 10.3-0.2 3.4 0.9 3.5-1 17.3-0.4 3.4-0.1 3.5-0.2 13.8 0.4-8.6 6.8-3.4-6-6.9 98.6-61.4 41.8-35.1 11.6-3.1 2.9-5.9 26.4-5.9 26.6-11.1 10.5-7.9-4.9-2.5 18.6-2.4 6.1-4.8-2.9-4.5 32.7-10-18.3-1.8-41.6-3.3-130.3-4.3 13.6-1.3 34.6-2.3-19-0.9 53.9-0.9-31-0.8 167.1-0.7-3.2-0.6-68.9-1.1-18.9-0.2 24.1 0.2 47.2 0.2-31.5 0.8-31 1.3 16.2 0.7-56.7 2.9 109.6 3.8 14.8 1.4-66.4 1.5-53.9 1.6 83.2 1.7 7.3 1.8 0.8 1.8-142.2 3.9-52.5 2.1 40.4 13.8-55.6 2.5-24.4 2.6 0 5.2-14.6 2.8 21.7 11.2-43.6 129.3 26.9-136.2-6.1-2.7 160-5.4 65.9-19.3 4.9-2.1 3.6-2.1 9.3-3.9-5.7-1.8-222.8-6.6-19.8-1.4 259.5-1.4-14.5-1.2-4.7-1.2 9.9-1.1 2.2-0.9 10.3-0.9 45.2-2-31.3-0.5-0.5-0.3-19.4-0.3 15.6-0.2 27.3 0-25.4 0-9.1 0.2-1.9 0.6 11.2 0.5-40.5 0.5 31.2 0.7-15.6 4.8-11.9 1.3 20.9 4.3-17.9 5-51.4 12.2 1 2.2 8 2.4-0.2 2.3-16.1 15.5-127.6 65-19.6 16.9" marker-start="url(#k47)" marker-mid="url(#k47)" marker-end="url(#k47)"/>
<path d="M177.5 310.5l-20.2-71.3-5.4-2.9 6.5-2.9 7.8-2.9 22.2-2.8-33.3-5.5 3.3-2.7 11.1-5.3 34.2-2.5 18.3-2.5 16.9-7.1-47.7-2.3 87.6-8.3 83.7-1.9 9.4-1.8-19.1-1.8-33.6-1.7 5.3-1.6-56.4-4.2 104.5-2.4-24-1-49.3-1.9 45.8-0.7-12.6-0.7-28.4-0.5-65.5-0.5 127.4-0.6 8.5-0.2 71.5 0.1-13.9 0.1-9.8 0.6 1.4 1.1-232.5 3.3 31.9 1 40.7 1.2 150 1.2-182.7 2.8 7 3.1 2.7 1.7 14.9 1.8-47.2 1.8 80.4 10.3-35.1 2.2-14.8 2.4-18.7 4.8 81 5-25.7 5.3 7.5 19.8-15.8 9.1-45.7 28.7-16 10-2.7 3.3-21.5 17-3.7 3.4-29.1 31.4 180.7-129.6 24-7.2 0-2.3 0.6-2.3 22.7-4.2-1.2-7.8 9.5-1.7-1.5-1.6 19.9-3.1 12.8-2.7-3.6-2.4 4-2 2.1-2.2 0.8-0.6 16.9-0.8-5.1-0.2-7.3-0.1 10.3-0.1-6.1 0.1-14.3 0.8 13.8 0.5-2.8 0.5-10.5 0.7 1.9 1.7 14.5 0.9-16.8 1.1-19.7 1.1 8.4 1.3 4.3 1.3-7.5 1.5 8 1.5-15.7 1.6 10.8 1.6-15.3 1.8-5.2 3.8-14.4 1.9-31.7 2.1 11.8 2.1 3.8 9.2-21.5 2.4-5.2 15.7-136.7 75.5-7.8 6.8-20.9 17.2-14.4 20.8-5.9 3.3 0.5-3.5 0.7-13.8 8-57.4 14.5-28.3-9.1-5.9 13.5-2.9 22.9-2.9 14.8-8.4 168.4-2.8-169.7-5.2 23.2-2.6 19.1-2.5 23.2-2.5-18.5-4.7-2-2.3-49.2-2.3 109.9-6.2-94.8-2 6.2-1.9-34.2-6.7-10.6-1.5 231.2-1.3-11.6-1.3 21.4-1.3 6.1-3 3.9-0.9-9.4-0.7-131.7-2.2 33.8-0.2-39.2 0.3-45 0.3 8 0.8 80.1 1.3-20 1.6 34.4 1-14.4 1.1 34 2.4-98.6 1.3 61 1.4 30 1.5-122.9 5.1-0.9 3.7 57.4 2-17.5 4.1 22.5 4.5-2.2 2.3 4.1 2.4 20.5 2.4-20.3 7.6-34.3 10.9 18.9 11.5-136.3 116.2 141.2-104.3-91.2-20.6 144.6-5.5-114.7-5.4 2.4-5.2-22.3-4.9 7.3-2.4 10.1-2.4-30.7-4.4 52.7-2.2 36.6-2.1 48.5-2-63-1.9-18.2-5.4-49.5-1.6 9.2-1.5 1.2-1.5 14.8-1.4-27-1.3 62.6-1.2-3.3-1.1-13.3-1 1.9-1.7 74.3-1.9-68.8-0.4 31.7-0.4 145.6-0.2 3.3-0.1 5 0-80.9 0.5-52.5 0.9 68.5 0.5-30.1 0.7 2.4 0.8-41.3 0.9 9.1 1-34.4 2.2-49.3 1.2-15.6 1.4-28.3 1.4-16.8 3.1 2.2 1.7-1.4 1.7 68.8 1.8-66.7 3.9 53 2.1 61.1 6.5 3.4 2.3-57.1 4.8-35.4 2.5-35.7 13.2-1.9 8.4-5.9 5.9 0.3 2.9 0.8 3 6.8 6.1-7.3 6.3 14.3 3.1 25.3 39.6" marker-start="url(#k48)" marker-mid="url(#k48)" marker-end="url(#k48)"/>
<path d="M180.1 314.5l-28.1-36.7-6.8-3.2 14.3-18.9 2.4-9 135.7-14.3 21.6-8.1 6.3-2.6 0.4-7.5 35.9-11.2 6.4-2.1 45.8-2-30.8-1.9 6.5-1.9-10.4-5.1-3.5-1.5-5.2-1.4 15.4-1.4 2.9-1.3-2-1.2 6.5-1.1 6.6-1 69.4-0.9-74.6-1.5-10.6-1.1-147.3-0.8 175.6-0.3-11.2 0.1 4.2 0.4 11.2 0.4 12.9 0.5-10.6 1.3-16.3 0.8 8.4 0.8-5.1 1 9.3 1.1-10.7 3.7 0.7 1.4-7.9 1.6-17 1.5 10.4 1.7-16 1.8 6 1.8-15 1.9 14.4 2-41.7 4.1-26.6 16.5-34 19.1-17.7 11.8-108.2 21.8 1.9 3.3-6.6 66 27.4-30.8 14-10.2 28.1-23.1-63.9-22 140.2-6 20.1-5.9-31.5-2.9 28-13.8 31.2-23.9-1.9-2.1 33.8-3.8 14.8-3.6-14.4-3.3 1.7-1.5 0.6-1.5 25.1-1.3-3.7-1.3-0.5-2.2 7.7-1 13.8-0.9 3.4-1.5-5-0.6 0.6-0.9-7.1-0.4 3.5-0.2 0.2-0.1 11.4 0-13.7 0.6-3.3 0.4-13.2 0.5 6.5 0.6-16.4 0.7 15.2 0.7 5.2 0.9 4.5 1-24.7 1.1-10.1 3.7 2.7 1.4-12.5 1.5-204.5 3.3 192.9 1.7-0.1 1.8 1.2 1.9 2.1 2-22.5 6.3-8 6.9-2.6 7.4-74.2 43.1-36.5 22.6-24.4 16.6 53.2-40.7 24.1-26.6-63.8-10.7 52.5-5.1 39.1-2.5-61.3-4.8 15.5-2.3 43.2-2.2-82.6-6.3 25.2-2-14.6-1.9 14.9-1.8-5.4-1.7 189-1.7-135.5-1.6-49.3-1.5 92.4-2.7 11.9-1.3-49.6-1.1-31.7-1.1 67.6-1 42.8-2.4-28.3-0.6 42.7-0.5-38-0.4 17.2-0.3 16.5-0.3-11 0.1-59.9 0.9-19.5 1.1 10.4 0.7 37.7 0.8-11.8 0.9-16.6 1-15.1 1-13.8 1.2 36.6 2.6-77.1 1.4 83.3 4.7-46.2 5.5-70.4 6.1-40.7 4.4 3.8 2.3 48.8 2.3 143.5 2.4-170.4 5 79.1 2.6 14.7 13.6-118.1 23.7 2.6 12.7-15.1 63.8 21.6-26.4 4.7-3.4 5.7-3.4 57.9-42.1 29.2-18-81.9-24.3 126.5-2.4 2.5-2.4 7.7-4.6 27.8-8.5 5.8-3.9-3.2-1.8 9.4-1.7-1.1-4.7 12.8-1.4 14.7-3.7-60.3-2.9 25.3-1.5 8.7-0.6-97.5-0.9 40.7-0.4-38.9-0.1-45.6 0 93.8 0.1-17.8 0.5-4.9 0.4 0 0.5 116.1 1.3-7.2 0.8-19.6 0.8 53.6 1-48.4 1.1 6.6 1.1 47.1 1.3-263.2 2.7 0.9 3.1-4 1.7 18.5 1.7-0.6 1.8-7 1.9-6.9 2 143.7 2-19.3 4.3 2.2 2.2 10.5 4.6-6.9 2.4-18.9 5-1.1 13.3-14.9 2.8-10.9 5.7-3.5 3-28.3 21.3" marker-start="url(#k49)" marker-mid="url(#k49)" marker-end="url(#k49)"/>
<path d="M163.5 239.9l10.3-2.7 28-5.4-29-2.6 4.3-2.5 6.6-2.5-9-2.5-21.3-2.3 19.6-4.6 39.4-2.2-36.9-2.2 208-2.1-188.5-3.9 46.3-1.9-15.9-1.8 29.7-1.7-28.6-1.6 140.9-1.6-116.2-1.5 33.5-1.3 46.2-1.4-34.6-1.2-108.3-1.1 26.4-2-16.3-2.3 13.1-0.6-5.6-0.9 68.3-0.4 17.9-0.1 66.7 0 17.6 0.6-21.6 0.9-67.3 0.6 10.1 1.5 39.2 0.9 13.4 1 44.8 1.1 1.1 1.1-25.1 1.3-66.8 1.3-2.9 1.4 80.4 1.5-76.5 1.6-76 1.6 82.2 1.8-23.5 1.8-31.8 1.9 43.7 1.9 13.5 2.1-17 2.1 14.7 2.1-24.6 2.2-31.4 2.3-24.4 2.4-15.8 2.4 59.2 15.5 18.7 2.7-46.8 23.4-87.4 69.1-7.4 6.9-11.6 3.5-0.2 3.4 83.9-70.2 25-12.4 54.7-33.8 17.1-7.5-58.2-2.3 84.3-2.4-113.7-4.4 117.4-2.1 10.4-9.6-6.5-1.7-4.2-1.7-55-1.5-18.3-2.9-60.2-1.3 54.6-1.2-79-1.1 73.3-1 3.3-1 58.8-0.8 16.2-0.8-6.4-0.6-35.6-1.4 109.5-0.3 29.2-0.2 1.5-0.1-36.1 0 1 0.2 1.2 0.2-0.8 0.7-29.4 0.5 16.9 0.6-16.5 0.7 3.1 0.8 13.5 0.9-4.3 1 1 1 1.3 1.2-15.8 1.2-4 1.4 9.5 1.4-5.6 1.5-11.5 1.5 3 1.7-160.5 3.5-15.3 3.9 39.3 6.2 2 2.3 22.2 2.2-39.2 2.4 5.9 56.4-8.9 3.2-22.9 19.5-25.6 20.2-3.5 3.4-3.2 3 2.7-3.4 77.3-55.4 51-28.9-0.6-2.7 10.2-5.2 5.4-2.5 13.2-4.9 8.4-4.7-6.4-2.2 30.2-6.3 15.3-9.2-16.5-1.6-7.1-1.6 11-2.8 10.1-2.5 4.5-1.1 20-1 7.3-1.8-6.5-0.7-152.1-0.7 148-0.5 3.8-0.5-10.3-0.3 17.7-0.5 6.1 0-6.4 0.1-0.3 0.2-5.9 0.3-5.7 0.4 18.5 0.6-32.1 2.1 2.6 0.8 15.4 1-22 3.5-4.3 1.3-3 1.4-166.8 1.5 8.7 1.6 25.4 1.7-9.2 1.7-28 1.8-32.8 1.9 168.4 3.9 4.5 2.1-8.7 2.2-148.5 16.7-1.3 5.2 3.7 2.7-8.7 35.4-16.7 66.5-5.5-14.6 1.9-13.6 41.4-10 17.8-13.1-35.3-34-5-2.9 47-21.7-29.7-5 69.1-2.4 86.2-2.4-132.4-4.5-16.5-2.1 27.3-4.2 4.3-1.9 72-1.9-25-6.9 35.3-1.5 19-1.4-41.6-1.4 42.3-1.3 2.9-1.2-32.9-1.1-7.9-1-27.6-0.9 23-0.8-25.6-0.7-13-1.2 53-0.5-0.1-0.3 45-0.3-33-0.2-76.9 0 112.9 0.1-16.8 0.3 84.5 0.3 72.1 0.4-133.3 0.5-52.1 0.6-16.4 0.7-38 0.8-6.2 0.9-19.2 1 58.3 1.1-20.7 1.1 104.8 1.3 6.8 1.3-4.3 1.4-11.8 1.5 14.4 1.6-66.3 1.6-37.4 1.7 8.7 1.8 82.5 1.9-18.1 6 0.4 2.2 2.6 2.2-171.3 42.4-4.2 3 0.1 3-7.7 3.1 14.3 3-19.4 69.7" marker-start="url(#k50)" marker-mid="url(#k50)" marker-end="url(#k50)"/>
<path d="M174.5 312.4l84.7-59.4-108.7-16.2 150.1-7.5 2.3-2.4-7.7-4.6 10-2.2-0.7-2.2 54-2.1-40.9-4-29.4-3.7-13.9-1.7-65.6-1.7-20-3-8.7-1.5 27.5-1.3-12.7-1.3 39.6-1.1 1.1-1.1-7.7-1 163.7-0.9-225.6-0.9 12.2-0.7-1.6-0.6 18-0.6-14.5-0.4-12-0.3 114.2-0.3 4.9-0.2-47.8 0 28.4 0.2 46.1 0.2 1.5 0.3 1.5 0.4 83.9 0.6-31.6 0.6 27.3 0.7-29.2 0.8 20.6 1.8-24.1 1.1 5.5 1.2-26.4 1.2 1.9 1.3 0.4 1.4-144.3 1.5 143.7 1.6 23.2 3.4-15.5 1.8-78.2 1.8-5.7 2-32.4 2 24.6 2.1 53.7 8.9-3.2 2.4-38.3 26.5-106.3 2.9-13.1 11.9 3.7 3.1-11.5 12.5 0.9 3.2 1.2 3.2-3.8 16.4 0.7 3.3 25.9 6.7-27.8 6.8 12.3 8.4 79.2-64.9 92.2-38.2-144.5-2.4 14.7-4.6 17-2.2-14.5-2.1 19.1-2.1-3.4-2 48.4-2 124.4-1.8-152.2-1.8-12.6-1.8 6.1-1.6-24.1-1.6 63.3-1.5 25.2-1.4 16.7-1.3 70.3-3.5-8.9-1 8.5-0.9-48.1-0.8 24.4-0.7 4.8-1.2-8.3-0.4 10.8-0.3-12.6-0.3-5.1-0.1 34.9-0.1 25 0.1-18.6 0.3 5.7 0.4-0.6 0.4-14.8 0.5 3 0.6-166 0.7-10.6 0.8-17.4 0.9 38.6 1 8.2 1.1-39.8 2.4 2.5 1.3 22 1.4 120.1 3.1 12.2 1.6-131.5 1.7 5.2 1.8-53.1 3.8 174.3 2-184.2 2.1 19.7 2.1 102.5 4.5-126 2.3 0.8 2.4 19.8 2.4 84.2 18.4-108.3 8.5 18.9 11.9-22.2 18.8 50.9 6.4-57.6 16.5-1 10.1-3.6 34.2 2.2-26.3 18.8-3.4 33.8-29.8 48-34.1 12.7-8.6 32.2-18.7 24.1-7.2-20-2.3 39.9-4.5-0.1-4.2-5.2-2-4.6-1.9 6.9-1.8-0.5-1.8-155.4-1.7-8.4-1.7 24.4-1.5 156.1-1.5 5.7-1.4 3.1-1.3-8.4-1.3 28.9-1.1-150-2.1-12.9-0.9 147.4-0.8 2.3-0.7 3.1-0.6 14.5-0.5 3-0.7-4.6-0.3 1.4-0.1 12.1-0.1-28.7 0.1 22.5 0.1-4.9 0.3-17.2 0.3 1.7 0.4-5.9 0.6 4.7 0.6-2.6 0.7 16.6 1.7-19 1-0.6 1 2.7 1.2-162.5 1.2 54.6 1.3-2.9 1.5-25.7 1.4 7.1 1.6 37.8 1.6-10.2 1.8-25.4 1.8 7.3 1.8 45.1 2-33.4 2 36.2 2-66.1 2.1 111.1 2.2-152.5 2.3 0.4 2.3 124.2 7.3-144.7 24.4-4.7 2.9-6.4 21.3-2 3.2-2.7 60-4.5 11 0.5-10.3 0.8-13.7 23-81.9-4.7-2.8 39.9-20.2 6-2.3 9.1-2.3 3-2.1 0.3-4.2 83.2-2-6.2-3.7 92-1.8-120.4-1.7 117.5-3.2-43.9-1.5-135.3-1.3-5-1.4-1.4-1.2 1.5-1.1 27.7-1.1-48.4-0.9 58.4-0.9-6.8-0.8 17-0.7-3.7-0.6 27.3-0.5 113-0.4-221.6-0.3 44.7-0.3 76.2-0.1-5.8 0-47.4 0-1.9 0.2 51.2 0.2-9.7 0.3-62.7 0.5 19.6 0.5-36 0.6 19.7 0.7-16.7 0.8 0.3 0.9 15.4 1-18.9 1.1 20.3 1.1 29.1 2.6 0 1.4-1.8 1.5 21.6 3.2 42.6 1.7-54 3.6 33.8 2-51.6 2-30.6 2 9.3 2.2 5 2.1-22.2 4.6-21.4 2.4 34.6 2.4-64.4 110.7-0.6 3.4" marker-start="url(#k51)" marker-mid="url(#k51)" marker-end="url(#k51)"/>
<path d="M140.4 353.8l28.7-37.3 5.3-3.3 5.9-3.3 4.7-3.2 5.6-6.5 47.2-22 30.6-23.2-78.9-18.2 18-11.4 59.6-4.1 29.4-2 7.4-1.9-65.7-3.6-27.9-1.7-18.6-1.6 43.1-1.5 19.9-1.5-24.9-1.4-23.2-1.3-17.7-1.2 3.1-2.1 6.5-1 72-0.9-49.9-0.7-39.4-0.7 7.4-0.6 22.9-0.5 10.3-0.4-24.4-0.4 38.9-0.2 26.4-0.1-15 0-15.1 0-3.8 0.2-17.1 0.2-39.8 0.4 63.5 0.4 86 1.2-19.1 0.7 7.3 1.7 126.7 1-218.4 1 16.8 1.2 79.5 1.2-64.9 1.3 61.4 2.9-26.9 1.6-0.1 1.6 17 1.7 5.4 1.8-17.6 1.9-10.2 1.9-26.2 2-3.7 2 27.4 2.2 6.9 2.1-112.7 19.5-24.5 53.5 26.7 13.1-31.9 26.8 3.4-30.1 1.1-6.5 49.4-61.5 115.5-9.6-114.4-8.7 137.9-2.1-102.6-1.9 20.4-1.9-31-1.8 2.7-1.8 12.9-1.7-28.8-3.1-27.1-1.4 153.9-1.4 5.7-1.3-3.3-1.2-48.1-1.1-93.6-2 40.6-0.8 34.9-0.8 8.7-0.7 15.4-0.6 13.4-0.4-32.2-0.5-26.1-0.3-9.6-0.2 66.9-0.1-76.5 0-29.4 0 69.5 0.2-28.2 0.6 108.9 0.5 17.8 0.5 22.6 0.6-67.9 0.7-4.3 1.7-49 1-13.4 1.1-46.9 1.1 40.1 1.3 12.2 1.3-20.9 1.4-5.5 1.5 9.5 1.5 29.4 1.7-25 1.7 34.9 1.7-41 7.8-41.6 2.2-18.6 4.4-15.7 9.5-7.3 2.5-8.4 10.5 4.5 2.8-3.8 2.8 7.9 2.8-11 2.9 7.4 2.9-1.4 2.9-6.5 3 0.8 6-5.2 3.1 0.5 3.1-0.5 3.1 4.2 3.1-0.5 3.2 0 3.2-4.3 3.2-1.8 3.3-0.4 3.2 2.7 3.3-2.2 3.3 1 3.3-1.8 16.8 28.1-17.3-13.7-47.1-3-2.9 0.3-2.8 15.2-2.9-10.2-8.2-6.2-2.7 2.6-2.6 115.6-2.6-74.8-7.4-4.9-2.4-13.5-2.3 6.5-2.3-21-2.2 35.5-2.1-28.6-2.1-6.1-2 7.4-1.9-2.6-1.9 12.9-1.8 101.1-1.8-72.5-1.6-3.1-1.6-13.4-1.5 160.3-1.5-186.8-1.3 6.1-2.5-17.6-1.1 55.9-1-22.2-0.9-27.7-0.9 66.2-0.7 20-0.7 5.3-1.1 31.6-0.4-48.8-0.5-37.4-0.1 38.2 0 12.7 0.1-55.6 0.1 0 0.3 199.7 0.3-169 0.5 3.1 1.1 4.4 0.8 18.3 0.8 6.7 0.9 11.5 0.9-3.5 1.1 18.5 3.7-1.4 1.4-26.6 1.5 30.5 1.5-10.5 1.7-41.3 1.7-50.6 1.8 32.7 1.8-20.3 1.9-13.7 4 0 2.2-7.5 2.1 9.9 2.3 5.6 2.3 132.2 4.7-159.8 29.6 72.5 8.9-95.3 82.1 48.1-57.9 30-24.8 6.4-3 36.9-39.6 18.4-8.6 2.1-2-4.1-3.8-14.5-1.8 70.5-3.4 6-1.6 7.9-1.5-26.3-2.7-6.3-1.3 13.5-1.2-41.8-1.1 23.5-1 11.4-0.9-6.5-0.9-0.3-0.7-24.8-0.7 58.5-0.5-5.7-0.5 22.7-0.4-13.1-0.3-66.3-0.3-73.1 0 136 0.1-188.6 0.1 174.4 0.3 14.3 0.8-14.5 0.5 8.6 0.7-5.8 0.7-151.2 0.8-10.8 0.9 23.6 1 131.3 1 2.1 1.2 0.3 1.2-2.2 2.7 24.3 3.1-144.3 1.6-1.7 3.5 50.5 1.8-9.8 1.9-55.2 8.3-6.6 2.2 104.2 2.3-103.5 2.4 39.1 34.8-21.7 15.1 3.1 3.1-37.2 22.5-0.4 3.3-27.4 9.9-3 17-1.2 10.2" marker-start="url(#k52)" marker-mid="url(#k52)" marker-end="url(#k52)"/>
<path d="M138.8 361.2l2.7-10.2-1.5-13.6 68.9-51.7-46-14.7 2.5-2.9 25.5-21.3-8.4-9.5 2.9-2.2 122.6-2.2-49.8-8.1 31.7-1.8-15.8-3.5 55.8-1.7 1.4-1.5-107.1-1.5 4.3-1.4-3.6-1.4 32.6-1.2 36.9-1.2 12.4-1.1-2.9-1 24-0.9 50.8-0.8-134.3-0.8-34.3-0.6 61.5-0.6 59-0.8-65.8-0.3 68.4-0.2 2.4-0.1-70.6 0-45.6 0.1 93 0.2-4.7 0.6-0.6 0.4-22.4 0.6-46.4 0.6 103.4 0.7-96.4 0.8-26.2 0.9 28.6 1 75.1 1.1-51.6 2.4-9.2 2.7-35.3 1.4 58.6 1.6-44.7 1.6-44.5 1.7-17 1.8 122.5 1.8 9.7 1.9-21.5 6.1-0.1 2.2-41.9 27.3-74.5 5.6 57.2 5.8-21.5 11.8-7.8 6.2-11.6 9.4-43.6 16.1-4.8 6.6 0.5 6.7 2.9 16.9-5.4 6.8-0.3 6.9 20.7-35.6 7.2-3.3 16.9-16.3 17.7-15.6 6.4-57.8 86.3-2-2-2 5.3-1.9 3-3.6 21.1-1.7 0.3-1.7 7.2-1.5 15.8-2.9 1.1-1.3 2.3-1.2 6.6-2.3-8.2-1 5.8-0.9-13.2-0.8 13.9-0.7-11.9-0.7 11.1-0.5-2.9-0.5-4.9-0.3 13.9-0.3-5.4-0.2-4.3-0.1 18.6 0.1-15.9 0.2-3.5 0.6-0.6 0.4-8.8 0.6 12.5 0.6-8.6 0.7 5.4 0.8-7.7 0.9 5.4 1-8.6 1.1 4.2 5.1-12 1.4 10.8 1.6-11.5 1.6-92.8 1.7 23.3 1.8 10 1.8-33.5 1.9 20.5 4 3.9 2.1-2.8 18.8-69.3 49.3-21 16.1-3.2 3.3-0.9 3.3 18.7-15 27.8-12.6 21.2-15.2-64.7-25.1-7.2-2.6 42-18.8 31.5-7.9 82.9-1.9-89.4-1.7 3.7-1.7 88.4-1.6 11.5-1.6 9.2-1.4-1.8-1.4-1.9-1.3 12-1.3-8.2-2.2-100.8-1.8-8.2-0.9 31.7-0.7 16.9-0.6 69.6-0.6 6.1-0.4-115.5-0.4 43-0.2 80.6-0.2-3.6-0.1-47.4 0 8.4 0.1 42.5 0.2-14.9 0.2-24.4 0.4-9.3 0.4 5.4 0.6 47.5 0.6-74.3 0.7-42.8 0.9 28.6 0.9 70.4 0.9-70 1.1-23.2 1.1-24 1.3 13 1.3 33.2 2.8-40 1.6-57.9 1.6 22.3 1.7 1.4 1.8-10 1.8-22.7 1.9 25.1 1.9-21.3 2.1 4 2.1 82.9 16.2-5 2.6-2.4 2.5-4.5 2.7-2.5 2.6-2.8 2.8-3.4 2.7-7.8 2.8-45.6 33-46.1 49.6 60.6-61 66.1-39.1 0.6-18.2-0.7-2 8.5-3.9-3.8-1.8 97.9-1.7-74.9-1.7-3.2-1.6 2.2-1.5-15.8-1.5 25.1-1.4 0.7-1.3-76.4-1.2 35-1.1-66.8-1.1 83.7-0.9-22-0.9 17.9-0.8 16.4-0.7-1.5-0.7 21.2-0.5-30.3-0.5-62-0.3 31.4-0.3 20.9-0.2-24.3 0-28.3 0 23.1 0.1-37 0.1 24.9 0.3 8.8 0.4-35.7 0.5 14.5 0.5 53.8 0.6-4.2 0.8-43.7 0.8 122.7 0.9-119.3 0.9-22.7 1.1-4.4 1.2 34.2 1.2 27.2 1.3-25.1 1.4 46.7 1.4-37.7 1.6 89.7 1.6-112.1 1.7-22 3.6-5.4 1.9-28 1.9-4.2 2 9.9 2.1-19.5 2.2 6.7 2.2-16.1 79.5-2.7 9.9 14 3.4-14.8 3.3-0.6 3.4-0.3 3.3 0.2 3.4-0.4 3.4-0.2 3.4-0.1 3.4" marker-start="url(#k53)" marker-mid="url(#k53)" marker-end="url(#k53)"/>
<path d="M139.8 355l30.6-39.8 105.2-81.1 1.3-1.9-10.6-1.9 40.5-1.8 6.4-3.4 15.8-1.6-7.3-1.5 1.2-1.4 6.9-1.4-2.2-1.3 21.5-1.2 2.3-1.1-8.6-1.1-2-0.9 6.7-0.9-0.4-0.8-28.5-0.7-33.1-0.6 77.1-0.6-94-0.4-40.2-0.4 38.6-0.2 73.2-0.2-2.2-0.1 4.1 0 1.1 0.1-9.5 0.2 11.1 0.3-11.8 0.4 7.2 0.4-5.5 0.6-1.9 0.6 3.5 0.8-2.2 0.8 2.5 0.9 6.5 0.9-10.7 1.1-11.6 1.1-2.1 1.3 8.5 1.3-3 1.4-9.7 1.4-1.1 1.6-13.2 3.3 8.2 1.7-5 1.8 1.7 1.9-12.9 2-8.3 2 15.9 2.1-98.6 49.2-39.1 34.5-2.7 3.3-4.1 6.6-4.3 6.7-3 3.3 9.8-9.8 74.3-50 20.7-27 90.4-20-94-1.9 15.4-1.9 5.6-1.8 3.8-1.7-2.7-1.7-15.3-1.6-17.2-1.5 1.3-1.4 104.3-1.4-45.7-1.2-0.7-1.2 7.7-1.2-0.9-1 1.8-0.9-42.9-0.9-37.7-0.8 14.4-0.7 1.1-0.6-37.2-0.5 24.3-0.5 68.3-0.3-7.4-0.3-27.8-0.1 10.4-0.1 18 0 8.3 0.1-12.4 0.2-22.7 0.3 3.6 0.4 34.5 0.4 11.4 0.6 1.3 0.6 26.3 0.7-9.6 0.9 11.1 0.8-32.1 1-18.9 1.1-36.7 1.1 42 1.3 1.3 1.3 19.4 1.3-4 1.5-96.7 1.5 28.8 1.6-20.2 1.7-18.8 1.8-27.1 1.8 22.8 1.9-5.5 1.9-31.3 2 12.3 2.1 115.1 6.6-121.8 19.9-16.1 19.7 14.8 34.2-27.1 9.8-1.8 16.7-1.4 13.5 0.9-13.7 0.5-3.4 0.8-6.6 5.7-26-2.4-3.1 100.8-72.9 22.4-1.8 4.6-1.8 10.5-3.4-22.7-1.5-28.8-1.5 11.2-1.5 32.5-1.3 14.2-1.3-39-1.2 29.7-1.1 16-1-101.7-1 3.6-0.8 47-0.8 15.6-0.7 73.6-0.6 7.4-0.5-4-0.4 3.4-0.4-4.9-0.2 1.4-0.2-13.6 0-70 0 27.6 0.1 38.3 0.2-0.8 0.3 38.7 0.3-1.7 0.5-8.1 0.6-10.5 0.6-1.4 0.7-10.4 0.8 12.5 0.9-2.5 1 9 1.1-17.1 1.1-9.6 1.2-3 2.7-3.6 1.5-19 1.5-62.2 1.6 38.1 1.7 38.1 1.7-96.6 1.8-12.9 1.9 75.3 6-4.5 4.4-40.2 30.3-9.9 2.8-55.3 42.7-2.7 3.3-16.4 23.2 11.8-13.8 41.5-88.2-0.5-4.2-17-4 18.4-5.5-1.2-1.7 59-3.2-1.5-1.5-15-1.4 17.2-1.4-3-1.2-5.6-1.2 14.4-1.1-19.5-1-0.7-1 35.4-0.8 0.4-0.8-23.5-0.7-13.3-0.6 7.6-0.5-43.5-0.4-25.6-0.3-15.6-0.3 64.7-0.1 8.1-0.1-25.1 0 24.8 0.1-11.4 0.2-3.5 0.3 26.4 0.4 96.3 0.5-153.5 0.5-6.2 0.7 37.6 0.7 154.7 0.8-59.2 0.9 3.8 1-9.5 1-55.6 1.2-15.9 1.2 73.3 1.3-6.4 1.4-4.2 1.4-114.5 1.6-20.4 1.6-4 1.6 108.2 3.6-1.3 1.8-2.1 2-83.8 2-4.8 2.1-0.4 6.5-22.2 2.3 127.4 4.8-46.6 18.1-86.9 5.6-4.8 23.7 2.5 3.1 17.2 12.7-22.5 3.2 0.8 3.2 13 6.6-4.1 3.3-12.2 3.3-0.5 3.3-0.7 6.7" marker-start="url(#k54)" marker-mid="url(#k54)" marker-end="url(#k54)"/>
<path d="M170.6 286l-6.5-8.5-5.6-2.7-5.4-5.3 20.7-2.6-2.5-2.6 95-24.8 0.5-1.9 7.1-1.8-19.3-1.8 15.5-1.6 11.7-3.2 5.8-1.5 2.3-1.4 6.9-1.3 2.7-1.3-4-1.2 4.7-1 1.6-1.1-24.7-0.9 13.2-0.8 17.8-0.8-27.4-0.7 21.2-0.5-36.5-0.5-14.6-0.5-49.8-0.3 57.6-0.2 13-0.2-31.9 0 33.4 0-5.8 0.1 86 0.2-9.4 0.3-75.6 0.4-12 0.4 29.4 0.6 14.6 0.6-4.6 0.8-26.8 0.8-21 0.9-22 0.9 32.3 1.1-0.1 1.1-20 1.3-42 1.3 20.4 1.3 115.3 1.5-149.1 1.5-3.8 3.3 8.8 1.7-8.9 1.8 2.4 1.9-7.8 27-6.6 52.4-23.4 6.5-0.5 3.2-1.3 3.2-1 3.3-0.7 3.3-0.1 6.7-0.2 3.3 1.9 3.4-1.4 3.3-1.3 3.4 0 3.4 0.4-1.1 45.9-55.2 14.5-14.9 3.3-2.9 42-13.8-11.7-2.6 4.5-2.6-77.9-12.3 102.4-6.8 8.2-2.1-37.3-14.8 13.2-1.5 32.1-1.5 30.5-1.4 0.5-1.3-3.5-1.2-1.9-1.2 9.5-1.1-2.4-1-3.1-0.9 9.6-0.8 8.2-0.8-81.6-0.7-5.8-0.5 28.4-0.5-3-0.4 0.3-0.4-16.9-0.2 10-0.1 21.8-0.1-67.1 0 40.9 0.1 14.6 0.3-40.4 0.2 5.5 0.4 34.4 0.5 17.1 0.5-29.3 0.7-25.5 0.7 43.6 0.8-5.2 0.9-8.1 1-12.9 1-10 1.2 13 1.2-33.8 1.3 92.4 1.4-109.6 1.4-26.4 1.5 80.6 5-75 73.6-8.9 6.2-7.1 6.4-18.6 24.9 11.8-16.5 10.3-12.8 17.9-12.4 20.1-17.7 11.4-8.4 6.3-2.7-53.8-7.9 101.8-27.1 3.6-1.9-100.7-1.8 36.5-1.7 82.6-3.3-54.9-1.5-6.9-1.5 33.9-1.4-17.4-1.3-26.5-1.2 59.5-1.2-29.9-1 40.5-1 28.4-0.9-43.5-0.9 27.7-0.7 76.3-0.7-105.8-0.5-10.1-0.5 16.3-0.4-66.2-0.4 41.8-0.2-17.1-0.1-53.2-0.1 19.9 0.1 76.7 0.1-15.9 0.2-12.7 0.3 32.9 0.4-31.8 0.4-20.8 0.6 59.8 0.6-12 0.8 6.4 0.8-16.3 0.9 15.8 0.9 0 1.1-21.6 1.1-28.1 1.2-42.3 1.3 47.8 1.4-17.1 1.4-38.7 1.6 16 1.5-8.1 1.7-27.7 1.7 11.3 1.8-17.7 1.9 12.8 1.9 7.4 2 15.3 2-37.3 4.3-2.3 4.5 2.8 12.2-3.2 2.6 2.6 2.6-5.2 2.7 3.1 2.7-4.2 5.5-4.5 5.7 4.5 2.9-3.6 5.9 32.3 9.1-37.2 3.1-0.4 37.2 11.7-16.4-6.3-31.2 69.1-8.8 7.6-16.6 6.8-5.2 21.1-16.7 5.6-2.2 1-2.1 6.3-2 8.7-2 1.2-1.9 6-1.9-1.5-1.8 9.8-1.7-0.4-3.3 8.8-1.5-1.1-1.5 1.6-1.3-3.7-1.3 2.3-1.3 2-1.1 3.6-1.1 7.5-1-5.2-0.9 11.4-0.8-1.1-0.7 2.8-0.7-7.3-0.6-6.2-0.4 13.7-0.4 0.6-0.3-77.6-0.3 90.5-0.1-8.5-0.1-1.5 0.1 5.4 0.1-13.9 0.2 59.6 0.3-59.6 0.4 6.8 0.5-12.4 0.5 1.1 0.7 23.6 0.7-14.5 0.8 9.8 0.9-24.6 1-0.4 1-5.2 1.1 0.2 1.3-7.3 1.2-3.3 2.8-12.9 1.6 26.5 3.2-20 1.7-10.3 1.8-2.3 1.9-4 1.9-7.7 6.1-9.1 11.4-18.1 10-3.5 2.6-5.7 2.7 10.5 2.7-52.4 29.1-4.8 3-27.9 32.1-2.6 3.4" marker-start="url(#k55)" marker-mid="url(#k55)" marker-end="url(#k55)"/>
<path d="M142.1 336.6l54.1-85.8 67-16-32.9-1.5 2.9-1.3-4.7-1.3 6.4-1.2-9.4-1.2 4.3-1-5.5-1-33.4-0.9 1.5-0.8 0.6-0.8-6.3-0.6-4.2-0.6 9.9-0.4-1-0.4 11.3-0.3-11.5-0.3-0.3-0.1 120.2 0-0.4 0 33.9 0.1-176.6 0.2 27.1 0.3-7.4 0.4 0.7 0.5 23 0.5 15.2 0.7 2 0.7 3.1 0.8-12.6 0.9 10.3 1-30.4 1 40.3 1.2-19.5 1.2 7.2 1.3 59 1.3-64 1.4-3.8 3.1 14.5 1.7-38.7 3.5 81.9 1.8-95.3 2-19.3 1.9 102.5 2.1-110.7 2.1 8 4.3 4 4.6 1.9 2.4 9.1 4.9-18.2 2.5-9.4 2.6 2.5 2.6 3.5 2.7-0.6 2.7-5.7 2.7 51.2 2.8-0.6 8.5-46.3 40.3 0.6 3.2-0.8-47.8 3.3-2.9-9.8-2.7 7-2.8 45.8-42.5 10-1.7 21-1.5-42.6-1.5 152.2-1.5-170-1.3 36.2-1.3-22.8-1.2 39.1-1.2-1.6-1 37.9-1-20.8-0.9 28.3-0.8-47.1-0.7 97.2-0.6-3.8-0.6-1.9-0.5-1.3-0.4 5.8-0.3 1.9-0.2-120.1-0.1 2.7 0 22.1 0-6.7 0.1 26.6 0.2 8.4 0.3 4.3 0.4-20.5 0.5-0.9 0.6-10 0.6-19.6 0.7 41.6 0.8 17.9 0.9-14.1 1 22.6 1 8.4 1.2-0.5 1.2 1.5 1.2-3.2 1.4 20 1.4-3.4 1.5-8.4 1.6-9.4 1.7-1.9 1.7-63 1.8-12.7 1.8-1 1.9-30.6 8.3 1.8 2.2-8.1 4.5 6.1 20.3-22 64.1-2.9 3.3-2.5 11 4.1-32.8 0.7-9.4 128.9-68.2-59.9-9.2-32.1-6.1-4.2-1.3-0.5-1.3 135.6-1.2-156.9-1.1 27.5-1.1 44.2-0.9-10.7-0.9-46.9-0.8-2.8-0.7 16-0.7 19.5-0.5-16.2-0.5 15.6-0.4-24.7-0.3-17.4-0.2 55.7-0.1 0.1-0.1-40.5 0.1 51.8 0.1-52.7 0.2-2.2 0.3 49.8 0.4 124.2 0.5-115.8 0.6-4.4 0.6 14.4 0.7 18.5 0.8-19.1 0.9 35.5 1 33.3 1-38.4 1.1-0.2 1.2-9 1.3 1.2 1.4-12.1 1.4-8.8 1.5-5.8 1.6-26 1.6 4.4 1.7-40.3 20.5 16.5 37.2-2.5 3-4.8 2.9-13.9 9.1-24 12.6-2.6 3.2-0.6 10.5-0.5-3.3 2-3.2-0.4-3.2 15.6-3.2-11.1-12.5-0.6-3 23.9-51.2-1.6-2.3 88-22.2-3.3-1.4 23.8-1.4 1.3-1.2 2.6-1.2 1.3-1.1-4.4-1.1 30-0.9-20.6-0.9-0.1-0.8-8-0.7 0.7-0.6 8.8-0.6-3.1-0.4-7.1-0.4-11.2-0.3-21.2-0.2 19-0.1 61.4-0.1-52.4 0.1 62.6 0.1-51.1 0.2 5.3 0.3-0.6 0.4-18.2 0.5 5 0.5-10.8 0.7-5.6 0.7 40.7 0.8-28.9 0.9-9.9 1-59.1 1 54.8 1.1-13.9 1.2-51.2 2.6 5.9 1.5-32.1 1.5-7.2 1.5 22.8 1.7-15.1 34.4-10.2 10.6 43.4 5.6-53.9 20.6-2.7 6.1 12.5 9.4" marker-start="url(#k56)" marker-mid="url(#k56)" marker-end="url(#k56)"/>
<path d="M141.7 350.5l9.7-13 14.8-18.8 2.2-3 5.1-3.1 3.9-2.9 4.2-3-28.9-14.3 1.5-2.7-0.1-2.7 11.5-5.3-13.4-2.6 10-2.5-2.7-2.5 2.6-2.5 8.9-4.7-11.2-4.5 2.7-2.2 8.5-2.1 0.2-4.1 17.8-5.6-8.9-3.5 5.8-1.6-13.6-1.6-11.2-1.4 13.6-1.4-2.9-1.4 45.9-1.2-38.1-1.2 12.5-1.1 135.4-1.1-111.5-0.9-35-0.9 60.6-0.8-23-0.7-8.9-0.6 4.6-0.5-36-0.5 41.6-0.4 2.3-0.3-32.1-0.2-18.4-0.1 20.1 0 45.8 0-41.2 0.2-6.1 0.2 100.9 0.3 6.3 0.4-89.6 0.4-0.7 0.6-40.7 0.6 14.5 0.8 12.5 0.8 0 0.9 8.9 0.9 44.4 1.1 4.1 1.1-4.7 1.2-53.8 1.2-21.8 4.3 34.1 3.2 59.9 3.5-95.5 7.7-27.7 81.7-1.5 3.3 0.9 3.2-0.6 3.3-1.2 3.3-0.1 3.3 0 6.6 2.2-9.5 17.7-25.6 9.4-9.2-17.8-20.5 2-2.7-2.2-2.8-1.6-5.3 0.6-2.6 9.3-2.6 11.1-5 84.8-13.8 14-4.2-96.2-5.8 11.9-1.8 1-1.8-10.2-3.3 1.2-1.5 36.7-1.5 100.9-1.4-101.1-1.3-1.3-1.3-0.6-1.1 17.1-1.1 25-1.1-5.6-0.9 64.3-0.9-4.6-0.7-8.8-0.7-4-0.7 1.5-0.5-58.2-0.5-46.1-0.3 49.5-0.3-23.4-0.2 27.1-0.1-27.2-0.1 1.7 0.1 33.7 0.1 14 0.2-16.1 0.3 32.7 0.4 0.4 0.5-3.2 0.6-22 0.6 22.4 0.7-44.2 0.8 7.4 0.9-11 1 3.2 1-15.7 1.1 17.8 1.2 0.9 1.3 19.9 18.5-98.3 18.1-1.8 2.5 0.5 2.6 4.6 2.5-7.6 2.7-6.1 5.4 3.1 2.7 21.9 17.3-3.9 2.9-27 31.4-5.4 13.4 3.2-9.9 9.4-12.8 2-3.2-9.7-6.3 18.3-6.1 7.3-6.1 44.5-25.5-57-5.3 114.8-38-8.1-1.6 0.8-1.4 2.1-1.4 8.9-1.3 6.6-1.3-77.2-1.2-31.7-1 59.4-1.1-14.3-0.9-8.6-0.9 14.2-0.7-8-0.7-9.8-0.6 7.4-0.6 37-0.4-41.8-0.4 10.4-0.3-12.3-0.2-2-0.1 27.7 0-61.8 0 18.8 0.2 97.6 0.2 9.7 0.3-11.3 0.4-53.4 0.5-15.5 0.5-1.9 0.6-17.6 0.8 39.8 0.8 3.8 0.8-12.7 1 12.4 1 39.1 2.3-12.3 1.3-6.4 2.8 2.2 1.4-4 1.6-76.5 3.3 1.5 54.2-2.5 2.9-3 2.9-10 9-25.2 28.3-4.4 13.2 0.5-3.3 0.6-3.3 1.7-3.2 1.7-3.3 2.9-3.2 127.6-99.6-49.6-1.4-10.3-1.3 20.5-1.2-18.9-1.2 44.9-1.1 31.9-1-1.3-0.9-68.2-0.9-29.7-0.7 5-0.7-28-0.6 1.3-0.6 14.5-0.4 65-0.4-9-0.3 9.5-0.2 10.6-0.1-4 0 2.2 0.1 20.6 0.1-0.7 0.2-22.6 0.3 10 0.4-21.8 0.5-18.5 0.5-3.2 0.7 33.1 0.7-15.2 0.8-14.7 0.9-43.6 0.9 17.8 1.1 12.1 1.1 8.3 1.2 9.2 1.2-34.2 1.3-13 1.5-7.5 1.4-13.3 1.6 13.7 1.6-4.3 1.7-6.5 9.4-14.1 6.3 3.5 2.2 80 2.3-89.6 2.3 7.2 2.4 0.4 2.5 6.6 2.4-8.3 2.6 17.6 2.5-9.4 2.6-5.6 5.4 51.7 2.7-56.4 5.6 42.9 5.7-48.6 11.9-2.6 3 0.6 6.2-0.4 3.1-1.2 3.2-1.4 16-0.2 6.6" marker-start="url(#k57)" marker-mid="url(#k57)" marker-end="url(#k57)"/>
<path d="M149.7 341.7l6.6-12.5 1.8-3.1 2.9-3.1 15.4-11.9-15-14.1 61.5-56.4 25.5-1.1-2-1 64.9-0.9-112-0.9 0.7-0.8 17.4-0.6 12.1-0.6 2.6-0.6-18.1-0.4 14.6-0.4-7.7-0.3-48.4-0.1 43.3-0.2-1.9 0 11.3 0.1-10.5 0.1-8.7 0.2 30.1 0.3 90.9 0.4-85.2 0.5 16.3 0.6 10.4 0.6-51.3 0.7 7.9 0.8 7.7 0.9-26.6 0.9-15 1.1 28.1 1.1-11.4 1.1 62.5 1.3-6.1 1.3-9.2 4.5-12.7 12.6-66.8 56.3-33.7 21.6-3 22.7 3.4-13.2 48.2-48.3 43.4-40.5 22.5-10.5 4.3-1.5-49.1-2.8-19.1-1.3-9.4-1.2 80.4-1.2-0.6-1.1-60.4-1 76.8-0.9 1.2-0.8-2.9-0.8-1.7-0.7 3.2-0.6 4.3-0.5 0.1-0.4-4.7-0.4 5.4-0.3-0.8-0.2 6.3-0.1 14.7 0-4.9 0.1-16 0.1-0.3 0.2 4.3 0.3 3.3 0.4-10 0.5 6.9 0.6-5.9 0.6 2.2 0.7-2.4 0.8-81.7 0.9 44.2 0.9-29.1 1 60.1 1.1 13.1 1.2-17.8 1.3-12.7 1.3 0.2 2.9-4.5 8.3-5 1.9-2.4 1.9-4.8 2-20.2 13.1-12.8 7.3-6.4 15.7-18.6 5.6-12.5 8.6-11.5 11.9-4.5 6.1-1.6 3.1-14 25.7-0.2-0.2 15.2-28.7 12.3-6.1 7.1-46.3 61.2-21 3.5-1.8 14.4-10.5-1.6-1.2-15.1-1.1-19.9-1.1 3.3-1.9 34.2-0.9-2-0.7 28.4-0.7-5.4-0.6 6.1-0.5 12.8-0.5 0.1-0.3 3.3-0.3-4.3-0.2-2-0.1-1.7 0-6.3 0.1-1.5 0.1 4.4 0.2 39.2 0.3-35.9 0.4 0 0.5-62.9 0.5-41.3 0.7 0.8 0.7-4 0.8-7.3 0.8-4.4 1-5.1 1 10.3 1.1 4.8 1.2 2.5 1.2 4.2 1.4-12.9 1.3-8.3 3 18.5 1.6-2.5 3.4-18.4 3.7 9.1 1.9-0.8 2-2 2 6.5 4.3-25.6 2.2 8 2.3-0.9 2.3-5.1 2.3 1.1 2.4 0.5 2.5-2.5 2.5 4.3 2.6 3 2.6-3.2 2.6-5.6 2.7-1.1 2.7 3.1 2.7-6.8 2.8 2.5 2.9 0.2 2.8 0.5 2.9-3.4 11.9-0.6 6.2-3.3 12.5 13.5-12.8 3.6-6 3.6-3 2.4-3 3.1-3 3-2.9 5.5-2.8 3.6-2.9 36.6-28.6 4.2-2.4 3.4-2.3 4.6-2.2 6.8-6.4 10.7-3.9-71.3-7.2 9.5-1.6 10.3-1.6 2.8-1.5-1.3-1.4 0.6-1.4 52-3.6 8.3-2.1-11.8-0.9-30-0.8 32.2-0.8 55.1-0.6-60-0.6-29.2-0.6-7.7-0.4 2.7-0.3-8.7-0.3 2.3-0.2 9.9-0.1-6.7 0 38.8 0-16.5 0.2-3 0.2-15.2 0.3 29.3 0.4 38.5 0.5 1.2 0.5 3.9 0.6-34.2 0.7-31.6 0.8 19.2 0.9-51.3 0.9 6.5 1.1 51.6 1.1-67.9 5.1 85.2 3-84.1 1.6 22.2 17.2-31.9 46.6-13.6 18.2-1.9 3.1-2.5 3.2-2.7 3.1-1.9 3.2-3.1 9.7" marker-start="url(#k58)" marker-mid="url(#k58)" marker-end="url(#k58)"/>
<path d="M138.9 362l3.2-22.4 7.5-21.2 8.6-14.1 51.1-8.1-13.2-17.3 4.4-4.5 38.3-8.3-3.9-5.7-66.4-5.1 16.6-3-8.3-1.4-11.6-1.4 0.4-1.3 21.2-1.2-30-1.1 14.3-1.1 19.8-0.9 14.7-1 48.5-0.8 6.8-0.7-27.6-0.7 6.1-0.6 19.7-0.5 8.1-0.4 1.3-0.4-12.7-0.3-8.2-0.1 11.6-0.2-15.7 0-24.6 0.1-12.1 0.1-6.5 0.2-1.8 0.4 31.6 0.3-42.5 0.5 3 0.6 7.5 0.6-8.3 0.7 9.2 0.8-21.7 0.8 9.9 1-4.5 1 0 1.1 7.7 1.2 78.1 1.2-93.5 1.3-4.9 1.4-9.1 1.4 7.2 1.6 76.7 4.9 1.2 1.8-3.5 3.8-2.1 1.9-4.9 2.1-5.5 2.1 2.3 2.1-4.5 2.2-8.6 2.2-5.3 2.3-18.8 17.5-56.4 191.3 1.7-135.4 0-6.4 28.1-24.5 13.8-17 2.8-2.8 22.6-15.4-46.5-13.8 2.9-2.1 11.4-2 2.2-2 60.9-7.4 3.9-4.8 0.4-1.5 11.6-2.8 2.5-1.3-36.6-2.3 21.9-1.1-39.2-1.8 27.2-0.9-4-0.7 10.6-0.7-14.8-0.6 41.8-0.5-20.8-0.4 5.3-0.4-12.5-0.2 11.8-0.2 15.3-0.1-1 0-4.3 0-4.5 0.2 75.4 0.2-72.5 0.3-21.6 0.4-8.4 0.4-5.7 0.6-27.1 0.6-8.6 0.7 17.5 0.8 27.1 0.9-32.4 0.9-7.3 1-2.1 1.1 29.2 2.4 2 1.3-22.3 2.8 31.4 14-60.3 35.7-5 2.7-13.8 2.8-1.7 2.8 1.2 5.7-1.8 2.9-3.8 9 0.3 3-0.9 3.1-1.6 3.1 0.2 3.1-1.4 9.5 59.5-70.3 64.5-21.8-62.3-7.4-18-2.5 38.5-2.2-14.2-0.9-0.9-0.9 32.8-0.9-5.6-0.7-9.1-0.7-25.8-0.6 8.8-0.5 6.9-0.4 4.9-0.3-2.6-0.3 66.5-0.2-53.8-0.1-1.8 0-52 0 8.5 0.2 50.7 0.2 54.8 0.3-67.8 0.4 1.8 0.5-0.5 0.5-51.4 0.6 1.7 0.7 0.5 0.8-4.3 0.9-9 0.9 2.5 1 13.2 1.1 12.2 1.1 1.5 1.3 7.3 1.3-19 1.4 7.1 2.9 6.6 14.4-2.9 2.1 43 2.1-45.2 4.4 24.9 2.3-39.4 4.7-15.9 12.7 2.7 5.3 4.9 2.7-25.2 54.6 9.4-40.7 10.5-14 28.9-5.4-23.9-2.6 39.4-19.4-17.4-4.4-10.1-6.1-16.2-1.9 20.3-1.9-10.3-1.8-0.2-1.7-13.8-1.7 16.4-1.6 5-1.5-5.1-1.5 30.8-1.4-12.4-2.6 1.8-1.2-17.6-1.1-12.5-1.1 39.3-1 0.9-0.9-26.1-0.8 52-0.7-47.6-0.7 54.8-0.6 23.1-0.5-5-0.4-1.7-0.3-5.1-0.3-16.3-0.2 15.1-0.1 15.7 0-8.1 0-8.7 0.2 13.5 0.2 25 0.3-28.9 0.4 2.6 0.5-2.5 0.5-22.2 0.6 14.5 0.7-16.6 0.8-26.8 0.8-0.9 1 2.8 1-17.3 1.1-24.8 1.1 39.7 1.2-11.5 1.3-13 1.4 9.6 13.4-3.2 1.9-22.4 20 29.3 10.2-52.2 102.6" marker-start="url(#k59)" marker-mid="url(#k59)" marker-end="url(#k59)"/>
<path d="M138.9 569.3l-0.1-125.4 30.2-140.6-7-2.6-10.9-2.6 8.3-2.5 19-7.4-5.9-4.6 1.9-2.3-5-4.3 19.9-2.1-13.8-2-13.4-2 23.1-1.9-11.3-7.1 20.3-6-25.8-1.3 14.1-1.3 5.6-2.3 25.8-2-3.7-0.9-5.8-0.8-1.9-0.7 13.7-0.7-3.8-0.6 5.3-0.5 25.3-0.4-38.9-0.4-22.3-0.2 33.7-0.2 7.2-0.1 0.8 0-7.1 0 27.5 0.2 6.4 0.2-30 0.3-46.4 0.4 25.4 0.4 42.1 0.6-9.6 0.6-31.2 0.7 3.2 0.8 0.1 0.8 20.3 0.9 6 1-2.4 1.1-48.9 6.5-3.7 6.4-12.2 1.7 57.3 9.7-9.8 6.5-7.5 4.6-1.1 2.4-4.9 2.4 0.7 5-35.4 2.6 7.2 2.6 6.1 8-28.8 5.5 4.8 2.9-3.2 5.7 8 5.9-15.4 9.1 7.9 3-8.9 6.3-0.9 3.1 0.1 3.2-0.3 6.4-0.1 154.4 0-77.4 0-27.6 0.5-56.3 3.8-6.3 2.7-3.1 4.5-6.1 1.8-3 2.4-3 2.3-3 0.7-2.9 4.1-2.9 4.8-5.8 4.8-2.8 3-2.7 3.2-2.8 2.4-2.7 6.5-2.6 1.2-2.6 5.9-2.6-0.2-2.5-7.9-4.9 11.6-11.5 7-2.1 47.3-9.9-6.5-8.3-40.7-4.2 29.3-1.2-20.6-1.2 27.2-3.1 2-0.9 21-0.8-21.8-0.8-1.4-0.6 23.2-0.6-16.4-0.5-10.4-0.4-19.1-0.4 20.1-0.2 29.1-0.2-2.1-0.1-49.2-0.1-6.8 0.1 6.2 0.1 3.9 0.3-2.3 0.3-5.1 0.3 22.1 0.5 27.9 0.5 10.3 0.6-10.9 0.7-2.5 0.8-0.5 0.9-28.1 21.2-2.5 3.9-8.1 2.1-0.7 2.1-16.2 6.6-1.4 2.3-2 4.8-1 2.5-3.6 2.5-4.4 2.5-3.6 2.6-3.8 2.7-2 2.6-2.7 2.7-5.4 2.8-3.2 2.8-4 2.8-3.1 2.9-8.4 11.7-6.5 9.1-7.3 15.7-0.4 49.9 0 34.5 0.1 57.9 0 6.5-0.1 27.4 0.1-18.5 0-74-0.1-3.5 0-3.4 0.1-20.7-0.1-3.4 0-6.8 0.4-49.5 13.3-33.2 1.7-2.8 6.6-26.2 1.6-2.4 51.4-2.3-41.1-4.6-4.6-2.2 35.6-4.2-2-2 30.5-19.4-45.1-2.3 32-2-19.7-0.9 12.1-0.8-42.1-0.7-6.1-0.7 7.5-0.6 0.2-0.5-12-0.4 10.6-0.3-4-0.3 5.3-0.2 39.3-0.1 15.9 0 48.5 0.1-53.5 0.1 14.2 0.2-9.5 0.3 3.7 0.4-19.4 0.4 5.6 0.6-25.7 0.6 33.6 0.7-12.4 0.7 8.1 0.9-10 0.9 0.9 1-7.8 1.1-0.4 2.3-11 10.4-12.4 1.8-18.9 1.8 4 1.8-2 2-8.9 2 12.6 2 2.3 2.1-4.9 2.2 15.1 2.2-11.1 2.2-3.2 2.3 1.2 2.4-2 4.8-9 2.5 4 2.6-8.1 2.6 2.7 2.6 1.3 2.7-4.8 2.7-4.5 5.5-1.6 2.8 6 2.9-4.8 2.8-2.8 3 1.3 2.9-0.6 6 0.4 3-1.2 3.1-1.3 6.2-0.9 12.7-0.1 3.2 0.1 77.9 0 3.4-0.1 20.7 0.1 6.9-0.1 20.2 0.1 6.7-0.1 40.5 0 27.7 0-49.5 0.1-9.6 0-3.3 0-6.5 0-3.3-0.1-3.4 0-3.3 0-3.4 0-13.6 0.1-30.9-0.1-17.3 0.3-66.7 4.3-12.6 5-3 4.6-12 6.4-3-6.4-8.5-3.8-11-3.9-2.6 6.4-2.6 8.4-2.6-5.5-2.5 4-2.5 4.3-2.4 14.5-7 4.2-2.2-6.2-2.2-19.3-2.1-5.7-2.1 25.5-2 56.5-3.9-63.6-1.8 10.2-1.8 11-1.7 48.8-8.9 0.1-1.3-29.4-4.3-21.2-0.9-4.5-0.8 24-0.7 26.7-0.7 13-0.5-1.7-0.5-5.8-0.5 17.8-0.3 4.3-0.3 8.7-0.1-7.7-0.1 10-0.1-15.5 0.1-27.8 0.1-20.8 0.2 31 0.3-41.4 0.4 41.3 0.5-12.5 0.5 6.6 0.6-0.5 0.7 5.6 0.7-8.1 0.9 4.3 0.9-17.2 1-5.9 1 22 3.7-2.3 2.7-2.1 1.5-1.6 1.6-24.4 8.7 0.7 5.9-1.5 2.1-12.2 4.3 18.5 2.3-49.7 2.3 3.1 2.3-10 12.5 13.7 2.6 4.5 5.4-3 2.7-3.3 2.8-2.3 2.8-1.6 2.8-7.4 11.7-12 15.3-1.2 3.1-1 6.4-0.2 19.5-0.1 10 0 10.1" marker-start="url(#k60)" marker-mid="url(#k60)" marker-end="url(#k60)"/>
<path d="M138.9 444.8l-0.1 20.7 0 3.5 0.1 33.8-0.1 3.3 0 25.4 0.1 23-0.1 14.5 0-9.8 0-22.3 0.1-6-0.1-19 0.1-3.2-0.1-3.3 0.1-3.3-0.1-13.3 0.1-23.9-0.1-3.4 0.1-3.5-0.1-17.2 0.1-3.5 0-3.4 0-6.9-0.1-17.1 0.1-6.8-0.1-16.8 0.1-6.6-0.1-16.3 0.1-3.1 0.4-6.3 0.3-3.2 0.2-3.1 5.8-3 2.7-3.1 2.5-3-6-3 15.6-14.4 5.3-10.9 3.4-2.7 1.5-17.2 9-2.3 1.9-2.2 4.7-2.2-9.9-2.1 8.1-2.1 24.9-2-5.7-1.9-6.3-7.3-7.9-1.6-8-1.6-23.8-1.5 14.4-1.5 4.5-3.9 69.3-3.3 8.6-2.7 2.4-0.7-3.7-1.2-3.3-0.5-44.1-0.4 1.1-0.4 41.5-0.2 2.1-0.2 0.2-0.1 1.1-0.1 0.1 0.1-5.8 0.1-77.8 0.2 1 0.3 0.6 0.4 29 0.5 23.6 0.5-36.6 0.6-27.7 0.7-4.2 0.7 8.8 0.9 20.2 0.9-6.7 1 12.1 1-4.3 1.1 57.2 3.9-68.2 1.4 21.2 3 11.6 1.6-20.8 1.7-18 1.7 3.4 1.8 7.1 1.9-9 1.9 7.1 2-14.3 2 4.4 2.1-6.5 2.1 6.3 2.2-0.6 2.2 2.4 4.7-14.3 2.4 11.6 2.4-14.1 2.5-1.1 2.5-0.2 2.6 5.3 2.6-4 2.7 2.8 5.4-2.3 8.4-5.7 8.7 5.7 3-2.1 3 0.8 3-5.1 3-2 3.1-1.8 3.1-1.8 3.1-0.2 32.5 0 6.7 0 16.9 0 3.4 0.1 20.7 0 6.9-0.1 3.4 0 13.9 0.1 6.8 0 6.9 0 23.8-0.1 9.9 0.1 13 0 18.5-0.1 3 0 5.8 0.1 22.9-0.1-9.8 0-5.3 0.1-8.3-0.1-2.9 0-2.9 0-3 0-21.8 0-9.7 0-3.3 0-20.2 0-3.4 0.1-6.8-0.1-10.3 0-10.4 0-6.9 0-3.4 0.1-3.5-0.1-6.9 0-3.4 0.1-17.1-0.1-3.4 0-3.4 0-3.4 0-10 0.1-3.4 0.3-29.1 0.8-3.2 2.1-6.2 11.2-26.5-0.5-2.8-2.7-8.1 1.5-2.6-1.2-2.6 6.6-2.5-4.5-2.6 1.1-2.4 6.8-2.4 6.4-2.4 4.7-4.6-5.8-2.2-1.2-2.2 26.6-2.1 9.9-2.1 7.1-2 13.6-9.1-3.1-1.6 7.7-1.6-63-4.4 4.9-1.3 12.7-2.4 7.5-2.1 44-1.9-2-0.8-15.9-0.7 20.1-0.6 1.6-0.6-1.6-0.5 5.5-0.4 5-0.4-22.1-0.2 15.6-0.2-2.2-0.1-10.9-0.1 18.3 0.1 3.6 0.1-3 0.2 1.4 0.3-10.7 0.4-1.6 0.4-16.7 0.6 1.4 0.6-11.1 0.6 2.3 0.8-29 0.8 7.9 0.9-4.6 3.2 3.9 5.2 12.5 1.5 34.7 1.5-3.1 1.6-3.6 1.7-27.8 1.7 14.8 7.5-3.1 2-26.2 2.1 6.1 2.1-4.1 2.2 4 2.3-1.2 2.3-20.1 19.9-2.9 2.7-4.6 5.5-2.3 2.8-2.4 2.8-19.1 33.2-0.3 6.3 0 9.7-0.1 9.9 0.1 10-0.1 10.1 0.1 6.8-0.1 3.4 0 24.1 0.1 3.5-0.1 3.4 0 13.9 0 6.9 0 6.8 0 3.5 0.1 6.8-0.1 10.1 0.1 3.4-0.1 16.5 0 6.4 0 12.6 0 3 0 14.7 0 8.1 0 20.6 0-6.3 0-2.2 0-2.4 0.1-10-0.1-5.5 0-11.4 0.1-6-0.1-6.1 0-6.3 0.1-3.2 0-3.2 0-3.2-0.1-3.3 0.1-3.3-0.1-3.3 0-3.3 0-6.7 0.1-3.4 0-3.3 0-10.3-0.1-3.4 0.1-10.3-0.1-3.4 0.1-3.5-0.1-3.4 0-3.5 0-3.4 0.1-3.5-0.1-6.9 0.1-3.4-0.1-3.5 0-3.4 0-6.9 0.1-3.4-0.1-6.8 0.1-10.1-0.1-13.3 0-3.3 0.1-3.3-0.1-3.3 0.1-3.2-0.1-3.2 0.1-3.2-0.1-3.2 0.2-6.3 0.3-3.1 0.6-3.1 1.5-6.1 11.8-20.3 18.2-8.3-17.1-2.6 12-2.7-2.4-2.5 4.6-2.6 18.2-14.3 4.8-2.2-2.5-2.2 5-2.1-5.2-2 12-2-9.5-2 19.8-1.9-0.1-1.8-3.9-1.8-28.8-1.7 22-1.6 26.8-4.5 20.3-1.4-17.5-1.3 2.3-1.3 1.1-1.1-1.7-1.1-36.4-2.9-21.5-0.8-9.9-0.7 9.9-0.7 3.1-0.5-17.2-0.5 3.4-0.5-6.2-0.3 4-0.3-0.3-0.2 90-0.1-1.3 0 1.6 0.1-36.8 0.1 16.5 0.2 2.4 0.3 6.3 0.4-4 0.4 2.3 0.5-11.5 0.6-29.1 0.7 18.6 0.7-4.8 0.9 36.3 1.8-8.1 2.2-46.9 3.8 24.9 4.4-11 1.6-24.8 1.6-6.2 1.8-4.7 1.7-7.4 1.9-2.7 1.9 13.4 1.9 1.6 2.1-14.1 2 0.4 2.2 32.2 4.4-36.1 2.3 44.9 2.3-32.6 2.4 0.8 2.4 0.5 2.5-15.9 2.5 15.8 2.5-5.9 2.6-15.6 2.7 1.7 2.6 5.4 2.8-11.8 17-1.8 3-2.3 2.9-0.2 3.1-1.7 18.6 0 3.2 0 3.2 0.1 6.4-0.1 16.5 0.1 3.4 0 3.3 0 3.4 0 10.2 0 3.4-0.1 3.4 0.1 3.5 0 3.4 0 6.9-0.1 3.4 0.1 3.5-0.1 6.9 0 3.5 0 6.9 0 10.3 0 20.6 0.1 6.7-0.1 6.7 0.1 13.2-0.1 3.3 0 12.7 0 3 0 3.1 0 6 0 2.9 0.1 26.4-0.1 2.2 0.1 6.3-0.1-16 0-10.6 0.1-2.8-0.1-2.9 0.1-2.9 0-2.9-0.1-3 0.1-3-0.1-3.1 0-3.1 0-3.1 0.1-3.1-0.1-6.4 0.1-6.6-0.1-6.5 0.1-6.7-0.1-3.4 0.1-3.3 0-3.4-0.1-3.4 0-3.4 0-3.4 0-3.5 0-3.4 0-6.9 0.1-3.4-0.1-6.9 0.1-3.5-0.1-3.4 0-6.9 0.1-3.5 0-3.4-0.1-3.5 0.1-3.4-0.1-3.4 0.1-3.5-0.1-6.8 0.1-3.4-0.1-6.7 0.1-6.7-0.1-6.7 0-3.3 0-6.6 0.1-16 0.3-3.2 0.8-6.2 1.1-3.1 4.5-17.9 0.2-2.9 7.7-5.6 2.6-2.8 1.6-8.1 0.1-2.6-6.2-2.6 9.3-2.5 1.4-2.5 3.6-2.5-9.9-2.4 43.5-2.3-34.8-2.4 34.5-4.4 12.3-2.2-8.3-2.1 6.6-2 17.5-2-7.8-2 2-1.9-25.9-1.8-3.2-1.7 9.2-1.7 9.8-1.7 1.5-1.5-0.5-1.6 26.4-1.4-2.4-1.4-3.4-1.3 5-1.2 15.1-1.2-4-1.1 0.1-2-1.3-0.8 3.9-0.8 6.8-0.8-8.6-0.6-4.7-0.6-14.5-0.5 5.8-0.4-17.7-0.3-13-0.3-26.5-0.2 9.6-0.1-10.6 0 72.3 0 0 0.1-2.6 0.2-23.2 0.3 2.8 0.4 4 0.4-11.8 0.6-21.9 0.5 31.1 0.7-8.7 0.8-2.6 1.7-59.3 2 33.7 2.3-12.1 1.2 6.4 1.4 0.8 1.4-1.3 1.4-22.8 1.5 14.5 1.6 5.3 1.7-0.8 1.7 1.5 1.8 6.7 1.8 23.3 1.9-1.7 2-5.1 2-1.7 2-4.2 2.2-3.2 2.1-2 2.2 0.1 2.3-0.9 2.3-5.3 2.4-2.3 2.4-3.5 2.5-1.9 2.5-3.4 2.6-4 2.5-4.9 2.7-3.1 2.6-10.3 2.8-16.6 32-0.5 3.1-0.3 12.6-0.1 3.2 0 3.2 0 6.5 0.1 3.3 0 6.6-0.1 3.3 0.1 6.7" marker-start="url(#k61)" marker-mid="url(#k61)" marker-end="url(#k61)"/>
<path d="M138.9 403.4l-0.1 3.4 0 3.4 0 3.4 0.1 3.4-0.1 6.8 0.1 3.4 0 3.5 0 6.9 0 3.4-0.1 6.9 0.1 13.9-0.1 3.4 0 3.5 0.1 6.9-0.1 6.8 0.1 3.4-0.1 3.4 0.1 10.2-0.1 13.2 0 3.3 0 3.3 0 3.2 0 6.3 0 3.2 0 3.1 0 3 0 3.1 0.1 3-0.1 16.9 0.1 7.7 0 2.4-0.1 2.3 0 4.5 0 2.1 0-0.1 0-6.6 0-2.4 0-2.4 0-2.5 0.1-2.5 0-2.7-0.1-8.2 0-2.9 0-2.9 0.1-2.9-0.1-9.1 0-3.1 0.1-3.1 0-3.2 0-12.9 0-3.3 0-6.6-0.1-3.4 0.1-3.3-0.1-3.4 0-6.8 0-6.8 0.1-3.5-0.1-3.4 0-10.3 0-3.5 0-3.4 0-3.5 0-3.4 0.1-3.5-0.1-6.9 0-6.9 0.1-3.4 0-3.4-0.1-3.4 0-3.5 0-3.4 0.1-3.4-0.1-3.3 0.1-10.1-0.1-3.3 0-6.7 0.1-6.5-0.1-3.3 0-3.2 0-3.2 0-3.2 0-3.2 0.6-6.3 1.8-12.2 0.6-3 11.5-5.9 1.6-19.6-3.4-2.7 3.6-2.6 0.2-2.6 6.5-2.5 10.2-2.5-9.4-2.4 8.4-2.4 27-2.4-21.6-2.3-5.2-2.2 8.5-2.3-6.4-2.1 41.8-2.1-31.5-2.1 10.8-1.9-0.4-2 7.5-1.9-12-1.8-2.4-1.7 5-1.7 12.1-1.7-0.4-1.5 0.1-1.5 17.9-1.5-13.1-1.3-8-1.4 28.5-4.5 35.4-0.9-44.8-0.9-17.9-0.8 11.5-0.7-10.5-0.7-5.8-0.5 11.2-0.5-18.6-0.5 22.4-0.3 14.3-0.3-24.7-0.2-13.7-0.1 19.7 0-12.6 0-20.7 0.2 16.3 0.2-16.2 0.3 12.9 0.3 9.5 0.4-4.4 0.6 55.4 0.6-8 0.6 2.9 0.8-1.2 0.8-2.1 0.9-1.8 2 0.7 1.1-1.8 1.2 3.1 1.2-5 1.3-20.9 1.4 2.1 1.5 1.7 1.5-5.4 1.6-5.7 1.6 3.8 1.7-1.5 1.8-16.3 1.8-14.1 1.9-2.5 1.9 19.1 2.1 1.3 2-9 2.1-6.9 2.2 5.1 2.2-11.7 2.3 0.5 2.3 2 9.7-10 5.1-5.6 8-5.8 2.8-12.3 20.1-3.4 12.2-0.1 3.1-0.3 9.5 0.1 3.2 0 6.4-0.1 3.3 0 3.2 0.1 3.3-0.1 3.3 0 3.4 0.1 3.3 0 3.4-0.1 3.3 0 10.2 0 3.4 0 3.4 0 3.4 0 3.5 0.1 6.9-0.1 3.4 0.1 3.5 0 3.4-0.1 3.5 0 3.4 0.1 13.9-0.1 3.4 0.1 3.4 0 10.3 0 3.5-0.1 3.4 0 6.7 0 3.4 0 3.4 0 6.6 0.1 3.3 0 3.3-0.1 9.7 0 6.3 0 3.1 0.1 3-0.1 3.1 0 3 0.1 11.5 0 5.5-0.1 7.7 0 4.8 0 4.5 0.1 4.1-0.1 3.8 0-1.9 0.1-1.9-0.1-2.1 0-2.1 0-2.2 0.1-2.2 0-2.4-0.1-7.5 0-2.7 0.1-2.7 0-2.7-0.1-2.8 0.1-2.9-0.1-2.9 0.1-2.9-0.1-3 0.1-3.1 0-3-0.1-6.3 0-3.1 0-3.2 0-6.5 0-3.3 0-3.3 0-3.3 0.1-3.3 0-6.7 0-3.4 0-3.4-0.1-6.8 0-3.4 0.1-3.5 0-3.4-0.1-3.4 0-3.5 0.1-3.4-0.1-3.5 0-3.4 0-3.5 0-3.4 0.1-3.5 0-3.4-0.1-10.4 0.1-3.4-0.1-3.4 0.1-3.4-0.1-3.5 0-6.7 0-3.4 0-3.4 0-3.4 0-3.3 0.1-3.3-0.1-3.3 0-9.9 0.1-3.2 0-3.3 0-3.2-0.1-9.5 0.3-6.2 0.2-3.1 0.1-3 0.5-3 1.1-3 0.9-3 1.7-2.9-0.2-2.9 2.5-8.5 3.1-2.8 3.8-2.7-5.2-2.7 3.1-2.7 1.4-2.6 9.3-2.5 1.5-2.6 6.1-4.9 0.8-2.4 5.5-2.3-10.5-2.3 5.2-2.3 6.9-2.2-15.4-2.1-0.1-2.1-4.9-2.1 21-2 36-1.9-34.1-1.9 17-1.8 32.7-1.7-27-1.7-2.3-1.7 15.4-1.5-11.5-1.5 8-1.5-15.8-1.3-10.5-1.3 14.7-1.3-15.7-1.1 8.3-1.1-20.3-1 44.9-1.9-12.6-1.5-6.8-0.6 23-0.6 10-0.5-12.4-0.4 1.7-0.4-7.7-0.3 19-0.1 0.6-0.2 3.8 0-9.5 0.1 3.9 0.1-16.2 0.2-0.1 0.3 7.5 0.3-13.5 0.4-3.4 0.6-9.3 0.5 5 0.7-6.8 0.7 9.1 0.8 22.4 0.9-26.2 4.3-1.9 1.2 30.7 1.3-62.4 1.4 22 1.5-15 1.5 6.4 1.6 10.9 1.6 24.6 1.7-53.4 1.8 7.1 1.8 9.6 1.9 27.9 1.9-0.4 2-40 2.1 10.9 2.1 3 2.1-4.3 2.2 11 2.3-14.6 2.3-6.2 2.4-5.5 2.4-9.5 2.4-0.3 2.5 8.3 2.5 1.3 2.6 2.5 2.6 0.7 2.7-6.1 2.7-2.3 2.7-2.7 2.8-0.5 2.8-3.9 2.8 4.7 2.9-8.4 2.9 7.1 3-9.4 2.9-0.3 3-1.2 9.2-0.4 9.3 0 6.4 0 6.5 0 3.2 0.1 3.3-0.1 3.3 0.1 3.3-0.1 3.3 0.1 3.3-0.1 3.4 0 3.3 0.1 13.6-0.1 3.4 0.1 3.4 0 6.9-0.1 3.5 0 10.3 0.1 3.5-0.1 3.4 0.1 3.5 0 3.4-0.1 3.5 0 3.4 0.1 3.5 0 3.4-0.1 3.5 0 3.4 0 3.4 0 3.5 0.1 3.4-0.1 3.4 0.1 10.1-0.1 6.6 0 3.3 0.1 3.3 0 3.3 0 6.4 0 3.2 0 9.3-0.1 6.1 0 11.5 0 5.5 0.1 5.2 0 5 0 2.4-0.1 2.3 0 4.3 0 4 0.1 1.8 0 8.8 0-2.4 0-4.6 0-1.7-0.1-1.8 0-4 0.1-6.6-0.1-2.4 0-2.4 0-2.5 0-2.6 0-2.7 0-2.7 0-2.7 0-2.8 0-2.9 0-2.9 0-3 0.1-3 0-3-0.1-3.1 0-3.1 0.1-3.1-0.1-3.2 0-6.4 0.1-6.6 0-6.6 0-3.3-0.1-3.4 0.1-3.3 0-3.4 0-3.4 0-3.4-0.1-3.4 0.1-3.4 0-10.3 0-3.5-0.1-10.3 0-3.5 0.1-3.5 0-10.3-0.1-3.4 0-6.9 0.1-3.4-0.1-3.4 0-6.9 0-3.3 0-3.4 0.1-3.4-0.1-3.3 0-3.4 0-6.6 0-3.3 0.1-3.3-0.1-3.3 0-3.2 0.1-3.2-0.1-3.2 0.1-3.2 0-3.2 0.3-9.3 0.5-3.1 0.3-3.1 11.1-14.7 2.5-2.9 3.2-2.8 0.1-2.8 2.4-2.8 2.5-2.7 2.3-2.7 4.5-2.6 0.5-2.7 5.8-2.5 4.1-2.5 0.6-2.5-20.7-2.5-2.3-2.4 11.1-2.3 2.9-2.3 9.2-2.2-2.9-2.2-2.5-2.2 23.6-2.1 2.3-2-0.2-2 8.2-1.9-0.8-1.9 7.4-1.8 4.4-1.8 5.1-1.7-2.5-1.6 8.2-1.5-2.5-1.5 7.4-1.5 3.2-1.3 1.5-1.3-1.7-1.3-3.8-1.1 5.7-1.1 0-1.1 0.4-0.9 1.6-0.9-1.8-0.8 2.8-0.7 2-0.7-0.9-0.5 4.2-0.5 0.1-0.4-2-0.4-0.1-0.3 5.3-0.2 2.2-0.1-0.9 0-7.9 0-0.1 0.2-4.9 0.2-0.7 0.2 0.2 0.4 3.8 0.4 1.3 0.5-48.1 0.6-13.3 0.7 1.2 0.7 4.9 0.8-14.8 0.9-0.1 0.9 57.9 1.1 5.8 1-1.7 1.2-6.7 1.3 6.4 1.3-9.8 1.3 2.6 1.5-2.9 1.5-4.7 1.5-4.2 1.7-3.4 1.7-0.7 1.7-4.1 1.8-1.6 1.9-42.6 1.9-5.2 2 10.1 2.1 2.4 2.1-13.7 2.1 6.3 2.2-4.1 2.3-12.7 2.3 0.6 2.3 33.6 2.4-3.8 2.5-9.2 2.5-11.9 2.5 0.9 2.6 1.7 2.6-3.1 2.6 0.4 2.7-9 2.7 2.9 2.8-1.7 2.8-2.5 2.8-6.8 20.7-0.6 3.1-0.3 6.2 0 3.2-0.1 6.3 0.1 3.2-0.1 3.3 0 3.2 0.1 3.3 0 3.3 0 3.3-0.1 6.6 0 6.7 0.1 3.4-0.1 3.4 0 3.4 0 3.4 0 3.4 0.1 3.4-0.1 3.4 0 3.5 0 3.4 0 3.5 0.1 3.4-0.1 6.9 0.1 3.5-0.1 3.4 0 3.5 0 3.5 0 3.4 0 10.4 0.1 3.4-0.1 3.4 0.1 3.4-0.1 3.5 0 13.5 0 3.3 0.1 3.3-0.1 3.3 0.1 3.3-0.1 3.3 0 3.2 0 3.2 0 3.2 0 3.2 0.1 3.1-0.1 3.1 0 6 0.1 3 0 2.9-0.1 2.9 0 2.8 0 2.8 0 2.7 0.1 2.7-0.1 2.6 0 7.4 0 2.3 0 6.4 0 5.5 0.1 1.7-0.1 2.9 0 2.6 0.1-1.2 0-1.2 0-3-0.1-1.6 0-1.7 0-1.9 0-3.9 0.1-2.2 0-2.2 0-2.3-0.1-4.8 0.1-2.5 0-2.6-0.1-5.4 0-5.6 0.1-2.8 0-3-0.1-5.9 0-3.1 0-3 0.1-3.2-0.1-6.3 0-3.2 0-3.2 0-3.3 0.1-3.3-0.1-3.3 0-3.3 0-3.3 0-3.4 0-3.3 0.1-10.2-0.1-6.9 0.1-3.4 0-3.4-0.1-3.5 0-3.4 0-3.5 0-6.9 0-3.4 0-17.3 0-3.4 0.1-3.4 0-6.9-0.1-3.4 0.1-3.4 0-6.7-0.1-3.4 0-3.3 0.1-6.7 0-3.3-0.1-3.3 0.1-3.3-0.1-3.3 0-6.4 0-3.2 0.1-3.2-0.1-6.3 0.5-6.2 0.5-3.1 1-3 1.6-3 2-3 2.1-3 4.4-11.5 2.6-2.8-2.9-2.7-1.7-2.7 5.7-2.7 1.7-2.7 5.9-2.6-1.1-2.5 11.7-2.5 1.1-2.5 3.4-2.5-1.6-2.3 7.7-2.4-10.3-2.3 4.9-2.2-6-2.2 12.4-2.2-2-2 8.4-2.1-20.1-2 14-1.9 7.9-1.9-11.6-1.8 17.1-1.7 5.8-1.7-21.4-1.6 28.5-1.6-4.8-1.5 7.8-1.4-9.7-1.4 2.5-1.3 10.6-1.2-0.8-1.2 2.7-1.1-4.7-1 10.6-0.9-19.5-3.1 0.8-0.5 1.5-0.5-12.5-0.5-17.7-0.3 22.5-0.3 11.9-0.2-0.8-0.1-3.8 0-1.3 0-7 0.1 9 0.2-30.1 0.3-0.9 0.3 48.9 0.5-2.4 0.5-3.4 0.5-2.4 0.7 0.4 0.7-9.4 0.8-10.4 0.9 20 0.9 6.4 1.1-12.8 1-2.9 1.2 12.3 1.2 2.3 1.3-1.6 1.4-1.6 1.4-1.8 1.5-1.7 1.6-2.5 1.6-3.7 1.7 9.9 1.8-16.7 1.8-3 1.8-2 2-3.2 1.9-2.2 2.1-1.6 2.1-1.3 2.1-5.4 2.2-8.1 2.3 12.9 2.2-5.9 2.4-0.7 2.4-4.8 2.4-9.3 2.5-10.6 2.5-1.2 2.6 6.8 2.6-2.2 2.6-19 2.7 1.1 2.7 0.6 2.8-1.6 2.8-0.5 2.8 0.7 2.9 0.9 2.9-2.2 2.9-0.3 2.9-1.1 3-1 3-0.7 3.1-0.2 3-0.3 6.3 0 3.1 0 3.2 0 3.1 0 3.2" marker-start="url(#k62)" marker-mid="url(#k62)" marker-end="url(#k62)"/>
<path d="M138.8 383l0.1 3.3-0.1 3.3 0.1 6.6-0.1 3.3 0.1 3.3-0.1 3.4 0 3.4 0.1 3.3 0 3.4-0.1 3.4 0 3.5 0 3.4 0 3.4 0.1 3.4 0 3.5-0.1 3.4 0 3.5 0.1 3.4 0 3.5 0 3.4 0 3.5-0.1 3.4 0.1 7-0.1 3.4 0.1 3.5-0.1 3.4 0.1 3.4 0 3.5 0.1 3.4-0.2 3.4 0.1 3.4-0.1 3.4 0 3.4 0 3.3 0 3.4 0.2 3.3-0.2 6.6 0 3.3 0.1 3.2-0.1 3.2 0.1 3.2-0.1 3.2 0.1 6.2-0.1 3.1 0 3 0 3 0 2.9 0 2.9 0.1 5.6 0 2.7 0 2.7 0 5.1 0 2.5-0.1 9.1 0.1 7.7-0.1 1.6 0 5.5 0.1 2.1 0-0.9-0.1-2.2 0.1-1.3-0.1-1.4 0.1-3.1 0-1.8 0-1.8 0-2-0.1-2 0.1-2.2 0-4.5-0.1-2.4 0.1-2.4 0-2.5 0-2.6 0-2.7-0.1-2.7 0.1-2.8-0.1-5.7 0-2.9 0.1-3 0-3 0.1-3-0.1-3.1-0.1-3.1 0.1-3.2 0-3.2 0-3.2-0.1-3.2 0.1-3.3-0.1-3.3 0.1-3.3-0.1-3.3 0-3.3 0-3.4 0-3.3 0.1-3.4-0.1-3.4 0-3.4 0-3.5 0.1-3.4-0.1-3.4 0-3.4 0.1-3.5 0-3.4-0.1-3.5 0-3.4 0-3.5 0-3.4 0-3.5 0-3.4 0.1-3.5 0-3.4 0-3.5-0.1-3.4 0.1-3.4 0-3.5-0.1-3.4 0-3.4 0-3.4 0-3.4 0.1-3.3 0.1-3.4-0.1-3.4 0.1-3.3-0.2-3.3 0.1-3.3-0.1-3.3 0.1-3.3 0-3.2 0-3.3 0.1-3.2-0.2-3.2 0-3.2 0.1-3.1 0.1-3.2 0-3.1 0.2-3.1 0.1-3 0.5-3.1 0.6-3 0.6-3 2.7-2.9 3.1-2.9-1.3-2.9 1.2-2.9 3.3-2.8 3.5-2.8 1.3-2.7 0.3-2.8 5.1-2.6 1.8-2.7 1.8-2.6 4.2-2.5 4-2.5-2.7-2.5 8.7-2.5 2.2-2.3-0.8-2.4 3.2-2.3 5.8-2.2 1.5-2.2 0.6-2.1-2.2-2.1 7-2.1 2.8-1.9 2-2-2.3-1.8-7.1-1.8 4-1.8-4.4-1.6 2.7-1.7-19.9-1.5 28.8-1.5-2.5-1.5 5-1.3 16.6-1.3-6.3-1.2-19.9-1.2 19.5-1.1-24.1-1-6.8-1 29.1-0.8-20.3-0.8 18.8-0.8 7.6-0.6-1.7-0.6 11.2-0.5 0.4-0.4-14-0.4-1.5-0.2-11.7-0.2 24.8-0.2-0.1 0-27.6 0 24.7 0.2-4.6 0.1 9.5 0.3 2.4 0.4-19.6 0.4 13.4 0.5-6 0.5-17.2 0.7-2.7 0.7 7.1 0.8 2.9 0.9-8.7 0.9 7 1 0.9 1.1-2.8 1.2-47.5 1.2 9.3 1.3 10.1 1.4 29.2 1.4 0.8 1.5-21.8 1.5-10.4 1.6 10.1 1.7 2.5 1.8-25 1.8 3.9 1.8 7 1.9 1.8 2-5.3 2.1 0.9 2 29.6 2.2-29.7 2.2 4.7 2.2 0.4 2.3 1.6 2.3-7.2 2.4 5 2.4-2 2.5-6.7 2.5 0.2 2.6-4.2 2.6-4.8 2.6-0.7 2.7-1 2.7-1.7 2.8-1.4 2.7-1.2 2.9 0.7 2.8-4.1 2.9-2 2.9-1.1 3-2.6 2.9-1.8 3.1-0.9 3-0.3 3-0.1 3.1-0.2 3.1 0 3.2 0.1 3.1 0 3.2-0.1 3.2 0.1 3.2 0 3.3 0 3.2 0.2 3.3-0.2 3.3-0.1 3.3 0.1 3.3 0.1 3.4-0.1 3.3 0 3.4-0.1 3.4 0.1 3.4 0 3.4 0.1 3.4-0.1 3.4 0 3.4-0.1 3.5 0.1 3.4-0.1 3.4 0.1 3.5-0.1 3.4 0.2 3.5-0.1 3.4 0 3.5 0 3.5 0 3.4-0.1 3.5 0.1 3.4 0 3.5-0.1 3.4 0.1 3.5-0.1 3.4 0.1 3.4-0.1 3.4 0.1 3.4-0.1 3.4 0.1 3.4 0 3.4-0.1 3.3 0.1 3.4 0 3.3 0 3.3-0.1 3.2 0 3.3 0.1 3.2 0 3.2 0 3.2-0.1 3.1 0.2 3.1-0.1 3.1 0 3 0 3-0.1 2.9 0.1 2.9-0.1 2.9 0 2.8 0.1 2.7 0 2.7-0.1 2.6 0 7.4 0 2.4 0.1 2.2-0.1 2.2 0 4 0 1.9 0.1 1.8-0.1 1.6 0 1.6 0.1 2.7-0.1 2.3 0 1.7 0.1 1.6 0-0.8 0-0.6-0.1-1.7 0.1-1 0-1.2-0.1-1.2 0.1-1.4 0-3.2-0.1-1.8 0-1.8 0.1-2 0-2 0-2.1 0-2.3 0-2.3-0.1-2.4 0-2.4 0.1-2.6 0.1-2.6-0.1-2.6 0-2.7 0-2.8 0-2.9 0.1-2.8-0.1-3-0.1-2.9 0.1-3.1 0-3 0-3.1 0-3.1-0.1-3.2 0-3.2 0.1-3.2 0-3.2 0.1-3.3-0.2-3.3 0.1-3.3 0-3.3 0.1-3.3-0.1-3.4 0-3.4 0-3.4-0.1-3.4 0.1-3.4-0.1-3.4 0.1-3.4-0.1-3.4 0.1-3.5 0-3.4-0.1-3.5 0.1-3.4 0-3.5 0-3.4-0.1-3.5 0-3.4 0-3.5 0-3.4 0.2-3.5-0.2-3.4 0-3.4 0.1-3.5-0.1-3.4 0-3.4 0.1-3.4-0.1-3.4 0.1-3.4 0-3.4 0-3.3 0-3.4 0-3.3 0-3.3 0-3.3 0.1-3.3-0.1-3.3-0.1-3.3 0.1-3.2 0-3.2 0-3.2 0-3.2 0-3.1 0-3.2 0-3.1 0.2-3.1 0.3-3 1-3 1.2-3.1 1.7-2.9 2.9-3 1.9-2.9 1.9-2.9 1.8-2.8 2.1-2.8 1.3-2.8 3-2.8-1-2.7 2-2.7 2.2-2.6 4-2.6 2.7-2.6 3-2.5 3.3-2.4 8.9-2.5-3.4-2.3 2.5-2.4 10.5-2.3-6.6-2.2 3.2-2.2 8.5-2.1 6.8-2.1 0.8-2-0.9-2 1.4-1.9 7.3-1.9-2.5-1.8 2.9-1.7 0.8-1.7 2.2-1.6-6.4-1.6 15.5-1.5 1.5-1.4-32.5-1.4-10.4-1.3 6-1.2-7.6-1.2 15.1-1.1 25-1-5.4-0.9-9.2-0.9 31.2-0.8-0.9-0.7 2.1-0.7-0.9-0.6-1.7-0.5 6.1-0.4-4.4-0.3 3.6-0.3-58.9-0.2 15-0.1-10.1-0.1 61.3 0.1-59.9 0.1-8.6 0.2 2.2 0.2 5.1 0.4-9.3 0.4 12.5 0.5-9.2 0.5 22.4 0.7-47.5 0.7 30.3 0.8-2.2 0.8-4.8 1 58.4 1-6.3 1.1-6.7 1.1-1.8 1.2 4.7 1.3-1.9 1.4-2.5 1.4-4.5 1.5-27.1 1.5-6.3 1.6-20.9 1.7 8.8 1.7 20 1.8-1.9 1.9-7.9 1.9-14.3 2-9.5 2 21.8 2.1-1.7 2.1 9 2.2-1.6 2.2-3.3 2.3-11.3 2.3 1.4 2.4-4.9 2.4 0.3 2.5 3.8 2.5-10 2.5-4.9 2.6-1.4 2.7-1.3 2.6-1.8 2.7-2.6 2.8-4.3 2.8-3.2 2.8-3.3 2.8 3.4 2.9-1.8 2.9-2.4 3-1.7 2.9 0.3 3-1.5 3.1 0 3-0.2 3.1-0.1 3.1 0 3.1 0.1 3.2-0.1 3.2 0 3.2 0 3.2 0 3.2 0 3.3 0 3.2 0 3.3 0.2 3.3-0.1 3.4 0 3.3 0 3.3 0 3.4 0 3.4-0.1 3.4 0.1 3.4-0.1 3.4 0 3.4 0.1 3.4-0.1 3.4 0.1 3.5 0.1 3.4-0.2 3.5 0 3.4 0.1 3.5-0.1 3.4 0.1 3.5 0 3.4-0.1 3.5 0.1 3.5 0 3.4-0.1 3.5 0 3.4 0 3.5 0 3.4 0.1 3.4-0.1 3.4 0 3.4 0.1 3.4 0 3.4-0.1 3.4 0.1 3.3 0 3.4 0 3.3-0.1 3.3 0 3.3 0 3.2 0.1 3.2 0 3.2 0 3.2-0.1 3.2 0.1 3.1-0.1 3 0 3.1 0 3 0.1 2.9-0.1 2.9 0.1 2.9 0 2.8 0.1 2.7-0.1 2.7-0.1 2.6 0.1 2.6 0 2.5 0 2.4 0 2.4-0.1 2.2 0.2 2.2-0.2 2.1 0 2 0 1.9 0 1.7 0.1 1.7 0 1.6 0 1.4-0.1 1.4 0 1.2 0.1 1-0.1 1 0 2.5 0-0.4 0-0.5 0.1-0.6-0.1-1.6 0.1-1.1 0-1.1-0.1-1.3 0-1.4 0-1.6 0-1.6 0-1.7 0.1-1.9 0-2-0.1-2 0-2.2 0-2.2 0-2.3 0-2.4 0.1-2.5 0-2.5 0-2.6-0.1-2.7 0-2.7 0-2.8 0.1-2.8-0.1-2.9 0-2.9 0.1-3 0-3 0.1-3.1-0.1-3.1 0.1-3.1-0.2-3.2 0.1-3.2 0-3.2 0-3.2 0-3.3-0.1-3.3 0-3.3 0.1-3.3-0.1-3.4 0-3.3 0.2-3.4-0.2-3.4 0.1-3.4 0-3.4-0.1-3.4 0.2-3.4-0.1-3.5 0-3.4 0-3.5-0.1-3.4 0-3.5 0.1-3.4 0-3.5 0-3.4 0-3.5-0.1-3.4 0.1-3.5 0-3.4 0-3.4 0.1-3.5-0.1-3.4 0-3.4-0.1-3.4 0-3.4 0.1-3.4 0-3.4-0.1-3.4 0.1-3.3 0-3.4-0.1-3.3 0.1-3.3-0.1-3.4 0-3.2 0.1-3.3-0.1-3.3 0-3.2 0-3.2 0-3.2 0-3.2 0-3.1 0-3.2 0-3.1 0.1-3 0-3.1 0.6-3 0.7-3 1.7-3 2.5-2.9 1.9-3-0.4-2.8 3.9-2.9 1.2-2.8-0.6-2.8 3.5-2.7 1.5-2.7 1.2-2.7-0.1-2.6 5-2.6 4.4-2.6 1.3-2.5 5-2.5-0.4-2.4 4.8-2.4-0.2-2.3 3.8-2.3 26.3-2.2-21.7-2.2 5-2.1 2.8-2.1 1.3-2 2.8-2 1.4-1.9-0.3-1.9-1-1.8 15.1-1.7 1.2-1.7 3.8-1.6 7.8-1.6-8.9-1.5-0.9-1.4-15.3-1.4-8.5-1.3-11.4-1.2 58.7-1.2-34.4-1 14.1-1.1 1.3-0.9 4.7-0.9 3.6-0.8-18-0.7-14.7-0.7-10.5-0.5-5.3-0.5 16.6-0.5 9-0.3-5.3-0.3 3.2-0.2-21.5-0.1 21.1-0.1-12 0.1-1.5 0.1 63.1 0.1-5 0.3-67.6 0.3 14 0.4-13.7 0.5-9.1 0.6 22.5 0.6-16.1 0.7-4.9 0.8 10.8 0.9 29.4 0.9-29.3 1 43.2 1.1 3.8 1.1-6.4 1.2-55 1.3 8.8 1.4-16.6 1.4 23.5 1.5-5.1 1.5 11.4 1.6 5.6 1.7 1 1.7-0.1 1.8-0.6 1.8-0.1 1.9-1.7 2-1.6 2-4.4 2.1 14.5 2.1-19 2.2-0.6 2.2 5.5 2.3-24.6 2.3-8 2.4-3 2.4 0.4 2.4-7.9 2.5 4.3 2.6-5.9 2.6-0.3 2.6 3.1 2.7-2.3 2.7-1 2.7 1.2 2.8-0.2 2.8-0.2 2.8-0.6 2.9-1.7 2.9-1.6 2.9-0.6 3-0.5 3-0.5 3 0 3.1-0.2 3 0 3.1-0.1 3.2 0 3.1 0.2 3.2 0 3.2-0.1 3.2 0.1 3.2-0.2 3.3 0 3.2 0 3.3 0 3.3 0 3.4 0.1 3.3-0.1 3.3 0.2 3.4 0 3.4-0.1 3.3 0 3.4 0 3.4-0.1 3.5 0 3.4 0.1 3.4 0 3.4 0 3.5 0 3.4 0 3.5-0.1 3.4 0 3.5 0.1 3.4 0 3.5 0 3.5 0 3.4 0 3.5-0.1 3.4 0 3.5 0 3.4 0.1 3.4-0.1 3.5 0.1 3.4-0.1 3.4 0 3.4 0.1 3.4 0 3.4-0.1 3.3 0.1 3.4 0 3.3 0 3.3-0.1 3.3 0.1 3.2 0 3.3 0 3.2-0.1 3.1 0.1 3.2 0 3.1 0 3.1 0 3 0.1 3-0.2 3 0 2.9 0.2 2.9-0.2 2.8 0 2.7 0.1 2.7 0 2.7-0.1 2.5 0.1 2.6 0.2 2.4-0.2 2.3-0.1 2.3 0.1 2.2 0 2.1 0 2-0.1 1.9 0 1.8 0.1 1.7-0.1 1.6 0 1.4 0.1 1.4-0.1 1.2 0.1 1.1-0.1 0.9 0.1 0.8 0 0.7-0.1 0.5 0.1 0.4 0 0.3 0.1 0.1-0.1-0.1 0-0.1-0.1-0.4 0.1-0.5-0.1-0.6 0.1-0.7 0-0.9 0-1.1 0.1-1.1-0.2-1.3 0-1.4 0-1.6 0-1.6 0.1-1.8 0.1-1.8-0.2-2 0.1-2 0-2.2-0.1-2.2 0.1-2.3 0-2.4-0.1-2.5 0.1-2.6 0-2.6-0.1-2.6 0.1-2.8-0.1-2.8 0-2.8 0.1-2.9 0.1-2.9-0.2-3 0.1-3 0-3.1-0.1-3.1 0.1-3.1 0-3.2 0-3.2-0.1-3.2 0-3.3 0-3.2 0.2-3.3-0.1-3.3-0.1-3.4 0.1-3.3 0-3.4 0-3.3-0.1-3.4 0.1-3.4 0-3.4 0-3.5 0-3.4-0.1-3.4 0-3.5 0.1-3.4-0.1-3.5 0.1-3.4 0-3.5-0.1-3.4 0-3.5 0-3.4 0-3.5 0.1-3.4-0.1-3.5 0-3.4 0-3.4 0.1-3.5 0-3.4 0-3.4 0-3.4 0-3.4-0.1-3.4 0.1-3.3-0.1-3.4 0-3.3 0.1-3.4-0.1-3.3 0-3.3 0-3.3 0.2-3.2-0.2-3.3 0-3.2 0-3.2 0-3.2 0.1-3.2-0.1-3.1 0.1-3.2-0.1-3.1 0.3-3 0.2-3.1 0.5-3 1-3 1.5-3 1.5-2.9 2.2-2.9 1.7-2.9 1.8-2.9 2-2.8 1.4-2.8 1.3-2.7 1.9-2.7 1-2.7 1-2.6 2.9-2.6 2.9-2.5 3.8-2.6-1.1-2.4-5.5-2.4 12.1-2.4 2.9-2.3 3.3-2.3 1.4-2.3 3.6-2.1-0.2-2.2-4.1-2 1.1-2.1-1.7-1.9 0.7-1.9 1.4-1.9 1.2-1.8-1-1.7-2.8-1.7 4.8-1.6-11.6-1.6 59.4-1.5-54.3-1.4 32.6-1.4-32.4-1.3 4.1-1.2 4.7-1.2 12.3-1-19.9-1.1 76.8-0.9-4.8-0.9-47.4-0.8 3.3-0.7-4.3-0.7 6.2-0.5 7.8-0.6 12.8-0.4-1.5-0.3 2.1-0.3-5.9-0.2 5.6-0.2-3.5 0-8 0-5.5 0.1-16.2 0.2 22.3 0.3-15.3 0.3-2.2 0.4-6.8 0.5 17.3 0.5 1.5 0.7-4.1 0.7-17.5 0.8-16.6 0.8 30.6 0.9-9.8 1-0.8 1.1 9.8 1.1-7.5 1.2-1.5 1.3-5.3 1.3 7.6 1.4-18.7 1.5-10.8 1.6 4.7 1.6-4.7 1.6-18 1.7 10.3 1.8 24.7 1.9-5.3 1.8-12 2-4.1 2 14.2 2.1-7.5 2.1 21.7 2.1-19.7 2.3-0.3 2.2 3.4 2.3-6 2.4-7.8 2.4 3.4 2.5 0.3 2.5-7.4 2.5-0.1 2.6 0.4 2.6-2.7 2.6-1.4 2.7-1.3 2.8-4.7 2.7-3.1 2.8-0.8 2.9-0.1 2.8-3.3 2.9 0 3-0.7 2.9-0.8 3-0.3 1.8" marker-start="url(#k63)" marker-mid="url(#k63)" marker-end="url(#k63)"/></g>
<defs><linearGradient id="cg" x1="0" y1="1" x2="0" y2="0"><stop offset="0.0000" stop-color="#a280aa"/><stop offset="0.0417" stop-color="#a387b1"/><stop offset="0.0833" stop-color="#a48fb8"/><stop offset="0.1250" stop-color="#a396bd"/><stop offset="0.1667" stop-color="#a29cc1"/><stop offset="0.2083" stop-color="#9fa2c3"/><stop offset="0.2500" stop-color="#9da9c5"/><stop offset="0.2917" stop-color="#9aaec6"/><stop offset="0.3333" stop-color="#98b3c6"/><stop offset="0.3750" stop-color="#96b9c7"/><stop offset="0.4167" stop-color="#94bdc7"/><stop offset="0.4583" stop-color="#92c3c6"/><stop offset="0.5000" stop-color="#90c8c6"/><stop offset="0.5417" stop-color="#8fccc5"/><stop offset="0.5833" stop-color="#90d2c2"/><stop offset="0.6250" stop-color="#94d7bf"/><stop offset="0.6667" stop-color="#9adbbc"/><stop offset="0.7083" stop-color="#a3e0b7"/><stop offset="0.7500" stop-color="#afe4b0"/><stop offset="0.7917" stop-color="#bae8aa"/><stop offset="0.8333" stop-color="#c8eba1"/><stop offset="0.8750" stop-color="#d6ee98"/><stop offset="0.9167" stop-color="#e3f08f"/><stop offset="0.9583" stop-color="#f2f18c"/><stop offset="1.0000" stop-color="#fef392"/></linearGradient></defs>
<rect x="741" y="54" width="29" height="579" fill="url(#cg)"/>
<path d="M111 53h594v2h-594z M111 632h594v2h-594z M111 53h2v581h-2z M703 53h2v581h-2zM105 100h6v2h-6zM105 183h6v2h-6zM105 267h6v2h-6zM105 351h6v2h-6zM105 434h6v2h-6zM105 518h6v2h-6zM105 601h6v2h-6zM138 634h2v6h-2zM219 634h2v6h-2zM301 634h2v6h-2zM383 634h2v6h-2zM465 634h2v6h-2zM546 634h2v6h-2zM628 634h2v6h-2zM740 53h31v2h-31z M740 632h31v2h-31z M740 53h2v581h-2z M769 53h2v581h-2zM771 53h6v2h-6zM771 198h6v2h-6zM771 342h6v2h-6zM771 487h6v2h-6zM771 632h6v2h-6z" fill="#2a2a2a"/>
<path d="M926.9 314.6V299.6M922.9 303.6L926.9 299.4L930.9 303.6" stroke="#000" stroke-width="1.7" fill="none"/>
<text x="138.00" y="42.00" font-size="26.40" textLength="540.02" lengthAdjust="spacingAndGlyphs" stroke="#fff" stroke-width="0.16">Élévation solaire en fonction de Luminance</text>
<text x="330.00" y="691.00" font-size="21.70" textLength="154.06" lengthAdjust="spacingAndGlyphs" stroke="#fff" stroke-width="0.17">Luminance (lx)</text>
<text x="0" y="0" transform="translate(39.00 448.00) rotate(-90)" font-size="21.70" textLength="205.05" lengthAdjust="spacingAndGlyphs" stroke="#fff" stroke-width="0.15">Élévation solaire (°)</text>
<text x="0" y="0" transform="translate(933.00 472.00) rotate(-90)" font-size="21.70" textLength="150.01" lengthAdjust="spacingAndGlyphs" stroke="#fff" stroke-width="0.1">Temps (ancien</text>
<text x="0" y="0" transform="translate(932.00 290.00) rotate(-90)" font-size="21.70" textLength="73.06" lengthAdjust="spacingAndGlyphs" stroke="#fff" stroke-width="0.1">récent)</text>
<text x="71.00" y="109.00" font-size="21.70" textLength="25.19" lengthAdjust="spacingAndGlyphs">60</text>
<text x="72.00" y="192.00" font-size="21.70" textLength="25.04" lengthAdjust="spacingAndGlyphs">40</text>
<text x="71.00" y="276.00" font-size="21.70" textLength="25.19" lengthAdjust="spacingAndGlyphs">20</text>
<text x="84.00" y="360.00" font-size="21.70" textLength="12.32" lengthAdjust="spacingAndGlyphs">0</text>
<text x="54.00" y="443.00" font-size="21.70" textLength="42.11" lengthAdjust="spacingAndGlyphs">−20</text>
<text x="54.00" y="527.00" font-size="21.70" textLength="42.11" lengthAdjust="spacingAndGlyphs">−40</text>
<text x="54.00" y="610.00" font-size="21.70" textLength="42.11" lengthAdjust="spacingAndGlyphs">−60</text>
<text x="133.00" y="664.00" font-size="21.70" textLength="12.32" lengthAdjust="spacingAndGlyphs">0</text>
<text x="188.00" y="664.00" font-size="21.70" textLength="65.07" lengthAdjust="spacingAndGlyphs">20000</text>
<text x="270.00" y="664.00" font-size="21.70" textLength="65.02" lengthAdjust="spacingAndGlyphs">40000</text>
<text x="351.00" y="664.00" font-size="21.70" textLength="65.07" lengthAdjust="spacingAndGlyphs">60000</text>
<text x="433.00" y="664.00" font-size="21.70" textLength="65.07" lengthAdjust="spacingAndGlyphs">80000</text>
<text x="508.00" y="664.00" font-size="21.70" textLength="78.12" lengthAdjust="spacingAndGlyphs">100000</text>
<text x="590.00" y="664.00" font-size="21.70" textLength="78.12" lengthAdjust="spacingAndGlyphs">120000</text>
<text x="785.00" y="631.00" font-size="21.70" textLength="120.03" lengthAdjust="spacingAndGlyphs" stroke="#fff" stroke-width="0.08">2025-03-10</text>
<text x="785.00" y="653.80" font-size="21.70" textLength="124.03" lengthAdjust="spacingAndGlyphs" stroke="#fff" stroke-width="0.08">09:35 (UTC)</text>
<text x="785.00" y="486.00" font-size="21.70" textLength="119.03" lengthAdjust="spacingAndGlyphs" stroke="#fff" stroke-width="0.08">2025-05-12</text>
<text x="785.00" y="508.80" font-size="21.70" textLength="124.03" lengthAdjust="spacingAndGlyphs" stroke="#fff" stroke-width="0.08">23:13 (UTC)</text>
<text x="785.00" y="341.00" font-size="21.70" textLength="119.03" lengthAdjust="spacingAndGlyphs" stroke="#fff" stroke-width="0.08">2025-07-15</text>
<text x="785.00" y="363.80" font-size="21.70" textLength="124.08" lengthAdjust="spacingAndGlyphs" stroke="#fff" stroke-width="0.08">12:51 (UTC)</text>
<text x="785.00" y="197.00" font-size="21.70" textLength="119.03" lengthAdjust="spacingAndGlyphs" stroke="#fff" stroke-width="0.08">2025-09-17</text>
<text x="785.00" y="219.80" font-size="21.70" textLength="124.03" lengthAdjust="spacingAndGlyphs" stroke="#fff" stroke-width="0.08">02:29 (UTC)</text>
<text x="785.00" y="52.00" font-size="21.70" textLength="120.03" lengthAdjust="spacingAndGlyphs" stroke="#fff" stroke-width="0.08">2025-11-19</text>
<text x="785.00" y="74.80" font-size="21.70" textLength="124.08" lengthAdjust="spacingAndGlyphs" stroke="#fff" stroke-width="0.08">16:08 (UTC)</text>
</svg></body></html>
